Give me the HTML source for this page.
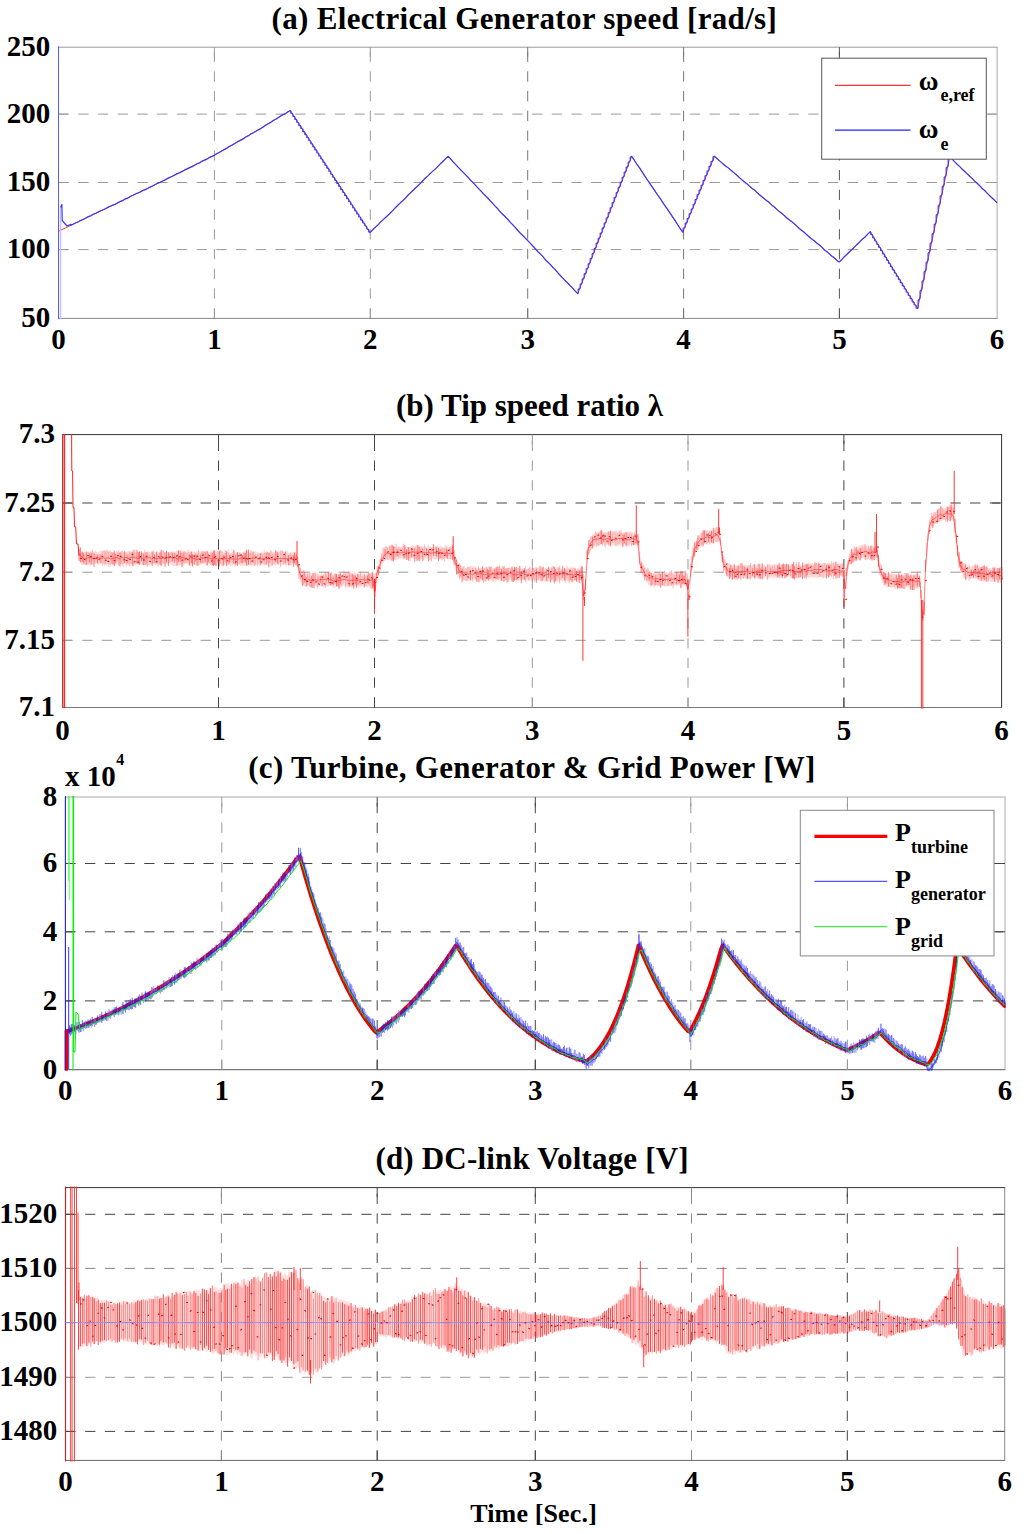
<!DOCTYPE html>
<html><head><meta charset="utf-8"><title>plot</title><style>
html,body{margin:0;padding:0;background:#fff;width:1024px;height:1534px;overflow:hidden}
svg{display:block}
text{font-family:"Liberation Serif",serif;font-weight:bold;fill:#000;stroke:none}
</style></head><body>
<svg width="1024" height="1534" viewBox="0 0 1024 1534">
<rect width="1024" height="1534" fill="#fff"/>
<g fill="none" stroke-width="1">
<path d="M214.4 318.4 V47.2" stroke="#9a9a9a" stroke-dasharray="10.3 9.43"/>
<path d="M370.3 318.4 V47.2" stroke="#9a9a9a" stroke-dasharray="10.3 9.43"/>
<path d="M527.7 318.4 V47.2" stroke="#777" stroke-dasharray="10.3 9.43"/>
<path d="M683.6 318.4 V47.2" stroke="#777" stroke-dasharray="10.3 9.43"/>
<path d="M839.4 318.4 V47.2" stroke="#555" stroke-dasharray="10.3 9.43"/>
<path d="M58.5 114.1 H997.1" stroke="#9a9a9a" stroke-dasharray="10.3 9.43"/>
<path d="M58.5 182.5 H997.1" stroke="#9a9a9a" stroke-dasharray="10.3 9.43"/>
<path d="M58.5 249.6 H997.1" stroke="#9a9a9a" stroke-dasharray="10.3 9.43"/>
<path d="M58 47.2 H997.6" stroke="#999"/>
<path d="M58 318.4 H997.6" stroke="#888"/>
<path d="M58.5 47.2 V318.4" stroke="#999"/>
<path d="M997.1 47.2 V318.4" stroke="#aaa"/>
<path d="M214.4 318.4v-9.5M214.4 47.2v9.5" stroke="#9a9a9a"/>
<path d="M370.3 318.4v-9.5M370.3 47.2v9.5" stroke="#9a9a9a"/>
<path d="M527.7 318.4v-9.5M527.7 47.2v9.5" stroke="#777"/>
<path d="M683.6 318.4v-9.5M683.6 47.2v9.5" stroke="#777"/>
<path d="M839.4 318.4v-9.5M839.4 47.2v9.5" stroke="#555"/>
<path d="M58.5 114.1h9.5M997.1 114.1h-9.5" stroke="#9a9a9a"/>
<path d="M58.5 182.5h9.5M997.1 182.5h-9.5" stroke="#9a9a9a"/>
<path d="M58.5 249.6h9.5M997.1 249.6h-9.5" stroke="#9a9a9a"/>
<svg x="57.5" y="46.2" width="940.6" height="273.2" viewBox="57.5 46.2 940.6 273.2" overflow="hidden">
<path d="M58.5 231.3 160 182.4 214.4 155.2 255.9 131.2 290.4 110.5 370.2 232.4 448 156.3 577.7 293.7 631.7 156.4 682.8 232.2 714.5 156.4 839.1 262 870.3 231.7 917.6 308.5 949.8 157 997.1 202.8" stroke="#ff2020" stroke-width="0.9"/>
<path d="M58.5 46 V319.5" stroke="#5a5aff" stroke-width="1"/>
<path d="M60.5 319.5 V207.5" stroke="#c0c0ff" stroke-width="1.4"/>
<path d="M60.6 207.5 61.9 204.5 62.2 220.5 67 226 71 224.4 71 225.3 73.5 224 75.9 222.7 78.4 221.8 80.9 220.2 83.4 219.3 85.8 218 88.3 216.6 90.8 215.8 93.2 214.2 95.7 213.3 98.2 211.9 100.7 210.7 103.1 209.7 105.6 208.8 108.1 207.1 110.6 206 113 205.1 115.5 204.2 118 202.7 120.4 201.4 122.9 200.6 125.4 198.8 127.9 198.1 130.3 196.5 132.8 195.3 135.3 194 137.8 193 140.2 192.1 142.7 190.5 145.2 189.6 147.6 188.5 150.1 187.1 152.6 186 155.1 184.5 157.5 183.3 160 182.4 162.5 181 164.9 180.1 167.4 178.6 169.9 177.3 172.4 176.3 174.8 174.9 177.3 173.6 179.8 172.7 182.3 171.4 184.7 169.9 187.2 168.9 189.7 167.6 192.1 166.6 194.6 165.3 197.1 163.7 199.6 163 202 161.1 204.5 160.1 207 159.1 209.5 157.4 211.9 156.4 214.4 155.2 216.8 153.5 219.3 152.5 221.7 151.1 224.2 149.6 226.6 148.4 229 146.6 231.5 145.5 233.9 144 236.4 142.6 238.8 141.1 241.3 139.9 243.7 138.6 246.1 136.8 248.6 135.6 251 133.7 253.5 132.8 255.9 131.2 258.4 129.8 260.8 128.6 263.3 127 265.8 125.1 268.2 123.7 270.7 122.4 273.1 120.5 275.6 119.3 278.1 117.7 280.5 116.1 283 114.6 285.5 113.6 287.9 111.7 290.4 110.5 290.8 111 290.8 113.1 292.4 113.5 292.8 114 292.8 116.1 294.4 116.6 294.8 117.1 294.8 119.2 296.4 119.6 296.8 120.1 296.8 122.2 298.4 122.7 298.8 123.1 298.8 125.3 300.4 125.7 300.8 126.2 300.8 128.3 302.4 128.8 302.8 129.2 302.8 131.4 304.4 131.8 304.8 132.3 304.8 134.4 306.4 134.9 306.8 135.3 306.8 137.5 308.4 137.9 308.8 138.4 308.8 140.5 310.3 141 310.8 141.4 310.8 143.6 312.3 144 312.8 144.5 312.8 146.6 314.3 147.1 314.8 147.5 314.8 149.7 316.3 150.1 316.8 150.6 316.8 152.7 318.3 153.2 318.8 153.6 318.8 155.8 320.3 156.2 320.8 156.7 320.8 158.8 322.3 159.3 322.8 159.7 322.8 161.9 324.3 162.3 324.8 162.8 324.8 164.9 326.3 165.4 326.8 165.8 326.8 167.9 328.3 168.4 328.8 168.9 328.8 171 330.3 171.4 330.7 171.9 330.7 174 332.3 174.5 332.7 175 332.7 177.1 334.3 177.5 334.7 178 334.7 180.1 336.3 180.6 336.7 181 336.7 183.2 338.3 183.6 338.7 184.1 338.7 186.2 340.3 186.7 340.7 187.1 340.7 189.3 342.3 189.7 342.7 190.2 342.7 192.3 344.3 192.8 344.7 193.2 344.7 195.4 346.3 195.8 346.7 196.3 346.7 198.4 348.3 198.9 348.7 199.3 348.7 201.5 350.2 201.9 350.7 202.4 350.7 204.5 352.2 205 352.7 205.4 352.7 207.6 354.2 208 354.7 208.5 354.7 210.6 356.2 211.1 356.7 211.5 356.7 213.7 358.2 214.1 358.7 214.6 358.7 216.7 360.2 217.2 360.7 217.6 360.7 219.8 362.2 220.2 362.7 220.7 362.7 222.8 364.2 223.3 364.7 223.7 364.7 225.8 366.2 226.3 366.7 226.8 366.7 228.9 368.2 229.4 368.7 229.8 368.7 231.9 370.2 232.4 372.7 229.8 375.2 227.4 377.7 225.3 380.2 222.3 382.7 220.1 385.3 217.7 387.8 215.5 390.3 213 392.8 210.6 395.3 207.7 397.8 205.3 400.3 202.8 402.8 200.8 405.3 198.4 407.8 195.3 410.4 192.9 412.9 190.5 415.4 188 417.9 185.7 420.4 183.4 422.9 180.7 425.4 178 427.9 175.9 430.4 173.4 432.9 171.1 435.5 168.9 438 166.3 440.5 163.7 443 161.3 445.5 158.9 448 156.3 450.5 158.6 453 161.9 455.5 164.4 458 167.1 460.5 169.7 463 172.1 465.5 174.7 468 177.2 470.4 180.2 472.9 182.4 475.4 185.1 477.9 187.8 480.4 190.4 482.9 193.2 485.4 195.6 487.9 198.2 490.4 201 492.9 203.6 495.4 206.4 497.9 208.8 500.4 212.1 502.9 214.5 505.4 216.8 507.9 219.5 510.4 222.3 512.9 224.9 515.3 227.4 517.8 230.5 520.3 233.3 522.8 235.5 525.3 238.2 527.8 240.6 530.3 243.2 532.8 246 535.3 248.6 537.8 251.7 540.3 253.8 542.8 256.4 545.3 259.7 547.8 262 550.3 264.4 552.8 267.3 555.3 269.6 557.7 272.6 560.2 275.5 562.7 278.1 565.2 280.6 567.7 283 570.2 285.7 572.7 288.2 575.2 291.2 577.7 293.7 578.2 292.9 578.2 289.4 579.7 288.6 580.2 287.9 580.2 284.3 581.7 283.5 582.2 282.8 582.2 279.2 583.7 278.4 584.2 277.7 584.2 274.1 585.7 273.4 586.2 272.6 586.2 269 587.7 268.3 588.2 267.5 588.2 264 589.7 263.2 590.2 262.4 590.2 258.9 591.7 258.1 592.2 257.3 592.2 253.8 593.7 253 594.2 252.3 594.2 248.7 595.7 247.9 596.2 247.2 596.2 243.6 597.7 242.8 598.2 242.1 598.2 238.5 599.7 237.8 600.2 237 600.2 233.4 601.7 232.7 602.2 231.9 602.2 228.4 603.7 227.6 604.2 226.8 604.2 223.3 605.7 222.5 606.2 221.7 606.2 218.2 607.7 217.4 608.2 216.7 608.2 213.1 609.7 212.3 610.2 211.6 610.2 208 611.7 207.3 612.2 206.5 612.2 202.9 613.7 202.2 614.2 201.4 614.2 197.8 615.7 197.1 616.2 196.3 616.2 192.8 617.7 192 618.2 191.2 618.2 187.7 619.7 186.9 620.2 186.1 620.2 182.6 621.7 181.8 622.2 181.1 622.2 177.5 623.7 176.7 624.2 176 624.2 172.4 625.7 171.7 626.2 170.9 626.2 167.3 627.7 166.6 628.2 165.8 628.2 162.2 629.7 161.5 630.2 160.7 630.2 157.2 631.7 156.4 634.3 160.2 636.8 164.2 639.4 167.7 641.9 171.4 644.5 175.6 647 179.5 649.6 183.2 652.1 186.9 654.7 190.7 657.2 194.5 659.8 197.9 662.4 201.9 664.9 205.6 667.5 209.1 670 212.9 672.6 216.9 675.1 220.7 677.7 224.8 680.2 228.7 682.8 232.2 683.2 231.5 683.2 228.2 684.8 227.5 685.2 226.8 685.2 223.4 686.8 222.7 687.2 222 687.2 218.7 688.7 218 689.2 217.3 689.2 214 690.7 213.2 691.2 212.5 691.2 209.2 692.7 208.5 693.2 207.8 693.2 204.5 694.7 203.8 695.1 203.1 695.1 199.7 696.7 199 697.1 198.3 697.1 195 698.6 194.3 699.1 193.6 699.1 190.3 700.6 189.6 701.1 188.9 701.1 185.5 702.6 184.8 703.1 184.1 703.1 180.8 704.6 180.1 705 179.4 705 176.1 706.6 175.3 707 174.6 707 171.3 708.6 170.6 709 169.9 709 166.6 710.5 165.9 711 165.2 711 161.8 712.5 161.1 713 160.4 713 157.1 714.5 156.4 717 158.5 719.5 160.9 722 163.1 724.5 165.2 727 166.9 729.5 168.9 731.9 171 734.4 173.1 736.9 175.2 739.4 177.6 741.9 179.9 744.4 182 746.9 183.8 749.4 186.1 751.9 188.3 754.4 189.9 756.9 192.4 759.4 194.7 761.8 196.7 764.3 198.8 766.8 200.7 769.3 202.6 771.8 205.2 774.3 207 776.8 209.4 779.3 211.6 781.8 213.4 784.3 215.5 786.8 218 789.3 219.9 791.8 221.6 794.2 223.7 796.7 225.9 799.2 228.5 801.7 230.5 804.2 232.2 806.7 234.8 809.2 237 811.7 238.9 814.2 240.8 816.7 243 819.2 244.8 821.7 246.9 824.1 249.7 826.6 251.5 829.1 253.6 831.6 256 834.1 257.7 836.6 260.1 839.1 262 841.7 259.7 844.3 256.7 846.9 254.3 849.5 251.8 852.1 249.2 854.7 246.9 857.3 244.2 859.9 241.7 862.5 239 865.1 237 867.7 234.1 870.3 231.7 870.8 232.2 870.8 234.4 872.3 234.9 872.7 235.4 872.7 237.6 874.2 238.1 874.7 238.6 874.7 240.8 876.2 241.3 876.7 241.8 876.7 244 878.2 244.5 878.6 245 878.6 247.2 880.2 247.7 880.6 248.2 880.6 250.4 882.1 250.9 882.6 251.4 882.6 253.6 884.1 254.1 884.5 254.6 884.5 256.8 886.1 257.3 886.5 257.8 886.5 260 888 260.5 888.5 261 888.5 263.2 890 263.7 890.5 264.2 890.5 266.4 892 266.9 892.4 267.4 892.4 269.6 894 270.1 894.4 270.6 894.4 272.8 895.9 273.3 896.4 273.8 896.4 276 897.9 276.5 898.3 277 898.3 279.2 899.9 279.7 900.3 280.2 900.3 282.4 901.8 282.9 902.3 283.4 902.3 285.6 903.8 286.1 904.3 286.6 904.3 288.8 905.8 289.3 906.2 289.8 906.2 292 907.7 292.5 908.2 293 908.2 295.2 909.7 295.7 910.2 296.2 910.2 298.4 911.7 298.9 912.1 299.4 912.1 301.6 913.7 302.1 914.1 302.6 914.1 304.8 915.6 305.3 916.1 305.8 916.1 308 917.6 308.5 918.1 307.1 918.1 300.5 919.6 299 920.1 297.6 920.1 291 921.6 289.6 922.1 288.1 922.1 281.5 923.6 280.1 924.1 278.7 924.1 272 925.6 270.6 926.1 269.2 926.1 262.6 927.7 261.2 928.1 259.7 928.1 253.1 929.7 251.7 930.1 250.3 930.1 243.6 931.7 242.2 932.1 240.8 932.1 234.2 933.7 232.8 934.2 231.3 934.2 224.7 935.7 223.3 936.2 221.9 936.2 215.2 937.7 213.8 938.2 212.4 938.2 205.8 939.7 204.3 940.2 202.9 940.2 196.3 941.8 194.9 942.2 193.5 942.2 186.8 943.8 185.4 944.2 184 944.2 177.4 945.8 175.9 946.2 174.5 946.2 167.9 947.8 166.5 948.2 165 948.2 158.4 949.8 157 952.3 159.4 954.8 161.9 957.3 164.5 959.8 166.6 962.2 169.3 964.7 171.5 967.2 173.9 969.7 176.3 972.2 178.4 974.7 181.1 977.2 183.3 979.7 185.6 982.2 188.5 984.7 190.5 987.1 193.1 989.6 195.7 992.1 198 994.6 200.3 997.1 202.8" stroke="#3838ff" stroke-width="1.2" stroke-linejoin="round"/>
</svg>
<text x="50.2" y="55.8" font-size="29" text-anchor="end">250</text>
<text x="50.2" y="122.7" font-size="29" text-anchor="end">200</text>
<text x="50.2" y="191.1" font-size="29" text-anchor="end">150</text>
<text x="50.2" y="258.2" font-size="29" text-anchor="end">100</text>
<text x="50.2" y="327" font-size="29" text-anchor="end">50</text>
<text x="58.5" y="348.7" font-size="29" text-anchor="middle">0</text>
<text x="214.4" y="348.7" font-size="29" text-anchor="middle">1</text>
<text x="370.3" y="348.7" font-size="29" text-anchor="middle">2</text>
<text x="527.7" y="348.7" font-size="29" text-anchor="middle">3</text>
<text x="683.6" y="348.7" font-size="29" text-anchor="middle">4</text>
<text x="839.4" y="348.7" font-size="29" text-anchor="middle">5</text>
<text x="997.1" y="348.7" font-size="29" text-anchor="middle">6</text>
<text x="271.6" y="28.6" font-size="31" textLength="505.2" lengthAdjust="spacing">(a) Electrical Generator speed [rad/s]</text>
<rect x="821.7" y="58.2" width="164.6" height="101" fill="#fff" stroke="#555"/>
<path d="M835 85.3 H910.5" stroke="#ff3030" stroke-width="1.3"/>
<path d="M835 130.1 H910.5" stroke="#2020ff" stroke-width="1.3"/>
<text x="918.8" y="89.6" font-size="27">ω</text>
<text x="940.4" y="100.8" font-size="18">e,ref</text>
<text x="918.8" y="138.2" font-size="27">ω</text>
<text x="940.4" y="150.3" font-size="18">e</text>
<path d="M218.5 707.5 V434.6" stroke="#444" stroke-dasharray="10.3 9.43"/>
<path d="M374.5 707.5 V434.6" stroke="#444" stroke-dasharray="10.3 9.43"/>
<path d="M532.3 707.5 V434.6" stroke="#999" stroke-dasharray="10.3 9.43"/>
<path d="M688 707.5 V434.6" stroke="#999" stroke-dasharray="10.3 9.43"/>
<path d="M843.9 707.5 V434.6" stroke="#444" stroke-dasharray="10.3 9.43"/>
<path d="M62.5 503 H1001.6" stroke="#444" stroke-dasharray="10.3 9.43"/>
<path d="M62.5 572.2 H1001.6" stroke="#999" stroke-dasharray="10.3 9.43"/>
<path d="M62.5 640.3 H1001.6" stroke="#999" stroke-dasharray="10.3 9.43"/>
<path d="M62 434.6 H1002.1" stroke="#333"/>
<path d="M62 707.5 H1002.1" stroke="#777"/>
<path d="M62.5 434.6 V707.5" stroke="#666"/>
<path d="M1001.6 434.6 V707.5" stroke="#333"/>
<path d="M218.5 707.5v-9.5M218.5 434.6v9.5" stroke="#444"/>
<path d="M374.5 707.5v-9.5M374.5 434.6v9.5" stroke="#444"/>
<path d="M532.3 707.5v-9.5M532.3 434.6v9.5" stroke="#999"/>
<path d="M688 707.5v-9.5M688 434.6v9.5" stroke="#999"/>
<path d="M843.9 707.5v-9.5M843.9 434.6v9.5" stroke="#444"/>
<path d="M62.5 503h9.5M1001.6 503h-9.5" stroke="#444"/>
<path d="M62.5 572.2h9.5M1001.6 572.2h-9.5" stroke="#999"/>
<path d="M62.5 640.3h9.5M1001.6 640.3h-9.5" stroke="#999"/>
<svg x="61.5" y="433.6" width="941.1" height="274.9" viewBox="61.5 433.6 941.1 274.9" overflow="hidden">
<path d="M63 434 V708 M64.6 434 V708" stroke="#ff2020" stroke-width="1.1"/>
<path d="M71.6 434 71.8 471 72.6 471 73 507.6 74 507.6 74.5 526.7 75.7 526.7 76.5 544 78 544 79 556" stroke="#ff2020" stroke-width="1"/>
<path d="M79 547.4 80.9 551.3 82.2 552.2 83.8 551.3 85.9 551.7 87.6 551.5 89.1 551.4 91.2 550.9 93.4 552.2 95.5 550.5 96.6 551.7 97.9 552.8 99.9 550.4 101.7 551.1 103.8 550.1 105.9 551.9 108.1 550.6 109.6 551.5 110.9 552.1 111.9 551.4 112.9 552.1 114.5 552.9 116.5 550.2 117.8 553 119.1 552.7 121.2 550.6 122.4 550.3 124.2 552.8 126.1 551.8 128.2 551.2 129.3 550.5 131.3 551.8 133 550.3 134.1 551.5 135.3 552.6 136.5 552.2 138.4 552.3 139.6 552.1 140.9 553.1 142.6 552.6 144.7 552.8 146.2 551.7 147.7 551.6 149.9 552.1 151.7 551.3 153.1 553 154.2 550.9 155.4 552.9 157.5 551.2 158.8 552.3 160 551.8 162.1 550.3 163.4 550.3 164.8 553.2 166.4 551.7 168 553.2 169.1 552 170.1 552.3 171.8 551.6 173.6 551.1 175.1 552.2 176.3 551 177.3 550.7 179.1 551 180.2 551.7 182.3 550.8 184 550.6 185.8 552.6 186.9 552.2 188.9 551.6 190.7 551.2 191.7 550.9 193.3 551.7 194.4 551.1 195.5 552.5 196.7 551 198.3 552.1 200.1 551 201.9 553 203.2 551.1 204.9 553.2 206.2 551.3 208 552.4 209.6 551.9 211.7 552.7 213.8 553.3 215.8 550.4 217.1 552.7 218.3 551.6 220 550.5 222 551.8 223.8 552.6 225.4 553.3 227 552 228.1 552.3 230.1 553.3 232.2 553 234 550.6 235.5 552.2 237.2 552.3 238.5 553.2 240.5 552.5 241.8 552.6 243 552.3 245.1 550.9 247.2 550.6 249 553.2 250.6 551.1 251.9 553.2 253.1 552 254.4 551.2 255.7 551.4 257.4 552.2 258.6 552.8 260.2 552.8 262.4 552.1 263.6 553.2 264.7 552.7 266.4 550.8 267.9 552.2 269.4 552.4 270.7 550.5 272.3 551.6 273.6 552.6 275.1 552.1 277.1 550.8 278.1 551.3 279.7 551.7 281.1 550.7 283.2 550.6 284.3 553 286.1 550.7 287.9 551.2 289.6 553.4 290.8 550.7 292.2 553.1 294 551.4 295.1 551.9 296.5 552.9 297.5 556.3 299.7 566.4 301.3 570.8 303.4 571.6 304.4 572.7 305.9 574.2 308 574.3 309.4 573.7 310.7 572.6 312.3 574.4 313.7 572.5 314.9 572.7 317.1 573.5 318.3 573.7 320.5 574.6 321.7 572.1 322.8 574.8 324.9 572.3 327.1 572.2 328.3 572.2 329.3 573 330.8 574 331.8 574.2 333.9 574.6 335.2 573.9 337.2 573.7 338.7 573.9 340 573.9 341 573.8 342.9 574.9 344 572.2 345.9 572.3 347.2 572.1 348.5 572.9 349.9 575 352 573.1 353 574.3 355.1 572.1 356.4 573.7 358.6 574.5 360.4 572.5 362.2 574 363.6 572.7 364.8 572.7 365.9 574.9 367.3 572.1 369.5 574.2 370.6 573.5 372.2 574.3 373.9 573 375.9 572.9 377.9 566.2 379.4 560 380.7 556.9 382.7 550.3 384.2 547.1 385.5 546.4 387.7 547.9 389.7 545.1 390.7 546.6 391.9 544.6 394 546.4 395.6 546.8 397.7 547.2 399.5 546.9 400.6 547 402.4 545.6 403.4 546.6 404.6 546.7 406.5 546 407.7 546.5 409.4 547.4 411.3 546.4 412.6 544.8 414.3 546.6 416.4 544.7 417.6 545.5 418.6 545 420.6 546.5 422.1 547.3 423.8 545.8 424.9 545.9 426.5 547.4 428.1 545 429.7 545.4 431 547.4 433.1 546.4 435.2 546.7 437 545.4 438.9 547.2 440.9 545.4 442.2 546.7 443.7 547.6 445.5 545.2 447.2 545.7 449.2 547.6 450.9 546.1 452.4 546.2 454.2 550.4 455.2 554.5 456.5 558.7 458 563.5 459.2 565.7 460.3 565.6 461.3 565.8 463.2 566.7 464.3 567.5 466.4 568.6 468.6 566.8 469.8 566.1 472 566.3 473.9 566.3 475.3 566.8 477.4 568.2 478.6 567.6 479.8 568.3 481.2 569 482.4 566.3 484.5 568.6 485.6 567.5 487.1 566.5 488.8 566.5 491 567.2 492.9 568.3 494.6 568.1 496.1 568.6 497.2 566.7 499 566.2 500.8 568.2 501.8 568.7 503.3 567.6 504.5 568.5 505.5 569.2 506.6 568.1 508.3 567.4 510.1 567.8 512.2 568.5 513.3 567.3 515.3 568 516.3 567.3 517.7 567.3 519.8 567 521.9 569.1 523.4 568.5 525.3 569.2 527.4 568.8 529.2 567.8 531.2 568.8 532.5 569.1 534.5 567.2 536.5 567.1 538.4 568 539.5 568.6 540.9 567.1 542.9 567.2 544.6 568 546.2 568.6 548.4 568.7 549.4 568.6 551.3 566.5 552.7 566.7 553.9 566.7 555.8 567.4 557.3 566.9 559.4 568.1 561 568.5 562.8 569.2 564 569.3 566.1 568.4 567.1 569.3 568.9 567.4 570 567.7 571.9 567 573 566.9 575.2 569.1 576.3 569.4 578.3 567.6 580 568.6 581.1 567.2 582.5 569.2 583.8 589.4 585.3 581.1 586.9 548.1 587.9 543.9 589.8 538.3 591.5 536 592.6 533.5 593.6 534.8 595.8 534.3 597.4 531.6 599 532.7 600.3 530.7 601.5 531.4 602.7 531.6 604.6 531.5 606.4 532.6 607.8 531 609.9 533.6 611.2 531 612.7 531.1 614.2 532.2 616.1 531.9 617.5 533.4 619.3 531.7 620.8 531.6 622 532.6 623.3 533.4 625.1 531.5 626.3 533.3 627.9 533.6 629.2 531.2 630.3 531.3 631.7 531.3 633.6 532.9 635.4 534 636.8 534.7 638.8 536.5 640.6 558.1 642.3 562.3 644.4 565.9 646.3 569 648.1 569.2 650 570.9 651.7 572.2 653.5 573.3 655.4 571.5 656.7 572.5 658.5 572.6 660.6 573.3 662.5 572.8 664.7 573.9 665.9 571.7 667.5 573.8 669.2 572 670.9 571.7 672.4 571.4 674.3 573.2 675.4 571.4 676.5 573.6 677.5 573.2 679.3 573.5 680.6 572.3 682.2 574 683.7 574 685.6 572.3 687.2 573.1 689.3 588.6 691.3 556.9 692.7 550.3 694.7 543.4 696 540.2 697.5 537.8 699.4 535 700.7 533.3 702.5 532 704.6 530.6 706.6 529.8 707.8 529.7 708.8 531.9 710.6 530.7 711.8 530.4 713.2 530.2 715.1 529.5 716.9 527 718.9 527.3 720.2 532.3 722.1 549.2 723.7 558.3 724.9 560 726.4 563.6 728 563.8 729.1 563.3 730.7 564.5 732.2 565.7 733.3 565.1 734.3 565.1 736.4 565.9 738 565.4 739.1 564.7 740.5 564.3 742 565.2 743.3 565.5 745 564.3 747 565.5 748.3 565.2 750.1 564.3 751.5 565.8 753.2 564.3 755.1 563.9 756.1 565.7 757.4 563.8 759.2 564.1 760.9 564.6 762.7 564.7 764 564.4 765.9 566.1 766.9 564 768.7 565.2 770.7 564.6 772 565 773.6 564.3 774.6 564.5 775.8 563.8 777.9 564.8 779.3 564.4 781.5 564.7 782.6 564.2 783.8 566 785.6 565.7 786.7 563.4 787.8 563.8 789.6 565.4 791.6 563.8 793.4 565.6 795.3 564.5 796.6 562.9 797.6 565.8 799.6 565.5 801.5 565.3 803.1 565.5 804.7 564.4 805.9 563.3 807.7 563.8 809.2 563.3 811.1 563.9 812.2 562.6 814.2 564.5 816.3 563 817.7 564.2 819.2 563.4 821.2 563 822.2 564.6 823.9 562.9 825 562.8 827 563.6 829 562.8 831.1 564.2 832.8 562.8 834.7 562.4 836.4 563.1 837.7 564.3 839.6 563.7 841.6 562.7 843.3 562.3 844.9 591.9 846.2 565.8 848 557.9 849.5 552.8 850.5 550 851.7 549.6 852.8 548.8 854.5 549.7 856.7 546.1 858.3 547.2 859.8 545 861.8 544.7 862.9 546.9 864 547.2 866 545.7 868.1 546.9 869.6 547 870.9 545.8 873 545.7 874.6 547.5 876.8 544.7 878.1 553.1 880.2 562.6 882.1 568 884.3 572.7 886.2 572.2 887.6 573.6 888.7 574.6 889.8 574.4 891.1 575.7 892.1 574.2 893.2 573.8 895.3 574.4 896.5 575.6 898.6 574.3 900.1 575.8 901.7 574.9 903 576.5 904.6 576.2 905.9 575.3 907.3 574 908.5 575 910.6 576.1 911.6 573.7 912.9 574.9 914.2 575.7 916.4 573.2 917.5 575.3 918.6 573.9 920.7 576 922.1 611.2 924.1 602.2 925.7 554.9 927.4 538 929.3 519.2 930.4 518.5 932 514.3 933.7 511.8 935.4 512.3 937.3 510.5 938.3 508.6 940.4 507.4 941.4 507.1 943.4 508.7 945.4 508.1 946.9 507.2 948.5 507.4 949.6 506.4 951.7 507.2 953.1 506.5 955.2 518.9 956.8 536.4 957.8 545.3 959 554.9 961 561.6 962.9 564.2 964.6 563.9 966.4 566.2 968.3 567.1 969.9 566.4 971 566.8 972.7 565.6 974.4 566 976.4 565.6 977.9 566 979.4 565.7 980.8 567.9 982.3 565.8 984.4 566.4 985.5 567.4 987.6 568.3 989.4 568.1 990.4 567.9 991.5 568.9 993.4 566.6 995.4 566.9 996.4 567.7 998.2 568.9 1000.3 568 1002 568.6 1002 582.8 1000.3 580.6 998.2 581.3 996.4 580.4 995.4 582.2 993.4 581.3 991.5 582.2 990.4 580.8 989.4 580.8 987.6 580.3 985.5 581.8 984.4 581.4 982.3 581.2 980.8 579.7 979.4 580.9 977.9 580.1 976.4 579.6 974.4 578.8 972.7 578.6 971 578.5 969.9 578.8 968.3 577.6 966.4 579.1 964.6 577.2 962.9 574.8 961 572 959 565.9 957.8 558.9 956.8 549.6 955.2 533.3 953.1 519 951.7 520.3 949.6 521 948.5 520.2 946.9 519 945.4 519.7 943.4 520 941.4 521.2 940.4 521.4 938.3 522 937.3 523.9 935.4 523.1 933.7 526.4 932 525.7 930.4 530.6 929.3 531.9 927.4 549 925.7 568.3 924.1 614.3 922.1 621.7 920.7 588.4 918.6 587 917.5 588.8 916.4 588.9 914.2 587.3 912.9 587.2 911.6 588.4 910.6 589.3 908.5 587.4 907.3 587.5 905.9 587 904.6 589.2 903 588.8 901.7 587.2 900.1 589.3 898.6 588.7 896.5 587.2 895.3 589.7 893.2 587.3 892.1 586.9 891.1 588.2 889.8 586.4 888.7 586.4 887.6 587.6 886.2 587.1 884.3 583.3 882.1 582.1 880.2 575.3 878.1 566.9 876.8 555.5 874.6 560.8 873 558.9 870.9 559.4 869.6 560.2 868.1 558.9 866 560 864 559 862.9 558 861.8 558.3 859.8 560.1 858.3 560.3 856.7 560.1 854.5 559.9 852.8 561.6 851.7 563.8 850.5 564.1 849.5 564.8 848 570.7 846.2 576.9 844.9 605.1 843.3 577.7 841.6 575.7 839.6 575.3 837.7 577.4 836.4 576.5 834.7 575.9 832.8 575.8 831.1 575.5 829 577.3 827 576.1 825 577.8 823.9 578 822.2 576.6 821.2 576.2 819.2 577.2 817.7 578.1 816.3 577.3 814.2 577.3 812.2 577.7 811.1 576.5 809.2 578.5 807.7 576.9 805.9 576.8 804.7 577.7 803.1 576.8 801.5 578.3 799.6 576.7 797.6 577.8 796.6 578 795.3 578.7 793.4 577.8 791.6 578.5 789.6 576.1 787.8 576.7 786.7 576.4 785.6 578.9 783.8 576.1 782.6 576.7 781.5 577.3 779.3 579 777.9 576.2 775.8 577.9 774.6 576.4 773.6 579.1 772 577.2 770.7 577.1 768.7 578.8 766.9 579.1 765.9 576.9 764 577.8 762.7 578.5 760.9 578.4 759.2 579.2 757.4 578.4 756.1 576.6 755.1 578.2 753.2 576.7 751.5 578.4 750.1 577.7 748.3 579.6 747 578.2 745 577.6 743.3 578.1 742 579.1 740.5 577.9 739.1 578.7 738 579.6 736.4 579.9 734.3 579 733.3 578.9 732.2 579.9 730.7 579 729.1 577.2 728 578 726.4 575.6 724.9 571.7 723.7 569.8 722.1 563.2 720.2 546 718.9 542.1 716.9 541.4 715.1 542.6 713.2 543.3 711.8 543.4 710.6 541.7 708.8 544.8 707.8 544.1 706.6 544.9 704.6 543.3 702.5 545.1 700.7 546 699.4 546.6 697.5 548.3 696 552.1 694.7 557 692.7 562.3 691.3 570.8 689.3 601.5 687.2 585.5 685.6 586.6 683.7 585.1 682.2 587 680.6 587.4 679.3 585.3 677.5 585.7 676.5 585.6 675.4 585.4 674.3 586.6 672.4 584.9 670.9 585.8 669.2 585.7 667.5 585.8 665.9 586.9 664.7 585.6 662.5 585.4 660.6 585.8 658.5 585.8 656.7 585.1 655.4 585.6 653.5 584.9 651.7 584.5 650 585.5 648.1 584.2 646.3 580.9 644.4 578.9 642.3 575.7 640.6 570 638.8 550.1 636.8 546 635.4 544.9 633.6 544.8 631.7 546.6 630.3 544.5 629.2 546.3 627.9 545.1 626.3 545.1 625.1 544.5 623.3 544.9 622 546.6 620.8 545.7 619.3 544.4 617.5 546.4 616.1 544.9 614.2 546.1 612.7 544.5 611.2 545.3 609.9 544.3 607.8 543.9 606.4 544.8 604.6 546 602.7 543.8 601.5 545 600.3 544.4 599 546.2 597.4 544.6 595.8 545.8 593.6 547.7 592.6 546.5 591.5 549.3 589.8 551.4 587.9 556.5 586.9 562.6 585.3 594.9 583.8 602.4 582.5 580.5 581.1 580.1 580 579.8 578.3 582 576.3 582 575.2 580.1 573 582.2 571.9 582.1 570 580.5 568.9 581.7 567.1 581.5 566.1 579.9 564 579.7 562.8 582.1 561 580 559.4 581.6 557.3 581.5 555.8 582.3 553.9 581.3 552.7 580.4 551.3 581.6 549.4 580.1 548.4 582 546.2 581.3 544.6 581.7 542.9 580.1 540.9 581.4 539.5 579.4 538.4 580 536.5 580.7 534.5 579.3 532.5 582 531.2 580.2 529.2 581.2 527.4 579.9 525.3 580.9 523.4 579.4 521.9 580.8 519.8 580 517.7 580.6 516.3 580.9 515.3 580 513.3 581.8 512.2 579.7 510.1 579.6 508.3 579.8 506.6 579.9 505.5 580.2 504.5 581.1 503.3 581.9 501.8 581 500.8 579.2 499 580.9 497.2 579.9 496.1 581.4 494.6 581.4 492.9 582.1 491 580.3 488.8 579.4 487.1 580.8 485.6 581 484.5 581.4 482.4 581.1 481.2 579.6 479.8 580.6 478.6 581.8 477.4 581.5 475.3 579.5 473.9 579.2 472 579.5 469.8 580.5 468.6 581.5 466.4 581.6 464.3 580.1 463.2 580.5 461.3 578 460.3 578.5 459.2 577.4 458 575.5 456.5 573.3 455.2 567.9 454.2 563.1 452.4 559.3 450.9 558.9 449.2 559.8 447.2 558.1 445.5 558.1 443.7 558.7 442.2 559.5 440.9 558.5 438.9 559.1 437 558.4 435.2 560.6 433.1 558 431 560.7 429.7 560.7 428.1 558.1 426.5 558.6 424.9 558.9 423.8 560.5 422.1 557.8 420.6 560.4 418.6 559 417.6 558.3 416.4 558.8 414.3 558.9 412.6 558.6 411.3 558.5 409.4 558.1 407.7 559.3 406.5 557.8 404.6 558.2 403.4 559.6 402.4 558.2 400.6 558.3 399.5 558.7 397.7 559.3 395.6 559.9 394 560.1 391.9 559.3 390.7 557.9 389.7 560.3 387.7 559.6 385.5 560.8 384.2 561.6 382.7 563 380.7 568.1 379.4 572.8 377.9 578.8 375.9 585.3 373.9 587.2 372.2 586.3 370.6 587.1 369.5 585.3 367.3 587.7 365.9 586.7 364.8 585.7 363.6 585.2 362.2 586 360.4 587.3 358.6 587.4 356.4 586.5 355.1 586.2 353 586.4 352 587.8 349.9 587.3 348.5 585.9 347.2 586.9 345.9 586 344 585.8 342.9 585.1 341 587.4 340 587.7 338.7 587.8 337.2 585.1 335.2 587.5 333.9 587.9 331.8 586.1 330.8 585.5 329.3 586.1 328.3 587.2 327.1 586 324.9 587.2 322.8 586.2 321.7 585.4 320.5 586.2 318.3 587 317.1 585.6 314.9 585.9 313.7 585.7 312.3 587.9 310.7 587.2 309.4 587 308 585.1 305.9 587 304.4 586.2 303.4 584.6 301.3 582.2 299.7 581 297.5 568.6 296.5 565.4 295.1 565.2 294 563.8 292.2 564.2 290.8 565.4 289.6 565.8 287.9 564.9 286.1 565.6 284.3 565 283.2 564.2 281.1 565.9 279.7 563.5 278.1 566.1 277.1 563.5 275.1 566.3 273.6 564.2 272.3 566 270.7 563.8 269.4 563.6 267.9 565 266.4 565.7 264.7 564.2 263.6 564.4 262.4 563.8 260.2 566.1 258.6 566.1 257.4 563.9 255.7 564.3 254.4 566.3 253.1 564.4 251.9 566.2 250.6 565.3 249 565.6 247.2 565 245.1 565.3 243 566.2 241.8 564.9 240.5 566.2 238.5 563.7 237.2 564.6 235.5 566.4 234 564.2 232.2 566.1 230.1 565.6 228.1 564.3 227 564.2 225.4 563.3 223.8 566 222 566 220 563.7 218.3 563.7 217.1 566.2 215.8 564.7 213.8 564.7 211.7 566.2 209.6 563.7 208 564.8 206.2 565.4 204.9 563.5 203.2 564.2 201.9 563.7 200.1 565.1 198.3 564.7 196.7 566.2 195.5 565.5 194.4 564 193.3 565.2 191.7 565.5 190.7 564.7 188.9 565.1 186.9 563.6 185.8 563.3 184 565.3 182.3 565.7 180.2 564.7 179.1 565.7 177.3 565.9 176.3 565.1 175.1 566.2 173.6 565.9 171.8 565.5 170.1 563.9 169.1 563.3 168 564 166.4 563.8 164.8 564.3 163.4 564.1 162.1 564.8 160 564 158.8 564.6 157.5 564 155.4 565.7 154.2 563.9 153.1 563.6 151.7 564.4 149.9 565.7 147.7 565.2 146.2 565.7 144.7 565.6 142.6 564.6 140.9 565.3 139.6 563.2 138.4 564.6 136.5 564 135.3 563.3 134.1 563.8 133 563.9 131.3 564.1 129.3 563.3 128.2 565.5 126.1 563.3 124.2 563.3 122.4 564.8 121.2 563.9 119.1 564.4 117.8 565.4 116.5 563.4 114.5 566 112.9 564.9 111.9 564.4 110.9 565.2 109.6 564.1 108.1 563.5 105.9 564.5 103.8 563.7 101.7 563.5 99.9 563.5 97.9 565 96.6 563.3 95.5 563.4 93.4 564.7 91.2 565.7 89.1 564.5 87.6 565.1 85.9 564.8 83.8 565.3 82.2 565.3 80.9 563.3 79 560.7 Z" fill="#ff0000" fill-opacity="0.15" stroke="none"/>
<path d="M84.7 554.5V564.3M88.1 552.2V564.3M92.6 549.9V562.5M95.9 554.1V561.4M99.2 554.4V562.4M102.6 551.4V566.1M104.2 550.6V565.5M105.7 550.3V565.3M107 549.8V561.1M108.6 552.1V566.8M110.1 550.4V566.3M111.5 552.4V563.8M117.4 551.6V561.6M118.8 550V566.1M121.2 551.7V564.1M123 551.9V567.1M126.2 553V566.8M129.4 551.7V566.4M130.9 552.5V564.9M133.7 549.2V566.1M134.9 549.8V565.3M144.7 550.1V564.7M147.7 552V567.1M149.1 554.4V562.1M150.3 554.6V562.2M153.3 550.5V563.1M158 554.8V566.5M163.1 550.3V563M169.6 553.1V562.3M171 551.8V561.9M175.6 553.8V561.4M185.2 551V562.8M186.8 553V562.7M188.1 550V562M198.5 549.8V565.9M203.8 551.1V562.8M209.7 555.1V563.2M211 550.3V564.7M217.8 550.8V561.8M220.4 549.6V563.9M222.2 550.9V566.3M225.2 549.8V562.1M228 549.5V565.2M230.6 553.5V562.2M232.3 553.9V562.8M239.2 551.8V564.1M250 552.8V562.5M251.1 549.9V565.3M254.3 555.2V566M255.6 554.3V565.2M257.6 554.4V566.1M259.3 553.5V562.5M262.6 554V561.7M264.2 550.5V565.7M267.6 551.9V561.9M269.9 552.8V562.6M271 550.4V566.6M272.5 553.7V565.4M274 553.4V564.1M278.5 553.5V564.2M280.4 550.3V567.3M282.1 550.6V561.8M283.7 553.7V564.9M287.2 555.3V562.6M290.3 553V564.7M291.8 554.8V562.6M298.9 565.5V579.3M300.6 567.7V578.9M303.6 570V585.2M307.6 572.8V585.6M309.3 571.8V586.4M314.4 572.6V588.7M315.5 573.4V583.6M317.4 576.3V588.6M318.7 575.8V585.7M323.9 574.7V583.9M325.4 572.9V587.8M326.6 574.9V583.9M331.5 571.9V585.4M341.8 575.4V586.4M343.8 571V583.2M345.6 571.8V587.6M347.2 574.8V584.7M350.9 572.6V586.1M359 575.2V584.9M360.6 571.4V585M362.3 576.5V584.1M366.1 576.6V585.9M370.1 573.4V588.2M371.4 572.6V588.8M373.8 575.9V586.2M377.2 566V578.3M380.3 558.9V569.9M381.6 553.5V562.4M383.2 547.4V559.7M386.2 546V557.2M387.7 547V559.7M389.4 546.1V557.7M390.7 545.2V560.1M394.6 546.7V559.5M396 543.6V556.9M398.7 546.2V556.7M400.1 548.7V556.6M402.1 548.6V555.8M403.4 543.7V558.6M410 547.2V561.2M413.2 548.3V556.9M416.5 548.8V560.9M420.9 546.2V558.5M424.6 544.6V556.9M430.3 549.2V556.8M431.5 547.8V561.3M435.2 545.7V556.1M441.8 549V560.3M443 547.8V558.9M444.4 548.6V561.7M448.9 547.8V556M450.6 546.7V559.3M455.4 556.9V566.3M459.4 563.2V579M460.5 565V577.1M463.9 565.9V580.1M465.9 569.6V580.8M467.3 566.7V579.4M469 567V579M472.5 568.2V581.4M474 569.7V577.9M475.6 567.9V580.2M478.6 566.1V582.4M479.7 568.8V582.1M483.5 568.7V583.1M485 568.2V581.9M486.3 567V579.3M491.3 566.1V577.7M493.2 569.9V579.7M499.5 565.6V578.3M502.4 566.6V579.4M505.6 568.4V580M508.6 568.1V582.1M510.4 568.8V577.4M517.9 568.7V580.7M522.7 569.4V578.8M525.6 566.1V582.1M527 570.1V577.6M528.4 568.5V580.2M529.8 566.5V578.5M531.4 571V579.2M534.7 569.6V581.6M538.2 571V579.9M539.4 566.1V577.8M540.6 565.8V580.7M543.5 566.3V578.2M544.8 570.7V577.9M551.7 567.9V579.3M552.9 565.9V579.3M556.9 570.8V580.2M558.4 567.3V578.1M559.6 565.9V583.4M561.1 569.7V579.5M565.8 569.8V582.8M567.1 565.9V577.6M569.1 569.4V583.1M573.1 568.1V578M578.1 569.4V579.7M590.9 536.3V550M593.9 537V545.5M595.3 531.1V542.9M596.6 532.6V546.9M597.8 534.5V545.5M598.9 532V545.9M600.3 530.6V544.3M602.6 534.1V546M605.1 533.6V547.5M607 532.8V544.6M612.3 533.7V542.7M614 531.3V542.6M615.9 530.4V546.3M617.8 532.4V544.5M619.6 530.7V543.7M621.1 530.3V542.7M627.9 531.4V546.2M629.8 533.7V542.7M631.6 534.2V545.8M634.7 531.4V544.8M639.4 551.4V564.2M643 565.7V574.4M644.5 568V580.6M646.4 570V581.3M647.9 567.8V580.8M652.5 575V584.9M654.1 573.4V587.2M657.8 573.6V585.7M659.2 572.7V585.9M664.4 570.7V586.4M665.5 574.1V582.9M667.4 575.2V585.6M668.6 573.8V586.6M669.9 571.6V583.9M671.4 570.4V586.1M673.1 574V588.1M674.8 574.7V583.3M678.2 571.2V583.5M687.2 574.1V587.8M689 591.3V600.1M690.5 563.5V576.9M691.8 555.9V569.6M693.2 547.9V559.2M699.7 536.7V545.3M701.7 532.5V546.5M706.5 531.4V543.7M709.8 530.6V544.7M715 527.5V541M716.9 526.9V542.3M718.8 530.8V541.8M720.5 536.8V544.9M723.5 556.3V572.2M724.9 559.3V570M727.7 566.9V575.9M737.2 565.1V579.3M740.6 562.9V579.7M743.2 566.1V578.9M746 567.6V579.2M748.9 565.3V578.9M750.6 563V580.2M755.7 567.6V578.4M764 567.7V575.1M767.5 564.1V580M769 563.9V576.6M772.5 566V574.3M774.3 565.5V574.5M775.8 567.8V576.2M790.5 566.6V576.3M796.4 562.3V577.7M797.7 566.9V573.9M804.4 564.4V578.6M808.3 563.2V573.8M810.2 564.8V574.3M811.5 565V574.2M813.1 565.4V574.1M816.3 562.9V574.4M819.5 563.3V577M821 565V577.1M822.9 563V578.1M824.8 563V573.5M831.4 561.3V577.1M833.2 562.2V579.1M837.7 562.5V578.4M840.9 564.8V576.3M842.2 563.8V576.9M844.1 582.9V596.9M848 560.9V568.6M850 554.6V564.3M854.4 546V561.7M858.5 549.3V558.9M861.4 547.8V558.1M862.9 545.1V556M864.3 544.3V555.5M865.6 544V560M866.9 548.9V556.1M868.2 545.2V558.7M869.4 548.4V555.9M875.8 547.3V557M879.7 563.7V574.2M881.3 564.8V576.4M889.9 573.4V587.2M891.8 573.1V585M893.4 577.2V585.7M894.7 578.4V586.5M904.8 572.9V589.1M916 574.5V585.5M926.8 542.6V555.3M928 532.6V541M929.5 520.4V534.1M931.4 512.7V526.1M934 514V523.5M935.8 512.1V523.8M939 508.7V522.1M942.8 508.1V518.7M944.1 509.9V519.6M945.8 510.7V521.5M948.9 506.6V520.9M953.6 508.3V521.1M964 562.8V578.4M967.5 567.1V576.4M969.1 564.5V580.9M970.4 569.9V579.2M985.5 566.8V579.3M988.5 570V581.4M990.3 569.8V577.8M991.9 570.5V578.5M996.3 570.3V579.3M1000.7 567.2V582.8" stroke="#ff8a8a" stroke-width="0.6"/>
<path d="M79 549.2V560.9M80.6 547.4V562.3M82.2 551.8V561.9M83.4 553.2V563.4M86.3 551.6V564.9M89.6 553.2V562.5M91.2 552.7V564.5M94.1 553.3V567M97.4 554.7V563.4M100.9 554.1V563.1M112.9 552.7V564.4M114.3 550.4V566.2M115.8 554V562.9M120 552.5V566.6M124.6 551V563.4M127.8 554.5V563.4M132.3 551.9V566M136.9 549.8V563.7M138.3 552.1V564.2M139.5 551.4V564.8M141.5 551.3V561.4M143.3 553.3V565.3M146 552.2V564.5M152.2 551.5V566M154.7 554.2V562.8M156.6 551.7V563.3M160 552.5V564.9M161.2 549.6V566.3M165 552.2V566.9M166.5 550.9V562.5M168.4 552.3V566M172.4 552.8V561.6M174.3 553.1V562.7M177 554.3V565.5M178.4 550.2V562M180.2 550.4V562.2M182 553V567M183.9 552.2V562.6M189.7 553.6V565.9M191.4 551.8V563.1M192.5 554.2V566.4M194.2 554.6V564.6M195.8 553.5V561.7M197.1 554.5V565.6M200.4 554.5V562.9M202.1 551.3V563.4M205.2 551.5V562.4M207.2 550.9V565.6M208.3 554.3V562.5M212.3 552.7V565.4M213.4 550.3V566M214.6 550.2V565M215.9 554.6V566.1M219.3 550.8V566.3M223.7 555V565.5M226.4 551.1V566.2M229.3 555V563.5M233.8 549.7V563.5M235.7 554.5V564.7M237.5 552.1V565.9M241.1 554.7V563.1M242.3 555V563.1M244.1 552.7V562.1M245.6 553.2V562.4M246.7 549.4V565.9M248.5 549.5V564.8M253 551.5V562.9M260.7 553.2V564.7M266.2 552.5V564.4M268.8 552.8V567.3M275.8 550V562.4M277.3 552.1V563.5M285.3 551.6V563.3M288.7 555V565.4M293.4 554.8V566.7M294.5 552.3V563M296.1 554.1V564.9M297.7 556.8V566.8M302.4 574.6V586.2M304.8 571.8V582.8M306.3 576.9V586.6M311.2 576V587.5M313 572.9V588M320.3 576.3V583.1M322.1 575.9V586.3M328.4 572.2V583.2M330.3 572.9V585.4M333.2 576.5V585M335.1 573.5V583.3M336.5 574.2V586.5M337.9 577V586.5M339 574.2V588.9M340.3 573V584.6M349.1 571.4V587.1M352.3 573.7V585.4M353.7 575.1V588.9M355.2 575.5V584.4M356.4 577V588.2M357.9 573.6V584.8M364.3 574.9V587.6M367.5 575.5V583.1M368.8 572.8V584.3M372.6 572.1V588.3M375.5 578.3V591.2M378.6 566.4V575.3M385 549V557.6M392.1 544.9V561.4M393.5 546.4V561.2M397.2 549.4V556.4M404.8 544.8V558.4M406.7 549V560M408.4 547.2V560.8M411.7 548.3V557.2M414.8 547.9V561.7M417.8 545.2V560.7M419.2 546.8V561.1M422.8 548.5V561.1M426.6 548V555.9M428.6 549.7V561.3M433.4 544V556M436.5 547.3V556.5M438.5 548V561.2M440.1 549.1V558.5M446.2 548.3V557M447.3 549.7V559M452.6 544.8V560.3M454 550.4V564.8M456.5 559.4V574.6M458.2 564.1V573.8M462.1 568.4V582.2M470.6 569.7V580.7M476.9 570V582M480.9 570.2V578.6M482.4 566.3V580.2M487.6 568.9V579.1M488.7 569.9V580.5M490 566.8V578.8M494.8 568.9V577.4M496.2 566.9V578.9M497.9 566.3V579.3M501.3 568.9V581.2M504 565.8V581.7M507.1 568.3V582.5M512 566.6V581.8M513.3 570.7V582.1M514.5 566.7V580.6M516.2 567V580.1M519.8 566V578.1M521.3 571.2V583.2M524.3 568.2V579.8M532.9 567.9V579.2M536.3 568.6V582.9M542.2 567.3V581.4M546.7 568.9V581.3M548.6 567.2V578.3M550.4 571.1V582.4M554.2 566.6V583.3M555.3 569.1V581.2M562.7 565.8V578M564.6 567.8V580.7M570.2 569.4V580.1M572 570.4V582.2M575 567.9V580.2M576.5 570.9V581.4M579.4 570.5V583.1M581.2 566.3V580.4M582.4 566.2V578.2M584 590.5V600M585.6 579.2V590.4M587.1 550.5V558.5M588.9 540.1V554.5M592.6 536.6V548.5M601.4 529.9V544M603.8 533.5V542.4M608.9 531.2V545.5M610.5 530.7V546.5M622.9 534.5V547M624.2 533.3V543.5M626.1 532V546.3M633.5 536.2V545.2M636.2 534.4V543.7M638 533.9V545.3M641.2 562.3V573.2M649.2 571.6V580.8M651.1 572.8V586.4M655.8 575.2V585.4M660.7 573.7V587.7M662.6 571.8V585.3M676.7 571.7V584.5M679.5 574.6V582.8M680.9 570.8V588.3M682.3 571V583.8M683.8 576V584.2M685.2 570.9V584.3M694.3 542.3V556.6M696.3 541.1V550.2M697.9 535.3V549.9M703.1 530.1V546.2M704.6 530.3V543.3M708.4 533.2V542.1M711.5 530.7V542.6M713.3 527.8V543.6M722.3 553.5V562.4M726.3 565.8V575.6M729.5 567.8V579M730.8 564.7V576.6M732.4 567.7V579.8M734.3 564.1V578.2M736.1 568.8V578M738.7 565.8V578.4M742 562.9V575.2M744.7 566.7V575.9M747.5 567.5V578.9M752.4 568.3V575.9M754.3 564.3V578.4M757.1 568.3V575.6M759 563.7V577.2M760.2 567.6V579.2M762.2 563V579.2M765.6 567.1V575.9M770.8 567.5V574.4M777.7 565.3V578M779.1 562.7V576.5M780.7 567.4V575.3M782.3 564.3V578.3M783.5 563.7V574.4M784.9 564V578.3M786.6 563.9V576.9M788.5 564.4V574.4M792.4 564.1V578.4M793.6 562V578.7M794.7 566.4V579.5M798.9 562V578.1M800.8 566.8V576.8M802.6 562.4V579.2M806.1 564.1V578.5M807.2 564.4V575.4M814.9 562.4V574.1M818.3 562.8V573.5M826.6 564.7V578.6M828.6 564.6V577.5M829.9 565.2V575.2M834.6 565.7V575.6M835.9 561.8V578.7M839.3 566.4V578M846.1 568.1V575.9M851.7 548.9V563.9M853 552.3V562.6M856.1 547.4V561.1M857.2 550V556.5M860.2 548.1V560.4M870.9 545.6V558.9M872 549.5V560.7M874 547.7V560.2M877 545.6V557.8M878.5 554.7V566.7M883.1 572V579.6M884.3 572.2V585.2M885.5 573.5V583.5M887 576.5V583.6M888.6 571.9V586.9M896.2 574.6V585.4M897.6 577.7V588.9M898.8 572.9V587.7M899.9 574.9V587.9M901.4 574.3V588M903 575.1V588.6M906.2 573.1V585.7M907.9 573.1V585M909 575.8V585.3M910.8 574.9V590M912.5 578.2V590M914 575.2V590M917.3 572.1V586.9M919.3 576.1V586.5M921 589.9V598.3M922.8 611.1V620.7M924.3 601.8V615.4M925.6 559.4V571.9M932.8 516.2V528M937.7 509.5V522.5M940.9 506.1V519M947.4 506.8V521.7M950.2 504.7V521.2M951.7 504.5V517.5M955 518.4V533M956.3 534.1V543M957.6 545.2V556.2M959.2 552.3V567.4M960.9 560.9V570.6M962 561.3V572.4M965.7 563.9V579.9M971.7 569.7V576.1M973.5 570.2V577.6M975.2 564.4V576.4M977.1 564.6V577.3M978.7 568.6V579M980 570.3V577.1M981.2 566.9V580.9M983 566.4V578.8M984.3 565.3V580.2M986.8 566.2V581.8M993.1 567.6V578.8M994.6 568.3V581.8M998 568V583.1M999.4 567.8V579.3M1002.7 567.2V579.8" stroke="#ff2a2a" stroke-width="0.6"/>
<path d="M79 553.1 81.4 556.4 83 558 84.7 558.9 87.5 557.9 89.3 557.3 91.6 558.1 93.6 558.5 95.9 558.6 97.6 557.2 99.7 558 101.5 558.4 103.4 557.7 105.6 558.5 108.2 557.8 110.4 558.9 113.3 558.3 115 558 117.4 557.6 119 559 121.9 557.4 124.1 558.3 126 557.2 128.6 558.7 130.8 557.3 132.9 557.3 135.8 557.2 137.8 558.7 139.5 557.3 141.1 557.5 143.4 558.8 145.1 557.5 147.8 558 149.8 557.4 151.6 559.1 153.3 557.7 155.9 559 158.8 558.1 161.7 558.4 163.6 558.1 166.2 558.7 167.9 557.6 170.8 557.4 173.6 557.9 175.4 557.7 177.6 559.2 179.4 558.9 181.3 557.6 184 557.9 185.7 558.1 188.5 559 190.8 557.3 193.5 558.5 196.3 559.2 198.3 559 201.1 557.8 203.1 558 205.1 558 206.8 557.7 209.7 558.1 212.1 559.1 214.7 557.8 217.6 558.9 220.6 558.8 223.2 559 225.1 558.6 227.2 559 228.9 558.4 230.9 559 232.9 559 235.7 559.1 237.4 559.2 240 558.7 242.5 557.5 245.3 558.5 247.5 558.1 250.2 559 253 557.8 255 557.9 256.6 558.1 258.2 559 260 557.6 261.6 558.9 263.4 558.3 265.5 559 268.4 558.1 270.9 559.2 273.1 559.2 275.7 558.1 278.5 558.6 280.2 558.6 282.9 558.5 285.1 558.3 288 558.8 289.8 558.2 291.8 559.4 294.4 557.7 297.2 560.1 299.6 573.1 302.2 578 303.8 579 306.6 580.6 308.6 579.4 311.2 580.6 313 580.8 316 579.9 318.1 580.4 321 579.4 322.9 579.7 325.5 579.4 327.9 580 330.4 579.3 333.3 581 335.6 580.6 337.4 580.8 339.7 580.5 342.5 579.7 345.4 579.4 347 580 349.8 580.8 352.7 580 355.6 580.1 357.4 580.3 360.1 579.8 362.5 579.5 364.4 579.8 366.7 579.9 368.3 579 370.3 580.4 372.9 579.5 374.8 596.8 376.6 573.9 379.4 566.4 381.8 559.1 384.4 555.2 387 552.9 389.8 553.4 391.3 553.4 393.5 551.7 395.1 553.1 397.6 551.8 399.8 552.9 402.8 552.3 405.5 552.1 407.3 552 409.4 552.9 411.3 552 413.1 551.9 414.9 552.3 417.2 552.1 419.4 552.6 422.4 552.7 425.3 552.7 427.1 553 428.8 552.1 430.4 553.2 433.4 552.7 435.4 552.7 437.4 553.3 439.5 552.2 442.3 553.1 443.8 553.6 446.4 552.7 448.9 553.8 451 552.8 452.9 553.1 455.4 562.8 458.3 568.9 460.4 572.7 463.1 574.2 465.6 573.7 468.5 574.1 470.6 573.4 472.3 574.8 475 573.1 477 574 479.2 573.8 482 573.8 484.3 574.9 486.8 574.1 488.8 573.9 491.2 574.7 493.1 573.9 495.2 573.9 498.1 574.2 500 573.8 502.7 573.5 505.2 573.2 507 573.3 509.7 573.5 511.6 573.3 513.5 574.7 516.1 575 519 574.3 521.9 573.4 524.7 574.1 526.5 574.8 529.3 574 531 575 533.6 574.5 536.6 573.4 538.1 573.6 539.7 574.7 542.1 573.6 543.9 573.7 546.3 574.7 549.2 574.1 552.2 574.2 554.3 573.9 556.1 575.3 559.1 574.8 560.9 573.8 562.6 574.1 565.2 573.5 567.5 574.8 569.1 574.3 571.8 574.6 573.9 575.2 576.3 574.1 578.4 575.4 581.2 575.3 583.6 596.1 585.3 586.5 587.9 549.5 590.6 543.5 592.8 539.9 595.5 539.2 598 539 600.6 538.3 603.6 539.5 606.5 538.9 608.4 538.4 610.3 539.5 613 539.4 615.8 539.8 618.3 538.5 620.9 538.5 623.3 538.3 626.1 539.1 628 540 629.7 540 632.3 538.5 634.9 539.4 637.8 540.6 639.9 563.9 641.6 567.5 643.2 569.7 644.9 573.8 647.1 576.4 648.9 578 651.4 577.7 653.7 579.1 655.5 579 657.4 578.5 660.3 579.7 663.3 578.8 665.6 579.7 668.3 579 671.1 579 674 579.3 675.7 579.9 677.4 579.8 679 580.5 681.3 580.1 683 579.9 685 579.2 687.8 589.4 690 579.5 692.8 557.4 694.3 550.2 696.5 545.6 699.1 540.9 702 538.6 703.7 539.1 705.4 537.3 707.6 536.9 709.4 537.6 711.6 536.7 713.5 536.3 715.3 535.7 717.7 535 720.4 541.1 722.7 561.3 724.8 565.6 727.7 570.9 730.2 571.8 732.1 571.9 734.8 572.9 737.7 571.2 740.2 572 742.3 571.2 744 571.7 746.3 571.3 748.3 571.8 751 571.8 752.7 572.4 754.8 572.5 757.7 570.8 760.1 572.4 762.2 571.6 764.2 570.5 766 570.6 767.9 571.6 770.2 572.2 772.8 571 775.7 571.5 778 571.9 780.5 570.9 782.9 570.7 785.9 570.5 788.8 570.1 790.3 571.1 792.2 570.9 793.8 571.6 796.3 571.2 799.2 571.8 801.7 571.2 803.2 569.8 805.4 571.6 807.4 570.8 808.9 570.5 811.7 570.7 814.5 569.5 816.3 569.8 819 569.6 821.9 569.9 824.7 570.4 826.7 571.2 828.8 570.7 830.4 570.9 833.4 569.4 836 569.7 837.7 569.8 840.2 571 843.2 571 845.7 588.7 847.4 566.8 849.7 558.7 852.6 555.2 854.3 554.2 856 554.2 858.7 552.2 861 552.8 863.3 552.2 865.6 551.2 867.2 551.9 869.1 552.8 870.9 553.1 872.8 551.9 875 552.8 877 550.6 878.8 566 881.6 573.8 883.9 578.2 886.3 579.4 887.9 579.6 889.9 580 892.3 581.3 894.3 581.9 897.2 581.4 898.9 581.5 900.9 582.6 903.5 581.5 905.2 580.7 906.9 582.2 909.4 580.8 911.8 580.5 914.1 580.9 915.7 581.7 918.3 581.1 920.1 581.4 922.2 616.7 923.9 610.8 925.4 570.8 927.5 541.9 929.1 527.2 932.1 519.6 934 519.1 935.8 517.4 938.3 515.9 940.1 514.1 942.4 515.6 945.3 513.4 947.5 513.8 949.3 513.9 951.6 513.8 953.5 516.8 956.2 537.1 957.9 554.3 959.6 563.5 962.2 568.8 965.1 570 967.7 572.6 969.4 572.4 971 573.2 973.5 572.9 976.1 573.1 978.6 573.1 981.6 573.6 983.1 573 985.7 574.7 988.2 573.4 991 574.7 992.6 574.1 995.2 573.5 996.7 574.3 999.5 575.8 1001.5 575.7" stroke="#ff2020" stroke-width="0.55"/>
<path d="M80 558.3l1.8 0.1M83.9 559.2l1.8 0.7M87.1 555.6l1.8 0M90 556.7l1.8 -0.2M93.1 558.7l1.8 -0.4M95.6 558.1l1.8 0M98.4 559.4l1.8 -0.5M101.5 556.3l1.8 0.4M104.9 560.3l1.8 0M107.4 561.5l1.8 0M110.2 556.4l1.8 -0.2M113.6 560.6l1.8 0M117 555.8l1.8 -0.1M119.8 556.5l1.8 -0.2M123.3 560l1.8 -0.5M125.7 560.4l1.8 0.2M129.1 559.2l1.8 0.3M131.6 554.6l1.8 -0.2M133.7 561.8l1.8 0M137 561.9l1.8 0.5M139.5 556.8l1.8 -0.6M143.1 560l1.8 0M145.8 556.3l1.8 0M149.3 561.3l1.8 0.6M153 557.7l1.8 -0.1M155.6 562l1.8 -0.5M157.9 556.4l1.8 0.7M161.6 556.8l1.8 0.6M165.4 557.6l1.8 -0.5M169 557.2l1.8 -0.6M172.8 557.7l1.8 -0.2M176 556.3l1.8 -0.8M178.7 557.3l1.8 -0.8M181.5 560.3l1.8 -0.3M184.8 559.2l1.8 -0.5M186.9 559.6l1.8 0.2M189.5 555.9l1.8 0.6M193.3 556.1l1.8 0.1M196.4 556.8l1.8 -0.7M199.1 559.4l1.8 0.2M202.1 555.3l1.8 -0.5M204.7 557.6l1.8 -0.2M208.5 555.2l1.8 0.8M211 561.2l1.8 -0.4M214.2 557.3l1.8 -0.7M217.8 560.8l1.8 -0.4M221.3 558.2l1.8 0.8M223.5 557.4l1.8 -0.4M226.7 560.6l1.8 0.5M229.8 557.4l1.8 0.5M232 556.4l1.8 0.4M234.9 562.3l1.8 -0.7M237.8 556.1l1.8 -0.8M240 555.1l1.8 -0.2M242.9 558.4l1.8 -0.3M246.3 558.5l1.8 0.8M248.6 558.5l1.8 0M251.3 561.3l1.8 -0.5M255.1 557.3l1.8 -0.3M258.3 558.9l1.8 -0.3M260.5 562.1l1.8 -0.2M262.7 559.7l1.8 0.1M265.4 557.1l1.8 0.6M268.1 557.8l1.8 0.7M270.8 557.7l1.8 -0.5M274.1 559.8l1.8 -0.1M276.9 556.3l1.8 0.5M279.8 561.1l1.8 -0.2M283.3 554.7l1.8 -0.4M287.2 559.9l1.8 0.3M290.2 558.3l1.8 -0.5M292.6 559.7l1.8 0.3M295.1 559.7l1.8 -0.6M298.3 564.8l1.8 0M300.9 576.3l1.8 -0.6M303.9 579.9l1.8 -0.6M306.5 581.4l1.8 0.1M309.8 582.2l1.8 0.1M312.2 579.5l1.8 0.5M315.3 582l1.8 -0.2M318.2 583.8l1.8 0.5M321.5 576.9l1.8 0.2M323.6 583.5l1.8 0.8M327.1 578.1l1.8 0.6M329.4 582.6l1.8 0M331.4 583.1l1.8 -0.1M335.1 581.5l1.8 0.1M338.8 577.6l1.8 0.6M341.5 576.2l1.8 -0.3M343.6 576.6l1.8 0.2M345.9 577.3l1.8 -0.3M348.4 583.4l1.8 0.6M352.2 583.9l1.8 -0.1M355.8 578.2l1.8 0.7M359.4 581.9l1.8 -0.4M361.6 583.4l1.8 0.1M364.8 582.9l1.8 -0.6M368.2 579.7l1.8 0.5M371.1 577.6l1.8 0.7M373.7 582l1.8 0.5M376.2 577.6l1.8 -0.2M378.6 567.6l1.8 0.7M381.4 560.3l1.8 0M383.4 558.2l1.8 0.4M387.2 552.2l1.8 -0.5M389.9 554.4l1.8 0.3M392.7 552.7l1.8 -0.6M396.5 552.3l1.8 0M400.1 550.2l1.8 0.4M402.8 555.1l1.8 -0.6M405.3 553.7l1.8 0M408.1 553.3l1.8 -0.5M411 548.7l1.8 0.5M413.5 555.3l1.8 0.1M416.7 553.7l1.8 -0.6M420.2 551.1l1.8 0.6M423.8 554.2l1.8 0.5M426.7 554.2l1.8 0.7M429.1 549.6l1.8 -0.1M432.1 550l1.8 -0.4M435.8 552l1.8 -0.6M438.2 553.5l1.8 -0.5M441.1 553.2l1.8 -0.1M444.1 555.6l1.8 -0.8M448 550.6l1.8 -0.7M451.5 553.5l1.8 0.1M454 558.1l1.8 -0.3M457.4 565.6l1.8 0.1M460.7 571.3l1.8 0M462.8 575l1.8 0.3M465.1 574.4l1.8 0.4M467.3 576.7l1.8 0.6M469.4 572l1.8 -0.7M472 570.7l1.8 0M474.5 572.4l1.8 -0.1M477.2 576.4l1.8 0.4M479.4 571.9l1.8 -0.8M482.1 570.9l1.8 0.3M485.6 578.1l1.8 -0.5M487.7 576.2l1.8 -0.1M491.6 573.3l1.8 -0.3M493.7 577.7l1.8 0M496.6 573.6l1.8 0.4M500.3 574l1.8 -0.5M503.1 577.3l1.8 -0.1M506.4 574.7l1.8 -0.1M509.6 572.2l1.8 0.1M513.3 570.8l1.8 -0.2M517 578.1l1.8 -0.8M520.3 575.3l1.8 0.5M523.2 571.3l1.8 -0.3M526.7 576.1l1.8 -0.5M529.9 575.5l1.8 0.3M532 573.8l1.8 -0.3M535.2 573l1.8 -0.6M538.5 572.6l1.8 0.5M541.1 574.7l1.8 0.5M543.4 576.2l1.8 -0.7M547.2 570.6l1.8 0.4M550 571.8l1.8 -0.2M553 573.7l1.8 -0.6M556 572.8l1.8 0.7M558.8 573.9l1.8 -0.4M562.7 573l1.8 0.2M566.4 573.6l1.8 0.4M569 571.3l1.8 -0.7M571.9 577.4l1.8 -0.5M574.7 576.6l1.8 -0.4M577 574.6l1.8 -0.1M580.9 577.7l1.8 -0.4M584 593.4l1.8 -0.7M586.9 558.8l1.8 -0.3M590.1 545.5l1.8 -0.7M593.9 537l1.8 -0.3M597.4 535.2l1.8 -0.2M599.6 538.4l1.8 -0.8M601.9 536.3l1.8 -0.7M604.1 536.1l1.8 0M606.4 541.2l1.8 -0.1M608.9 536.6l1.8 0.5M611 540.7l1.8 -0.6M614.9 538.1l1.8 0.2M618.6 535.7l1.8 -0.7M622 539.7l1.8 0.4M624.5 539l1.8 -0.5M627.4 537.4l1.8 0.1M630 537.4l1.8 0.2M632.2 541.6l1.8 0M634.6 536.2l1.8 0M637.7 542.1l1.8 -0.2M640.5 567.5l1.8 -0.4M644.4 575.4l1.8 0.8M648.3 575.1l1.8 0.5M651.5 576.2l1.8 0.8M654.8 581.1l1.8 0.1M657 581.6l1.8 -0.5M659.5 579.8l1.8 -0.5M662.4 580.6l1.8 -0.6M665.8 575.9l1.8 0M669.1 580.7l1.8 -0.7M671.5 582.9l1.8 -0.2M674.3 578.3l1.8 0.3M677.8 580.7l1.8 -0.2M680.9 579.7l1.8 -0.5M684.8 583.4l1.8 0.4M688.8 596.5l1.8 0.5M691.3 566.6l1.8 0.3M695.2 551l1.8 0.6M697.7 545.4l1.8 0M700.3 538.8l1.8 0.5M704 541.2l1.8 0.3M706.3 534.9l1.8 0.1M708.8 535.6l1.8 -0.6M711.1 538l1.8 -0.4M714.8 533.7l1.8 0.6M717.4 532.3l1.8 -0.2M719.4 534.4l1.8 -0.2M721.4 552.2l1.8 -0.2M723.4 566.8l1.8 -0.4M725.9 564.4l1.8 -0.6M729.4 571.6l1.8 0M731.9 570.2l1.8 0.8M734.6 575.9l1.8 0.6M736.8 574.7l1.8 -0.8M740.3 574.3l1.8 0.3M743.4 574.3l1.8 -0.6M746.4 569.9l1.8 -0.2M748.8 573.4l1.8 0.1M752.4 572.7l1.8 0.2M756.2 574.1l1.8 0.1M758.9 574.9l1.8 -0.2M761.1 570.1l1.8 0.3M765 572.6l1.8 0.3M768.8 573.6l1.8 -0.1M771.7 573.4l1.8 -0.3M774 572.2l1.8 0.5M776.5 572.7l1.8 0.6M778.7 568.2l1.8 0M781.4 574.7l1.8 0.8M784.3 573.4l1.8 0.2M786.6 574.8l1.8 -0.5M788.8 570.6l1.8 -0.8M791.7 570.2l1.8 0.7M794.6 573.7l1.8 0.4M797.7 568.7l1.8 -0.3M800.7 569.9l1.8 0.2M803.7 569.3l1.8 0.2M807.7 568.3l1.8 -0.3M809.8 567.4l1.8 -0.7M812.6 573.2l1.8 0.3M816.5 573.2l1.8 0.1M819.7 566.5l1.8 -0.2M822.2 571.3l1.8 -0.7M825.3 569.3l1.8 0M828.1 567.1l1.8 0.4M831.7 571l1.8 -0.6M834.9 573.1l1.8 0.8M838.4 566.5l1.8 0.6M841.8 568.2l1.8 0.7M845.4 599.5l1.8 -0.4M848.6 560.8l1.8 -0.3M852.1 556.9l1.8 -0.3M855.2 557.8l1.8 0.1M859 553.4l1.8 0.8M861.1 552.3l1.8 0.1M864.5 556l1.8 0.2M867.5 553.1l1.8 0.1M870.9 556.1l1.8 -0.8M873.5 555.8l1.8 -0.7M877.1 547l1.8 0.2M880.7 569.4l1.8 -0.2M883.1 578.1l1.8 0M886.4 578.7l1.8 0.1M890.3 583.2l1.8 0.7M892.8 581.6l1.8 -0.2M895.5 584.4l1.8 -0.5M898.6 584.1l1.8 0.7M900.6 579.9l1.8 0M904.5 578.9l1.8 0.5M907.3 581.9l1.8 0.7M909.4 580.1l1.8 -0.6M911.7 579.8l1.8 0.3M914.8 578.2l1.8 0.5M917.8 578.3l1.8 0.5M921.5 617l1.8 0.7M925.1 580.9l1.8 -0.8M928.8 531.2l1.8 -0.6M932.4 522l1.8 0.2M936 521.4l1.8 -0.3M939.7 518.5l1.8 -0.3M943.1 516l1.8 0.6M946.2 512.2l1.8 -0.4M949.3 510.7l1.8 0.6M953.1 511.4l1.8 0.3M956.4 536.2l1.8 0.4M960 563.2l1.8 -0.6M962.5 571.4l1.8 -0.1M966.1 568.6l1.8 -0.6M968.8 575.5l1.8 -0.5M971 575.1l1.8 -0.7M974.3 569.9l1.8 -0.4M977.7 576.5l1.8 -0.1M980.6 569.9l1.8 -0.3M983 576.1l1.8 0.3M986.6 574.3l1.8 0.3M988.9 573.2l1.8 -0.3M991.4 576.2l1.8 -0.5M994.1 572.7l1.8 0.6M997.4 574.5l1.8 -0.2M1001.2 578.4l1.8 -0.1" stroke="#e00000" stroke-width="1"/>
<path d="M297 558.5V541M374.5 580V613.9M453.2 553V536.2M582.9 574.5V660.8M584.5 597.1V606M636.3 539.3V505.3M687.9 579.8V636.7M689 600V594.5M718.7 534.1V508.8M719.5 534.3V527.5M844.1 570V606.9M876.5 552.2V514M875 552.9V532M954.2 514.2V470.8" stroke="#ff2020" stroke-width="0.9"/>
<path d="M921.4 600 V709 M922.8 600 V709" stroke="#ff2020" stroke-width="0.9"/>
</svg>
<text x="55" y="443.4" font-size="29" text-anchor="end">7.3</text>
<text x="55" y="511.8" font-size="29" text-anchor="end">7.25</text>
<text x="55" y="581" font-size="29" text-anchor="end">7.2</text>
<text x="55" y="649.1" font-size="29" text-anchor="end">7.15</text>
<text x="55" y="716.3" font-size="29" text-anchor="end">7.1</text>
<text x="62.5" y="739.7" font-size="29" text-anchor="middle">0</text>
<text x="218.5" y="739.7" font-size="29" text-anchor="middle">1</text>
<text x="374.5" y="739.7" font-size="29" text-anchor="middle">2</text>
<text x="532.3" y="739.7" font-size="29" text-anchor="middle">3</text>
<text x="688" y="739.7" font-size="29" text-anchor="middle">4</text>
<text x="843.9" y="739.7" font-size="29" text-anchor="middle">5</text>
<text x="1001.6" y="739.7" font-size="29" text-anchor="middle">6</text>
<text x="396" y="415.8" font-size="31" textLength="267" lengthAdjust="spacing">(b) Tip speed ratio λ</text>
<path d="M221.8 1069.7 V797" stroke="#999" stroke-dasharray="10.3 9.43"/>
<path d="M377.2 1069.7 V797" stroke="#444" stroke-dasharray="10.3 9.43"/>
<path d="M535.3 1069.7 V797" stroke="#444" stroke-dasharray="10.3 9.43"/>
<path d="M690.8 1069.7 V797" stroke="#999" stroke-dasharray="10.3 9.43"/>
<path d="M847.4 1069.7 V797" stroke="#999" stroke-dasharray="10.3 9.43"/>
<path d="M65.3 863.5 H1005" stroke="#444" stroke-dasharray="10.3 9.43"/>
<path d="M65.3 931.8 H1005" stroke="#444" stroke-dasharray="10.3 9.43"/>
<path d="M65.3 1000.9 H1005" stroke="#444" stroke-dasharray="10.3 9.43"/>
<path d="M64.8 797 H1005.5" stroke="#aaa"/>
<path d="M64.8 1069.7 H1005.5" stroke="#555"/>
<path d="M65.3 797 V1069.7" stroke="#555"/>
<path d="M1005 797 V1069.7" stroke="#aaa"/>
<path d="M221.8 1069.7v-9.5M221.8 797v9.5" stroke="#999"/>
<path d="M377.2 1069.7v-9.5M377.2 797v9.5" stroke="#444"/>
<path d="M535.3 1069.7v-9.5M535.3 797v9.5" stroke="#444"/>
<path d="M690.8 1069.7v-9.5M690.8 797v9.5" stroke="#999"/>
<path d="M847.4 1069.7v-9.5M847.4 797v9.5" stroke="#999"/>
<path d="M65.3 863.5h9.5M1005 863.5h-9.5" stroke="#444"/>
<path d="M65.3 931.8h9.5M1005 931.8h-9.5" stroke="#444"/>
<path d="M65.3 1000.9h9.5M1005 1000.9h-9.5" stroke="#444"/>
<svg x="64.3" y="796" width="941.7" height="274.7" viewBox="64.3 796 941.7 274.7" overflow="hidden">
<path d="M66.3 1070.7 66.3 1031 67 1031.3 68.5 1030.7 70 1030.2 71.5 1029.6 73 1029.1 74.5 1028.5 76 1027.9 77.5 1027.4 79 1026.8 80.5 1026.2 82 1025.6 83.5 1025 85 1024.4 86.5 1023.8 88 1023.2 89.5 1022.6 91 1022 92.5 1021.4 94 1020.7 95.5 1020.1 97 1019.5 98.5 1018.8 100 1018.2 101.5 1017.5 103 1016.8 104.5 1016.2 106 1015.5 107.5 1014.8 109 1014.1 110.5 1013.5 112 1012.8 113.5 1012.1 115 1011.3 116.5 1010.6 118 1009.9 119.5 1009.2 121 1008.5 122.5 1007.7 124 1007 125.5 1006.2 127 1005.5 128.5 1004.7 130 1004 131.5 1003.2 133 1002.4 134.5 1001.6 136 1000.8 137.5 1000 139 999.2 140.5 998.4 142 997.6 143.5 996.8 145 995.9 146.5 995.1 148 994.3 149.5 993.4 151 992.6 152.5 991.7 154 990.8 155.5 989.9 157 989.1 158.5 988.2 160 987.3 161.5 986.4 163 985.5 164.5 984.6 166 983.6 167.5 982.7 169 981.8 170.5 980.8 172 979.8 173.5 978.9 175 977.9 176.5 976.9 178 975.9 179.5 974.9 181 973.9 182.5 972.9 184 971.9 185.5 970.9 187 969.8 188.5 968.8 190 967.7 191.5 966.7 193 965.6 194.5 964.5 196 963.5 197.5 962.4 199 961.3 200.5 960.2 202 959.1 203.5 958 205 956.8 206.5 955.7 208 954.6 209.5 953.4 211 952.3 212.5 951.1 214 949.9 215.5 948.8 217 947.6 218.5 946.4 220 945.2 221.5 944 223 942.8 224.5 941.3 226 939.9 227.5 938.5 229 937 230.5 935.5 232 934.1 233.5 932.6 235 931.1 236.5 929.6 238 928.1 239.5 926.6 241 925 242.5 923.5 244 922 245.5 920.4 247 918.8 248.5 917.3 250 915.7 251.5 914.1 253 912.5 254.5 910.8 256 909.2 257.5 907.6 259 905.9 260.5 904.2 262 902.5 263.5 900.9 265 899.1 266.5 897.3 268 895.5 269.5 893.7 271 891.9 272.5 890.1 274 888.2 275.5 886.4 277 884.5 278.5 882.6 280 880.7 281.5 878.8 283 876.9 284.5 874.9 286 873 287.5 871 289 869 290.5 867 292 865 293.5 863 295 861 296.5 859 298 857 299.5 856.6 301 861.9 302.5 867.2 304 872.5 305.5 877.7 307 882.8 308.5 887.8 310 892.7 311.5 897.6 313 902.3 314.5 907 316 911.5 317.5 916 319 920.4 320.5 924.7 322 928.9 323.5 933.1 325 937.2 326.5 941.2 328 945.1 329.5 949 331 952.8 332.5 956.5 334 960.1 335.5 963.6 337 967.1 338.5 970.5 340 973.8 341.5 977 343 980.2 344.5 983.3 346 986.3 347.5 989.3 349 992.1 350.5 994.9 352 997.7 353.5 1000.4 355 1003 356.5 1005.5 358 1008 359.5 1010.4 361 1012.7 362.5 1015 364 1017.2 365.5 1019.3 367 1021.4 368.5 1023.5 370 1025.4 371.5 1027.4 373 1029.2 374.5 1031 376 1032.6 377.5 1031.5 379 1030.5 380.5 1029.4 382 1028.3 383.5 1027.1 385 1026 386.5 1024.8 388 1023.6 389.5 1022.4 391 1021.2 392.5 1019.9 394 1018.7 395.5 1017.4 397 1016.1 398.5 1014.7 400 1013.4 401.5 1012 403 1010.6 404.5 1009.1 406 1007.7 407.5 1006.2 409 1004.7 410.5 1003.2 412 1001.7 413.5 1000.1 415 998.5 416.5 996.9 418 995.2 419.5 993.5 421 991.8 422.5 990.1 424 988.4 425.5 986.6 427 984.8 428.5 983 430 981.1 431.5 979.3 433 977.4 434.5 975.4 436 973.5 437.5 971.5 439 969.5 440.5 967.5 442 965.4 443.5 963.3 445 961.2 446.5 959 448 956.9 449.5 954.7 451 952.4 452.5 950.2 454 947.9 455.5 945.6 457 946.2 458.5 948.8 460 951.3 461.5 953.8 463 956.2 464.5 958.6 466 961 467.5 963.3 469 965.6 470.5 967.9 472 970.2 473.5 972.4 475 974.5 476.5 976.7 478 978.8 479.5 980.9 481 982.9 482.5 984.9 484 986.9 485.5 988.9 487 990.8 488.5 992.7 490 994.5 491.5 996.4 493 998.2 494.5 999.9 496 1001.7 497.5 1003.4 499 1005.1 500.5 1006.7 502 1008.3 503.5 1009.9 505 1011.5 506.5 1013 508 1014.5 509.5 1016 511 1017.5 512.5 1018.9 514 1020.3 515.5 1021.7 517 1023 518.5 1024.4 520 1025.7 521.5 1026.9 523 1028.2 524.5 1029.4 526 1030.6 527.5 1031.8 529 1032.9 530.5 1034.1 532 1035.2 533.5 1036.3 535 1037.3 536.5 1038.4 538 1039.4 539.5 1040.4 541 1041.4 542.5 1042.4 544 1043.3 545.5 1044.2 547 1045.1 548.5 1046 550 1046.8 551.5 1047.7 553 1048.5 554.5 1049.3 556 1050.1 557.5 1050.8 559 1051.6 560.5 1052.3 562 1053 563.5 1053.6 565 1054.3 566.5 1054.9 568 1055.6 569.5 1056.2 571 1056.8 572.5 1057.3 574 1057.9 575.5 1058.4 577 1058.9 578.5 1059.4 580 1059.9 581.5 1060.4 583 1060.9 584.5 1061.3 586 1061.3 587.5 1060.2 589 1059.1 590.5 1057.8 592 1056.4 593.5 1055 595 1053.4 596.5 1051.7 598 1049.9 599.5 1048 601 1045.9 602.5 1043.8 604 1041.5 605.5 1039.1 607 1036.5 608.5 1033.8 610 1031 611.5 1028 613 1024.9 614.5 1021.6 616 1018.2 617.5 1014.6 619 1010.9 620.5 1007 622 1002.9 623.5 998.6 625 994.1 626.5 989.5 628 984.7 629.5 979.6 631 974.4 632.5 969 634 963.4 635.5 957.6 637 951.6 638.5 945.4 640 948.2 641.5 951.8 643 955.3 644.5 958.8 646 962.2 647.5 965.5 649 968.7 650.5 971.9 652 975 653.5 978.1 655 981.1 656.5 984 658 986.8 659.5 989.6 661 992.3 662.5 995 664 997.6 665.5 1000.1 667 1002.6 668.5 1005 670 1007.4 671.5 1009.7 673 1011.9 674.5 1014.1 676 1016.2 677.5 1018.3 679 1020.3 680.5 1022.3 682 1024.2 683.5 1026 685 1027.9 686.5 1029.6 688 1031.3 689.5 1031.8 691 1029.2 692.5 1026.5 694 1023.6 695.5 1020.7 697 1017.6 698.5 1014.4 700 1011 701.5 1007.5 703 1003.9 704.5 1000.2 706 996.3 707.5 992.2 709 988 710.5 983.7 712 979.2 713.5 974.5 715 969.7 716.5 964.8 718 959.6 719.5 954.3 721 948.9 722.5 945.4 724 947.5 725.5 949.5 727 951.5 728.5 953.5 730 955.5 731.5 957.4 733 959.4 734.5 961.3 736 963.2 737.5 965 739 966.9 740.5 968.7 742 970.5 743.5 972.3 745 974 746.5 975.8 748 977.5 749.5 979.2 751 980.8 752.5 982.5 754 984.1 755.5 985.7 757 987.3 758.5 988.9 760 990.5 761.5 992 763 993.5 764.5 995 766 996.5 767.5 997.9 769 999.3 770.5 1000.8 772 1002.1 773.5 1003.5 775 1004.9 776.5 1006.2 778 1007.5 779.5 1008.8 781 1010.1 782.5 1011.4 784 1012.6 785.5 1013.8 787 1015 788.5 1016.2 790 1017.4 791.5 1018.5 793 1019.7 794.5 1020.8 796 1021.9 797.5 1023 799 1024.1 800.5 1025.1 802 1026.2 803.5 1027.2 805 1028.2 806.5 1029.2 808 1030.1 809.5 1031.1 811 1032 812.5 1033 814 1033.9 815.5 1034.8 817 1035.7 818.5 1036.5 820 1037.4 821.5 1038.2 823 1039 824.5 1039.8 826 1040.6 827.5 1041.4 829 1042.2 830.5 1042.9 832 1043.7 833.5 1044.4 835 1045.1 836.5 1045.8 838 1046.5 839.5 1047.2 841 1047.8 842.5 1048.5 844 1049.1 845.5 1049.7 847 1050.2 848.5 1049.6 850 1048.9 851.5 1048.2 853 1047.5 854.5 1046.8 856 1046 857.5 1045.3 859 1044.5 860.5 1043.7 862 1042.9 863.5 1042.1 865 1041.2 866.5 1040.4 868 1039.5 869.5 1038.6 871 1037.7 872.5 1036.8 874 1035.8 875.5 1034.9 877 1033.9 878.5 1032.9 880 1032.6 881.5 1034.4 883 1036 884.5 1037.6 886 1039.2 887.5 1040.7 889 1042.2 890.5 1043.6 892 1044.9 893.5 1046.3 895 1047.5 896.5 1048.7 898 1049.9 899.5 1051 901 1052.1 902.5 1053.2 904 1054.2 905.5 1055.1 907 1056.1 908.5 1056.9 910 1057.8 911.5 1058.6 913 1059.3 914.5 1060.1 916 1060.8 917.5 1061.4 919 1062.1 920.5 1062.7 922 1063.2 923.5 1063.7 925 1064.2 926.5 1064.7 928 1063.9 929.5 1062.1 931 1060 932.5 1057.6 934 1054.7 935.5 1051.5 937 1047.9 938.5 1043.7 940 1039.1 941.5 1034 943 1028.3 944.5 1022.1 946 1015.2 947.5 1007.8 949 999.6 950.5 990.8 952 981.2 953.5 970.9 955 959.9 956.5 948 958 947.7 959.5 950 961 952.2 962.5 954.4 964 956.6 965.5 958.8 967 960.9 968.5 963.1 970 965.1 971.5 967.2 973 969.2 974.5 971.2 976 973.2 977.5 975.2 979 977.1 980.5 979 982 980.9 983.5 982.7 985 984.5 986.5 986.3 988 988.1 989.5 989.9 991 991.6 992.5 993.3 994 994.9 995.5 996.6 997 998.2 998.5 999.8 1000 1001.4 1001.5 1002.9 1003 1004.4 1004.5 1005.9 1006 1006.4" stroke="#ee0000" stroke-width="3.7" stroke-linejoin="round"/>
<path d="M65.5 1070.7 V796 M68.7 1069 V947" stroke="#2020ff" stroke-width="0.9"/>
<path d="M73.9 1024.2V1035.1M76 1022.6V1034.3M77.1 1022V1030.8M78.2 1022V1031.5M81.4 1024.1V1031.8M83.3 1021.5V1031.4M85.6 1020.5V1028.8M91.2 1019.5V1027.8M93.3 1020.1V1024.1M94.5 1017.9V1027M95.5 1019.1V1025.1M98.6 1017.2V1022.3M99.7 1014.1V1022.5M100.8 1013.9V1022.2M104.2 1015.6V1020.9M108 1011.1V1020.7M109 1008.6V1017M109.8 1010.4V1018.2M110.8 1011.6V1019.3M112.1 1009.6V1015.7M117.6 1009V1014.4M121.1 1006.5V1014.8M122.1 1003.6V1013.6M131.5 1002V1009.7M133.6 1000.4V1007.2M137.9 996.7V1003.5M139.6 994.5V1003.7M143.4 995.7V1003.2M144.6 992.6V999.5M150.5 992V999.3M151.5 986.9V999.1M152.4 987.8V997.7M153.2 986.2V996.1M154.5 988.7V993.7M155.4 989.3V993.6M156.7 987.8V992.9M160.6 985.9V993.8M163 984.3V990.6M164.8 981.7V990.1M166.1 980.6V988.7M167.9 980V985.7M169 977V987.7M172.4 975.1V985.9M173.3 977.6V982.6M175.7 972.5V983.2M176.8 973.9V982.9M181.1 971.5V978.8M182.1 971.6V976.4M186.3 968.8V976.7M187.6 968.5V975M190.1 967V974.1M191.2 962.2V973.8M197 957.7V967.2M197.9 959.8V967.8M198.9 960.9V965.1M199.8 958.9V966.4M204.5 955.3V962.1M205.5 953.8V961.3M213.1 949.4V957.2M215.1 944.9V955.5M217.3 945.9V952.8M218.5 944.1V950.7M219.7 943.5V948.9M220.7 940.2V948.4M222.6 938.9V950.3M228.9 934.7V942.7M233.9 928.9V936.3M235.1 929.1V935.2M237 927.3V934.9M239.4 922.5V934M242.5 921V927.6M248.2 913.3V922.7M249.3 912.3V923.2M250.3 914.2V922.6M251.3 914.1V918.8M252.1 909.6V919.3M254.6 910.5V915M255.8 905.7V916M256.6 908.7V913.3M259.7 904V912.7M262.2 900.8V909.7M264.6 899.9V907.1M267 893.1V902.2M270.1 888.9V900.3M272.6 885.6V896.8M274.5 883.2V894.9M276.2 883.3V890.6M277.4 881.5V889.2M279.6 881.5V887.1M280.5 876.3V887.6M286.3 872.2V880.4M287.6 871.1V877.1M291.2 861.9V871.2M292.2 862.4V872.5M295.8 859.4V866.9M296.6 854.8V863.2M297.6 857.3V861.9M298.9 854.1V863M301.6 851.9V861.7M304 863.7V869.5M309.7 881.1V887.7M311.1 886.7V891.6M311.9 889.5V895.8M314 893.5V901.8M316.2 903.5V910.5M317.3 906.5V913.1M318.4 908V916.6M322.9 918.4V928.5M326 928.3V938.1M328.3 938V943.7M329.2 936.2V945.7M334 948.5V956.4M336.4 953.7V965.5M337.7 960.4V964.8M341.2 968.8V976.5M343.7 970.5V981.2M344.6 976.3V980.2M345.9 976.4V983.5M346.8 979.2V984.3M347.8 979V989.6M349.2 981.7V992.8M352 985.8V996.2M357.6 1000.5V1007.1M358.8 1001.7V1009.1M360.9 1005.4V1013.1M364.5 1008.7V1017.6M365.8 1011.6V1016.9M375.6 1025.8V1031.2M377.6 1031.8V1038.7M379.9 1029.2V1037.2M392.6 1016.3V1027.9M393.7 1015.9V1025.6M395.1 1014.6V1022.7M397.4 1013.9V1021.6M398.7 1010.3V1022.8M399.6 1011.1V1019.9M407.9 1004.7V1011.7M408.9 1002.8V1013M414.1 998.6V1005M415 998.1V1004.9M416.9 993.5V1003.8M417.8 992V1001.4M423.5 986.4V995.6M429.4 978.3V990.2M435 971.2V979.6M435.8 971.2V980.2M437.6 972.3V977.7M441.6 967V971.9M444.3 959.8V969M448.7 956.7V964M449.8 952.6V959.2M454.3 946.1V953.5M455.6 945.2V952.2M457 937.1V944.5M459.1 942.3V949.7M461.3 944.8V951.9M462.4 947.6V953.8M464.9 953.3V960.4M466.9 952.7V962.9M468.9 957V967M474.3 964.4V973.8M475.4 969.3V974.8M476.6 971V975.2M477.7 972V979.1M482.5 974.7V985.5M484.3 979.5V985.5M487.6 982.7V990.4M494.3 992.1V1001.5M496.4 994.3V1001.1M497.2 996.4V1004.8M502.2 1002V1010.2M503.4 1001V1009.3M505.5 1005.2V1010.8M506.7 1005.8V1013.9M508.7 1008.9V1014.6M509.7 1006.5V1018.3M511.5 1010.5V1020.3M513.8 1011V1019M515 1014.4V1021.6M516.9 1014.2V1024.2M518.9 1015V1024.2M521 1016.9V1028.5M522.3 1019.3V1028.6M524.6 1023.2V1031.7M527.6 1023V1032.9M536.7 1031.3V1038.9M537.5 1031.2V1039.6M539.5 1032.6V1041.1M540.4 1034.3V1042.3M542.5 1037.1V1042.2M544.4 1038.5V1045.5M547.6 1036.4V1046.2M550.3 1039.4V1048.3M551.7 1039.2V1050.9M552.5 1043.4V1051.5M561.4 1048.5V1052.5M562.5 1048.6V1054.6M565.3 1049.6V1057.7M567.2 1047.6V1055.5M568 1051.6V1055.8M570 1047.7V1057.9M573.1 1052.9V1060M574.3 1049.4V1058.9M575.3 1050.1V1061.4M576.5 1053.7V1062.1M577.9 1053.8V1062.3M580.4 1053.1V1062M585.7 1061V1068.5M586.6 1059.4V1070.1M590.1 1056.4V1065.9M591 1058.1V1065.3M593.1 1056.8V1063.4M595.5 1054.2V1061.4M598.9 1051.2V1056.8M602 1044.3V1054M603.2 1045.5V1050.7M605.6 1038.6V1048.7M609.2 1036.1V1041.6M612 1030.7V1035.4M615.1 1022.8V1032.6M616 1018.6V1030.3M618.1 1015.5V1023.3M619.2 1011.6V1019.6M620.3 1009.8V1017.5M622.3 1003.9V1011.3M626.4 991.4V1000.9M630.1 980.7V988.7M631.3 979.7V986.9M632.3 973.1V983.6M633.1 969.4V978.1M634.3 966.8V976.3M635.7 959.1V969.7M637.9 954.1V962.3M639.1 935V944M640.3 941.3V946.7M642.5 946.6V953.4M644.9 947.6V958M647.1 956V964.6M648.8 957V967.8M653.2 966.1V974.6M654.5 971.6V978.8M659.7 979.5V988.6M660.5 981.7V991.4M664.9 992.1V999.5M665.8 992.3V1001.2M671.5 999V1007M672.8 1002.1V1010.1M676.2 1009.6V1016.5M677.2 1009.3V1016M679.7 1011.3V1020.7M685.6 1018.3V1028.2M687.8 1022.9V1030M689 1024.9V1033M693.8 1023.7V1035.4M696.9 1020.2V1026.7M697.9 1020.1V1027.1M699.2 1015.9V1022M700.9 1012.2V1018.8M701.8 1008.7V1015.4M704.9 1003.3V1011.4M706.9 995.1V1003M708.9 990.2V999.3M709.8 989.8V995.6M712.1 983.3V991.1M713.3 979.9V984.6M714.5 977.1V984M715.5 971.3V980M718.6 962.7V968.6M721.9 947.1V957.9M724.3 939.4V949.2M725.5 943.8V951.9M726.7 945.1V949.9M731.3 950V958.3M734.4 955V961.3M742 962.8V972.9M742.9 963.9V971.5M749.6 973.6V979.4M750.5 971V979.3M751.8 973.9V983.8M752.9 973.9V981.8M756.3 977V986.4M759.7 980.9V990.4M760.8 982.1V993.7M764.3 987.4V997.5M767.7 988.8V999.4M775.1 998.8V1007.3M776.4 999.2V1007.1M784.8 1004.5V1016.3M787.6 1010.8V1018.3M789.6 1011.8V1018.8M792.8 1011.5V1020.5M794 1011.4V1022M796.8 1017.9V1025.4M798 1014.3V1025M799.1 1018.8V1023.7M801.1 1017V1027.3M804.7 1022.7V1027.3M805.9 1023V1032.1M813.8 1029.5V1037.1M816 1027.8V1038.3M818.7 1028.7V1040M822 1030.8V1039.5M828.2 1037.4V1045.3M831.6 1036.2V1045.2M834.1 1036.1V1045.7M835 1038V1044.8M839.1 1041.3V1050.5M842.8 1043V1051.3M846.3 1041.8V1052.6M847.1 1046.9V1053.6M848.4 1047.9V1053M853.7 1042.2V1052.5M854.8 1044.5V1053.3M856 1042.5V1052.8M858.5 1043V1048.3M868.6 1034.7V1043.1M869.7 1033.7V1045M871 1035.8V1041.9M874.8 1032.4V1043M875.7 1031.1V1040M876.8 1030.6V1039M877.9 1029.7V1039.1M879.3 1031.3V1036.2M880.4 1023.9V1033.9M881.4 1023.4V1033.4M885.1 1028.5V1038.2M887.2 1033.6V1039.2M890.3 1036.2V1042.4M892.1 1035.4V1045.3M894.7 1038.8V1047.1M896.1 1040.1V1046.6M899.3 1044.4V1051.3M900.2 1045V1051.4M903.5 1048.5V1056.1M905.5 1045.8V1057.3M906.6 1048V1056.5M914.1 1053.8V1060.1M920.7 1055.5V1062.1M926.8 1058.5V1067.6M930.2 1062.6V1072.6M938.9 1051.5V1058M940 1044.5V1053M943.3 1037.4V1042.5M944.3 1032.9V1042.1M947.5 1016.1V1024.4M950.1 1004.7V1014.8M951.1 998.2V1008M954.1 980.5V990.1M955.1 974.2V980.3M957.6 938.2V947.7M963.9 947.5V956.8M966.2 951.1V958.3M967.2 953.9V962.6M968.4 955.4V963.2M969.8 956.5V963.3M971.9 959V966.5M973.3 961V971.7M974.3 961.6V973M977 965.6V973.6M984.3 978.2V985.4M986.4 977.3V986.6M989.8 980.2V990.3M994.4 985.5V994M996.7 991.3V999.4M997.7 993.3V1000.6M1000.1 992.5V1001.1M1001.1 992.8V1003.4M1003.5 996.1V1005.3M1005.5 1001.4V1007.4" stroke="#7070ff" stroke-width="0.7"/>
<path d="M69.5 1025.2V1034.1M70.4 1026.7V1035.8M71.4 1023.9V1034.3M72.7 1023.9V1033.4M74.9 1025V1032.2M79.1 1021.8V1032.8M80.4 1024.4V1032M82.3 1019.9V1029.2M84.5 1022.1V1027.8M86.6 1021.3V1028.2M88 1019.5V1028.2M89 1020.5V1027.6M90.3 1018.7V1025.9M92.2 1016.9V1026.1M96.4 1018.8V1024.5M97.7 1015.4V1023.1M101.8 1011.9V1022.9M102.9 1015.7V1021M105.5 1011.5V1019.8M106.7 1013V1020.9M113 1009.3V1015.2M114.2 1007.3V1017.1M115.5 1007.2V1014.8M116.6 1006.3V1014.3M118.8 1008.1V1015.4M120 1007.6V1012.2M123 1002.1V1014.2M124 1004.8V1010.7M125.4 1005.6V1012.6M126.2 1000.8V1009.9M127.1 1003V1008.9M128 1001.5V1009.7M129.1 1000V1010.2M130.5 999.2V1008.9M132.3 997.6V1009.2M134.6 998.5V1007.2M135.7 998.3V1007.9M137 999.6V1004.4M138.7 995.7V1005.8M140.6 995.8V1005.1M142 992.6V1001.4M145.5 991.2V1001.6M146.7 992.4V1001M148.1 991.8V1000.4M149.4 991.5V998.7M157.9 985.2V992.1M159.2 987.3V992.5M161.9 985.5V992M163.8 980.2V989.7M167 982.5V987.4M170.3 979.1V987M171.4 976.9V986.5M174.5 974.6V984.5M177.7 973.6V981M178.8 973.2V980.1M179.9 969.5V978.2M183.5 970.5V977.3M184.3 966.9V978.2M185.3 967.2V977.4M188.8 965.9V972.3M192 963.1V971.2M193.4 961.4V969M194.4 961.5V969.1M195.7 962.5V969.8M200.9 958.3V965.5M202.2 957.9V963.2M203.5 956.9V962M206.8 953.1V962.4M208.2 951.5V960.4M209.2 952.8V960.5M210.4 950.2V958.1M211.3 950.1V958M212.1 947.6V956.4M214.1 948.4V954.3M216.4 944.6V951.8M221.7 939.2V948.4M223.8 940.7V946.7M225.2 940.6V946.7M226.1 937.7V947.1M227 935.9V945.2M227.9 933.8V942.1M230.1 931.6V941.4M231.4 934.7V939.6M232.6 929.8V937.7M236.1 929.4V934.3M238.1 924.2V932M240.5 921.8V931.5M241.5 924.2V931.7M243.8 918.4V929.4M244.7 917.6V927.7M245.7 919.6V927.2M247 917.4V923.8M253.2 910.4V918.2M257.5 905.2V914.4M258.6 902.1V913.1M260.9 902.5V910.5M263.3 898.6V908.1M265.7 894.4V902.8M268.1 895.6V899.8M269.3 892.8V899M271.2 890.6V898M273.4 888.8V894.3M275.4 885.8V890.5M278.6 879.4V888.3M281.8 876.5V883.1M283 872.4V881.3M284 874.3V881.9M285.3 872.7V881.5M289 864.9V873.5M290.4 865V875M293.6 862.2V870.3M294.6 857.4V866.6M300.3 847.9V855.2M302.7 856.4V866.1M304.9 862.3V872.2M305.9 867.6V875.8M306.8 869.9V877.5M308.1 873.6V884.9M308.9 876.8V886.5M312.9 892.2V899.2M314.9 899.4V905.9M319.4 912.5V918.8M320.7 912.4V923.1M321.7 916.8V926.4M324 923.1V933.3M325 924.2V932.9M327.2 935.3V939.1M330.2 940V948.8M331.5 946.3V950.8M332.8 947.1V953.3M335 952.4V960.2M338.9 960.7V968.6M340.2 964.2V970.5M342.5 971.9V977.1M350.1 983.5V991.6M351.1 984.2V992.9M353.1 988.9V997.6M354.3 991.5V1002.1M355.6 993.6V1003.1M356.8 998.9V1003.2M360 1003.5V1010.3M362.3 1007.4V1012.8M363.1 1008V1015.2M367 1014.6V1019.2M368.2 1016.3V1020.5M369 1016.7V1023M369.8 1017.8V1023.6M370.9 1018.7V1025.3M372.2 1018.5V1027.7M373.1 1018.9V1028.7M374.4 1020.5V1029M376.8 1029.3V1038.4M378.9 1030.5V1037.5M381.2 1027.4V1036.5M382.4 1025.1V1032.9M383.3 1023.8V1032M384.2 1023.9V1033.1M385.5 1022.3V1030.4M386.4 1024.2V1029.5M387.4 1020.2V1030.7M388.4 1020.9V1029.5M389.2 1020.4V1029.1M390.5 1021V1028.1M391.5 1016.7V1026.5M396.2 1016.3V1024.1M400.7 1011.7V1017.1M401.8 1010.9V1016.4M402.6 1010.8V1016.9M403.7 1008V1015.7M404.6 1007.1V1017.3M405.6 1007.3V1015.4M406.8 1007.7V1011.7M410.1 1000.4V1009.3M411.5 1000.4V1008.9M412.7 1000V1007.9M415.9 997.5V1005.2M418.9 990.8V1000.7M419.8 991.8V998M421.1 989.9V999.8M422.2 989.2V995.5M424.8 983.7V994.4M426.2 986.1V991.4M427.3 982.7V991M428.1 981V990.2M430.3 980V987.3M431.5 975.9V984.5M432.9 974.2V984M434 974.7V984M436.7 969.4V978.2M438.6 967.7V975M439.7 969.3V975.6M440.7 964.3V974.7M443 960.6V972.4M445.4 961.4V966.4M446.6 957.2V967.3M447.4 954.3V963.7M451 950.1V959.5M451.9 949.3V956.3M452.9 947.1V956.8M458 939.6V948.3M460.2 942.5V950.3M463.7 946.8V956M465.9 952.8V961.3M467.8 956.9V962.5M470.3 959.6V967.5M471.4 958.9V969M472.4 964.1V971.1M473.5 962.1V973.2M479 971.4V981.4M480.1 972.1V981M481.4 974.4V981.5M483.4 977.8V984.9M485.5 978.9V990M486.8 982.4V992.4M488.8 983.1V993.1M490 985.6V994.5M491 986.9V994.9M492.1 988.5V995.6M493.5 992.2V1000.1M495.2 992V1001.5M498.4 995.6V1004.6M499.5 1000.3V1005.4M500.9 997.5V1008.1M504.5 1002.1V1012.8M507.6 1007.3V1015.4M510.7 1009.6V1016.1M512.5 1012.6V1021.2M516.1 1013.1V1024.5M517.8 1018.5V1026M519.7 1017.8V1027.1M523.6 1020.8V1030.1M525.6 1020.6V1029.3M526.6 1026V1033.7M528.7 1025.8V1035.4M529.8 1026.5V1033M530.9 1025.8V1035M532.3 1030.1V1037.8M533.4 1031V1036.2M534.7 1030.4V1037.8M535.8 1032V1040.7M538.5 1033.1V1040.1M541.6 1035.3V1041.3M543.5 1034.1V1043.1M545.4 1035.8V1046M546.5 1037.3V1045.8M548.4 1037.8V1048.6M549.4 1039.7V1046.8M553.7 1041.6V1049.9M554.6 1042.4V1049.8M555.9 1043V1052.9M557 1045.1V1053.3M558.2 1044.3V1051.9M559.3 1045V1054.4M560.2 1046.6V1054.8M563.5 1046.9V1054.9M564.4 1045.6V1055.9M566.4 1047.9V1056.7M569.2 1047.2V1058.3M570.8 1048.7V1058.2M571.8 1052.9V1059.1M579.2 1051.9V1061.3M581.3 1056.6V1062M582.6 1056.6V1064.1M583.4 1053.6V1063.6M584.6 1055V1065M587.7 1060.4V1066M588.8 1057V1068.3M592.1 1057.3V1065.8M594.1 1053.7V1062.5M596.4 1054.4V1059M597.8 1050.7V1057M599.9 1049.6V1056.6M601 1046.1V1053.2M604.5 1044.3V1049.7M606.8 1039.5V1046.9M607.9 1036.5V1045.3M610.6 1032.5V1041.7M612.9 1026.2V1033.5M613.9 1027.4V1033.2M617.1 1019.8V1025.5M621.3 1006.7V1016.1M623.5 1001V1009.4M624.5 997.8V1005.3M625.5 995.8V1003.3M627.7 990.7V997.8M629 984.6V991.7M636.9 957.2V964.7M641.2 941.3V947.4M643.8 948.6V957.1M645.8 954.3V958.9M648 955.7V964.1M650 962.1V967.8M651.3 963.6V970.5M652.4 968.6V972.4M655.7 973.5V982.9M657.1 976.6V983.4M658.3 976.1V986.7M661.7 986.6V992.3M662.9 987V994.3M664 986.6V995.7M667.2 991.5V1001.2M668.2 995.5V1001.6M669.2 996.4V1003.9M670.2 1000.9V1005.4M673.7 1006.4V1014M675 1004.9V1012.3M678.3 1009.9V1019.3M680.8 1012.8V1022.2M681.9 1017V1021.6M683.2 1016.2V1024.1M684.3 1018.3V1026.5M686.8 1023.5V1028.7M689.9 1031.7V1042.2M691.2 1028.6V1037.4M692.5 1028.3V1035.3M694.7 1024.7V1030M695.7 1023.7V1030M700.1 1010.7V1021.6M703 1004.7V1015.2M704 1006.3V1012.2M705.9 996.9V1005.9M708 992.1V1001M711 986.9V994.1M716.7 967.5V976.6M717.6 964.6V972.5M719.9 956.9V966.1M721 951.5V961.8M722.9 940.3V946.6M727.9 944.3V952.2M729.2 946.1V956.5M730.4 951V957M732.1 950.7V959.9M733.5 950.3V959.8M735.7 955V965.1M736.9 959.3V964.5M737.8 956.4V964.4M738.9 959.2V965.4M740.1 961.3V967.2M741.1 959.5V968.2M744.1 965V972.6M745.2 967.5V975.1M746.2 965.7V975.7M747.5 968V978.5M748.7 972.5V979.4M754.1 975.6V983.5M755.2 977.6V986.9M757.7 980V988.6M758.8 983.9V988.3M761.9 986.5V993.5M763.2 988.8V995.1M765.3 986.3V998.4M766.4 991.2V998.9M768.8 993.9V999.9M769.7 990.5V1000.4M770.8 996.1V1002.4M771.7 994.1V1004.5M772.9 995.5V1003.9M773.7 997.4V1004.8M777.3 1001.3V1005.9M778.3 998.6V1010.6M779.4 1003.8V1010.8M780.3 1000.7V1008.7M781.4 1001V1010.1M782.7 1005.4V1014.3M783.6 1006.3V1014.8M785.7 1007.2V1013.9M786.6 1006.7V1016.1M788.7 1007.2V1019.4M790.7 1009.8V1019.2M791.9 1009.8V1018.3M795.4 1013.2V1022M800.2 1020.1V1026.4M802.4 1020.1V1027.6M803.5 1019.1V1030M806.9 1021.5V1032.2M808.3 1024V1030.8M809.4 1024.3V1031.6M810.6 1024.1V1034M811.9 1028.4V1032.5M813 1026.6V1033.6M814.7 1026.9V1035.8M817.3 1031.2V1038.6M819.7 1030.6V1039.8M820.8 1031V1040.2M823.3 1033.4V1040.9M824.6 1034.6V1040.6M825.8 1035.9V1044M827.1 1035.2V1040.9M829.3 1038.3V1042.9M830.5 1038.2V1044.5M832.8 1039.8V1046.3M836.1 1039.5V1047.3M837 1038.8V1048.2M838 1038V1047.3M840 1042.5V1047.8M841 1040.7V1051.1M841.8 1043.8V1049.1M844.2 1043.4V1051.5M845.4 1041.5V1053M849.8 1045.8V1053.8M851.1 1043.5V1053.3M852.5 1045.5V1052.9M857.4 1042.7V1050.4M859.5 1039.6V1047.8M860.8 1040.2V1049.8M861.6 1039V1049.7M862.7 1038.5V1048M863.8 1038.3V1048.4M865.1 1039.4V1047.5M866.4 1035.8V1047.1M867.5 1037.8V1045.9M872.3 1033.5V1041.5M873.4 1034.6V1041.9M882.7 1028V1035M883.7 1028.9V1037.9M886.1 1029.7V1040.6M888.4 1033.7V1042M889.2 1034.9V1042.5M891.3 1035.1V1045.3M893.3 1038V1047.8M897.1 1041.1V1050.8M898.4 1043.5V1049.5M901.2 1043.8V1051.3M902.3 1044.4V1052.1M904.4 1047.5V1053.2M907.7 1049.7V1058.5M908.8 1048.9V1059.7M909.8 1050.9V1057.3M911.1 1052.7V1059.1M912.3 1050.5V1058.3M913.2 1051.6V1061M915.4 1052V1061.1M916.4 1054.2V1063.8M917.4 1056V1063.8M918.5 1057.2V1063.7M919.8 1054.4V1064.5M921.9 1056.5V1063.9M923.1 1055.6V1063.4M924.3 1057.5V1066.5M925.7 1056V1065.2M928.1 1066.4V1073.2M929.3 1067.6V1074.4M931.4 1062.5V1072.8M932.4 1063.6V1070.4M933.2 1062.6V1067.4M934.3 1059.2V1065.1M935.3 1059.5V1063.6M936.3 1057.1V1063.3M937.5 1050.8V1060M941.3 1040.4V1051.8M942.5 1037V1046.3M945.3 1029.9V1035.4M946.7 1022.4V1031.9M948.7 1013.5V1021.7M951.9 993.3V1003.3M952.8 991V997M956.4 960.8V970.1M958.9 940.5V950.4M960.3 942.3V949.6M961.5 945.9V954.7M962.6 946.6V956.4M965.2 949.3V958.7M970.6 960.1V966.8M975.2 965V973.2M976.1 965.8V972.2M977.8 967.2V976.4M979 969.1V977.8M980.1 969.1V979.2M981.1 970.2V978.3M982.2 973.8V979.5M983.5 975.3V982.2M985.2 978.1V983.5M987.8 979.9V986.4M989 983.5V991.3M991 985.9V991.3M992.2 984V994.2M993.3 984.6V993.3M995.5 989V998.5M998.9 991.5V1002.6M1002.4 995.1V1004M1004.5 998.5V1005.2" stroke="#1e1eff" stroke-width="0.65"/>
<path d="M69.5 1032.3 71 1031.1 72.5 1030.9 74 1028.9 75.5 1028.9 77 1027.6 78.5 1027.4 80 1028.5 81.5 1026.2 83 1026.7 84.5 1025.6 86 1025.7 87.5 1025.6 89 1024.9 90.5 1024.6 92 1024 93.5 1022 95 1022.8 96.5 1021.6 98 1019.8 99.5 1019.3 101 1019.1 102.5 1019.2 104 1016.8 105.5 1018 107 1016.8 108.5 1016 110 1014.8 111.5 1014.1 113 1013.4 114.5 1013.5 116 1012.1 117.5 1012.1 119 1011.7 120.5 1009.1 122 1008.2 123.5 1009.7 125 1007.2 126.5 1007.9 128 1006.2 129.5 1005 131 1003.7 132.5 1003.9 134 1003.6 135.5 1001.5 137 1000.6 138.5 1000.5 140 1001.1 141.5 1000 143 998 144.5 997.5 146 996.7 147.5 996.6 149 994.7 150.5 994 152 993.5 153.5 992 155 991.6 156.5 991.5 158 990 159.5 988.1 161 987.9 162.5 987.5 164 985.8 165.5 985.3 167 984.8 168.5 983.4 170 982 171.5 982.7 173 979.8 174.5 980.8 176 977.9 177.5 978 179 977 180.5 975.7 182 975.2 183.5 974.8 185 972.4 186.5 970.8 188 970.1 189.5 970.7 191 969 192.5 968.3 194 966.3 195.5 965.1 197 964.9 198.5 963.5 200 963.3 201.5 960.4 203 959.7 204.5 959.4 206 958.8 207.5 956.6 209 956.3 210.5 953.5 212 953.6 213.5 951.7 215 951.4 216.5 949.3 218 947.9 219.5 946.9 221 946.8 222.5 945.5 224 944.9 225.5 942.3 227 940 228.5 940.4 230 937.6 231.5 937.2 233 935.2 234.5 933.6 236 931.1 237.5 930.1 239 929.8 240.5 927.6 242 927.1 243.5 925.4 245 923.2 246.5 922.7 248 918.8 249.5 918.2 251 916.9 252.5 914.2 254 914.5 255.5 911.2 257 910.6 258.5 908.2 260 906.8 261.5 905.3 263 903.2 264.5 901.2 266 900.7 267.5 898.9 269 895.8 270.5 896.1 272 892.2 273.5 890.6 275 888.9 276.5 887.3 278 885.7 279.5 884.8 281 881 282.5 880.2 284 878.4 285.5 875.6 287 873.8 288.5 872.1 290 871.2 291.5 868.9 293 866.2 294.5 863.2 296 861.9 297.5 861 299 858.1 300.5 853.2 302 859.1 303.5 862.9 305 869.7 306.5 874.9 308 878.7 309.5 884.4 311 890.4 312.5 893.8 314 899.2 315.5 903.4 317 908.4 318.5 912.5 320 916.8 321.5 922.5 323 926.2 324.5 931.1 326 933.5 327.5 937.9 329 941.6 330.5 946.7 332 949.2 333.5 953.7 335 956.1 336.5 960.5 338 963.4 339.5 968.3 341 970.3 342.5 975 344 977.2 345.5 979.8 347 983.3 348.5 987.2 350 989.5 351.5 992.7 353 994.8 354.5 997.6 356 999.1 357.5 1003.3 359 1005.3 360.5 1007.8 362 1009.3 363.5 1012.7 365 1014.4 366.5 1016 368 1019.8 369.5 1021.3 371 1023.1 372.5 1025.4 374 1027 375.5 1028 377 1035.4 378.5 1034.2 380 1032.6 381.5 1030.9 383 1030 384.5 1027.8 386 1028.7 387.5 1027.4 389 1025.6 390.5 1024.1 392 1023.7 393.5 1020.6 395 1020.2 396.5 1018.6 398 1018.1 399.5 1016.2 401 1015.4 402.5 1014.8 404 1012.2 405.5 1010.1 407 1008.4 408.5 1008.9 410 1006.5 411.5 1004.9 413 1002.4 414.5 1001 416 999.2 417.5 999.7 419 996 420.5 995 422 993.7 423.5 992.2 425 989.6 426.5 988.9 428 987.1 429.5 986.1 431 982.1 432.5 980.7 434 978.4 435.5 976.9 437 974.8 438.5 972.3 440 972.2 441.5 968.9 443 968 444.5 966 446 963.9 447.5 959.9 449 959.1 450.5 957.5 452 954.8 453.5 952.4 455 949.7 456.5 942.2 458 944.1 459.5 946.2 461 949.1 462.5 951.5 464 953.3 465.5 956.8 467 959.6 468.5 961.5 470 962.3 471.5 965.5 473 968.6 474.5 969.3 476 972.4 477.5 975 479 976.7 480.5 978.3 482 979.6 483.5 983.3 485 984 486.5 987 488 988.7 489.5 991.1 491 991.5 492.5 995.4 494 996.7 495.5 998.8 497 998.9 498.5 1001.9 500 1002.7 501.5 1005.2 503 1006.8 504.5 1007.7 506 1010.6 507.5 1010.9 509 1012.5 510.5 1014.6 512 1014.7 513.5 1017.9 515 1018 516.5 1020.7 518 1020.3 519.5 1021.5 521 1024 522.5 1024.4 524 1026.2 525.5 1026.8 527 1029.3 528.5 1030.5 530 1031.5 531.5 1031.4 533 1032.3 534.5 1034.6 536 1034.5 537.5 1037.1 539 1037.8 540.5 1039.7 542 1040.4 543.5 1041 545 1042.4 546.5 1042.5 548 1042.9 549.5 1043.3 551 1045.7 552.5 1046.4 554 1047.2 555.5 1047.7 557 1048.4 558.5 1050.2 560 1049.7 561.5 1049.8 563 1052.5 564.5 1052.7 566 1053.7 567.5 1054.6 569 1053.9 570.5 1053.9 572 1055.3 573.5 1055.9 575 1056.2 576.5 1057.7 578 1057 579.5 1059.2 581 1057.9 582.5 1058.5 584 1060.3 585.5 1059.4 587 1065.1 588.5 1063.1 590 1062.3 591.5 1061.3 593 1059.4 594.5 1059.5 596 1058.2 597.5 1056.6 599 1053.1 600.5 1050.9 602 1049.9 603.5 1048.6 605 1045.9 606.5 1044.5 608 1042.1 609.5 1038.8 611 1035 612.5 1032.4 614 1028.6 615.5 1026.1 617 1023.6 618.5 1019 620 1015 621.5 1012 623 1008.8 624.5 1004 626 998.3 627.5 994.5 629 989.2 630.5 985.6 632 979.5 633.5 974.2 635 969.6 636.5 962.4 638 956.8 639.5 942.6 641 944.6 642.5 948.8 644 952.6 645.5 955.3 647 959.4 648.5 962.3 650 966.5 651.5 969 653 972.6 654.5 975.3 656 978.6 657.5 980.7 659 983 660.5 986.4 662 989 663.5 990.9 665 995.4 666.5 997.3 668 999.7 669.5 1002.7 671 1003.5 672.5 1006 674 1009.7 675.5 1010.2 677 1014.4 678.5 1015.6 680 1018.7 681.5 1020.4 683 1021.3 684.5 1023 686 1025.1 687.5 1027.6 689 1028.6 690.5 1036.4 692 1034.5 693.5 1031.3 695 1027.9 696.5 1025.5 698 1021.9 699.5 1018.9 701 1015.2 702.5 1013 704 1009.6 705.5 1004.9 707 1001 708.5 995.9 710 992.8 711.5 989.4 713 983.2 714.5 979.9 716 973.9 717.5 970 719 963.9 720.5 959.4 722 954.4 723.5 942.5 725 946.5 726.5 947.8 728 949.2 729.5 951.3 731 953.9 732.5 956.3 734 956.9 735.5 958.5 737 960.8 738.5 963.6 740 964.9 741.5 967.6 743 969.3 744.5 970.2 746 972.5 747.5 973.2 749 976 750.5 977.8 752 978.5 753.5 981.2 755 981.6 756.5 985.2 758 985.8 759.5 988.2 761 989.2 762.5 989.6 764 992.4 765.5 993.6 767 994.5 768.5 996.7 770 998.3 771.5 999.6 773 999.8 774.5 1003 776 1004.2 777.5 1004.4 779 1006.9 780.5 1008.4 782 1008.1 783.5 1009 785 1010.4 786.5 1012.2 788 1012.6 789.5 1014 791 1016.4 792.5 1015.8 794 1018.4 795.5 1019 797 1020.9 798.5 1020.9 800 1022.5 801.5 1022.9 803 1023.5 804.5 1026.5 806 1026.4 807.5 1027.2 809 1029.7 810.5 1029.3 812 1030.7 813.5 1030.6 815 1032.2 816.5 1034.2 818 1035 819.5 1035.9 821 1036.9 822.5 1036.2 824 1036.6 825.5 1037.6 827 1039.6 828.5 1040.1 830 1040.5 831.5 1042.1 833 1041.6 834.5 1043.3 836 1043.6 837.5 1043.6 839 1045.8 840.5 1045.1 842 1047.2 843.5 1047.8 845 1047.6 846.5 1048.3 848 1050.9 849.5 1050.1 851 1050.8 852.5 1049.3 854 1049.1 855.5 1047.9 857 1046.9 858.5 1045.9 860 1046.6 861.5 1045.1 863 1043.6 864.5 1044.5 866 1041.9 867.5 1041.3 869 1040.2 870.5 1040.3 872 1040 873.5 1037.2 875 1038.5 876.5 1037 878 1036.3 879.5 1034.3 881 1029.7 882.5 1030.6 884 1032.7 885.5 1035.8 887 1036 888.5 1039 890 1040.4 891.5 1042 893 1041.5 894.5 1043.5 896 1045.8 897.5 1045.8 899 1046.9 900.5 1047.5 902 1049.8 903.5 1051 905 1051.2 906.5 1052.3 908 1054.1 909.5 1054 911 1056.3 912.5 1057.4 914 1057.1 915.5 1057.2 917 1058.9 918.5 1059 920 1059.2 921.5 1061.3 923 1061.5 924.5 1061.4 926 1061.9 927.5 1070.2 929 1070.7 930.5 1068.2 932 1067.1 933.5 1064.2 935 1062.3 936.5 1059.7 938 1055.7 939.5 1052.6 941 1048.1 942.5 1042 944 1036.8 945.5 1031.5 947 1024.2 948.5 1017.9 950 1010.1 951.5 1001.5 953 992.7 954.5 981.9 956 971.3 957.5 942.5 959 946.6 960.5 949 962 950.5 963.5 953.3 965 954.8 966.5 956.7 968 958.2 969.5 961.1 971 963.7 972.5 966 974 968.2 975.5 969.3 977 972.4 978.5 972.9 980 974 981.5 976.9 983 979.1 984.5 981.5 986 982 987.5 983.3 989 986.7 990.5 987.2 992 990.5 993.5 991.5 995 992.2 996.5 994.8 998 997 999.5 997.3 1001 1000.6 1002.5 1000 1004 1001.8 1005.5 1003.8" stroke="#2020ee" stroke-width="0.7"/>
<path d="M298.5 859.7V847.7M455.7 948.9V937.9M638.9 949.8V933.8M721.6 952.5V938.5M878.3 1035.7V1027.7M958.7 949.2V935.2" stroke="#3030ff" stroke-width="0.8"/>
<path d="M73 1070.7 73 796 73.6 796 73.6 1052 75 1052 76 1012 78 1014 80 1030 80 1028.7 81.6 1027.9 83.2 1027.9 84.8 1025.9 86.4 1025 88 1025.3 89.6 1024.3 91.2 1023.8 92.8 1023.1 94.4 1023.5 96 1021.6 97.6 1021.8 99.2 1020.9 100.8 1019.6 102.4 1020.2 104 1018.2 105.6 1017.6 107.2 1016.7 108.8 1017 110.4 1016.3 112 1014.9 113.6 1013.7 115.2 1013.9 116.8 1012.7 118.4 1012.3 120 1011.8 121.6 1009.8 123.2 1009.1 124.8 1009.9 126.4 1009.2 128 1006.8 129.6 1006.3 131.2 1005.9 132.8 1006 134.4 1004.1 136 1004.6 137.6 1002 139.2 1002.8 140.8 1000.3 142.4 1000.6 144 1000.5 145.6 999.1 147.2 998.6 148.8 996.6 150.4 996.9 152 996 153.6 993.8 155.2 993.9 156.8 993.3 158.4 991 160 990.4 161.6 990.2 163.2 988.9 164.8 988.7 166.4 986.7 168 985.8 169.6 984.3 171.2 983.5 172.8 983.7 174.4 981.5 176 981.8 177.6 980.5 179.2 979.1 180.8 977.5 182.4 975.8 184 975 185.6 975.4 187.2 974.6 188.8 973.5 190.4 971.1 192 971.3 193.6 969.2 195.2 967.9 196.8 967.9 198.4 966.6 200 965.2 201.6 963.3 203.2 961.8 204.8 960.8 206.4 959.8 208 958.5 209.6 958 211.2 956.3 212.8 954.9 214.4 955.1 216 952.8 217.6 950.9 219.2 949.7 220.8 949.5 222.4 947.2 224 947 225.6 944.6 227.2 944 228.8 942.8 230.4 941.1 232 939 233.6 938.7 235.2 937.4 236.8 935.5 238.4 934.2 240 932.7 241.6 929.9 243.2 928.7 244.8 926.8 246.4 926 248 923.1 249.6 921.6 251.2 920.4 252.8 918.9 254.4 918.2 256 915.2 257.6 912.8 259.2 911.9 260.8 911.1 262.4 907.8 264 906.9 265.6 905.3 267.2 904 268.8 901.1 270.4 899.8 272 898.6 273.6 896.8 275.2 894 276.8 891.6 278.4 890.3 280 888.5 281.6 886.5 283.2 884.5 284.8 881.9 286.4 880.5 288 877.8 289.6 875.5 291.2 873.2 292.8 872 294.4 869.2 296 867.3 297.6 865.2 299.2 863.2 300.8 861.2 302.4 865.2 304 870 305.6 875.5 307.2 880.7 308.8 886.3 310.4 892.1 312 896.6 313.6 901.6 315.2 906.2 316.8 910.7 318.4 915.5 320 919.9 321.6 924.9 323.2 928.8 324.8 934 326.4 938.6 328 941.9 329.6 947.3 331.2 950.7 332.8 955 334.4 958.5 336 963 337.6 966.5 339.2 969 340.8 973.3 342.4 976.2 344 980.5 345.6 983 347.2 985.9 348.8 988.7 350.4 993.6 352 994.8 353.6 998 355.2 1002.1 356.8 1003.1 358.4 1006.5 360 1009.1 361.6 1012.1 363.2 1014.7 364.8 1017.5 366.4 1018.5 368 1020.2 369.6 1022.6 371.2 1024.3 372.8 1026.9 374.4 1029.6 376 1032 377.6 1032.3 379.2 1032.4 380.8 1032.5 382.4 1030.8 384 1029.3 385.6 1027.4 387.2 1026.2 388.8 1025.3 390.4 1024.9 392 1022.5 393.6 1022.1 395.2 1021.4 396.8 1018.5 398.4 1017.7 400 1016.5 401.6 1015.5 403.2 1014.4 404.8 1012.8 406.4 1010.8 408 1009.1 409.6 1008.2 411.2 1006.3 412.8 1005.6 414.4 1003.2 416 1001.7 417.6 1000.2 419.2 998.1 420.8 996.4 422.4 995 424 993.1 425.6 992.1 427.2 988.9 428.8 987.4 430.4 986.5 432 984.2 433.6 981.8 435.2 979.3 436.8 977 438.4 975.5 440 973.4 441.6 971.4 443.2 968.9 444.8 967.2 446.4 965.2 448 962 449.6 960.9 451.2 958.7 452.8 955.4 454.4 953.1 456 950.3 457.6 948.8 459.2 949.6 460.8 951.8 462.4 954.7 464 957.3 465.6 958.7 467.2 961.3 468.8 964.6 470.4 967.9 472 969.8 473.6 971.6 475.2 973.6 476.8 975.6 478.4 978.9 480 981.3 481.6 982.7 483.2 984.2 484.8 986.7 486.4 989.6 488 991.8 489.6 993 491.2 996 492.8 996.9 494.4 998.1 496 1000.3 497.6 1003.5 499.2 1004.9 500.8 1005.4 502.4 1007.5 504 1009.4 505.6 1011.3 507.2 1012 508.8 1015.4 510.4 1016.2 512 1017.2 513.6 1018.2 515.2 1020.8 516.8 1022.9 518.4 1023.9 520 1025.6 521.6 1027 523.2 1027.9 524.8 1028 526.4 1029.8 528 1031.6 529.6 1032.5 531.2 1033.3 532.8 1034.2 534.4 1036.9 536 1037.6 537.6 1038 539.2 1039.4 540.8 1041.3 542.4 1040.9 544 1042.9 545.6 1043.1 547.2 1045.4 548.8 1046.1 550.4 1047.3 552 1047.1 553.6 1048.2 555.2 1048.7 556.8 1049.6 558.4 1051.6 560 1052.4 561.6 1053.2 563.2 1053.8 564.8 1053.6 566.4 1054.7 568 1055.8 569.6 1055.5 571.2 1057.2 572.8 1057.5 574.4 1057.1 576 1057.8 577.6 1059 579.2 1058.5 580.8 1059.2 582.4 1059.6 584 1059.9 585.6 1062 587.2 1062.6 588.8 1061.8 590.4 1059.9 592 1059.2 593.6 1057.7 595.2 1055.7 596.8 1054.2 598.4 1051.7 600 1050.1 601.6 1048.3 603.2 1046.2 604.8 1044.6 606.4 1041.3 608 1038.8 609.6 1037.4 611.2 1034.4 612.8 1031.7 614.4 1028.2 616 1023.7 617.6 1020.8 619.2 1017.8 620.8 1013.9 622.4 1008.7 624 1005 625.6 1000.8 627.2 995 628.8 990.6 630.4 986.6 632 981.2 633.6 975.2 635.2 969.8 636.8 963.8 638.4 957.3 640 950.4 641.6 950.3 643.2 954.2 644.8 957.2 646.4 961.5 648 965.1 649.6 968.3 651.2 971.9 652.8 975.5 654.4 976.9 656 981.9 657.6 984 659.2 987.7 660.8 990.5 662.4 992.1 664 995.9 665.6 997.6 667.2 1001.6 668.8 1003.4 670.4 1006 672 1008.2 673.6 1011.7 675.2 1013.7 676.8 1015.3 678.4 1018.3 680 1019.4 681.6 1022.7 683.2 1024.3 684.8 1026.6 686.4 1028.2 688 1030.8 689.6 1032 691.2 1033.3 692.8 1031.1 694.4 1028.2 696 1024.7 697.6 1021.7 699.2 1019.5 700.8 1016.2 702.4 1013 704 1008.8 705.6 1004.6 707.2 1000.4 708.8 996.9 710.4 992.5 712 988.7 713.6 983.7 715.2 978.2 716.8 973 718.4 967.4 720 963.6 721.6 957.4 723.2 951.7 724.8 947.8 726.4 950.8 728 953.7 729.6 954.6 731.2 957.6 732.8 959.6 734.4 961.5 736 963.3 737.6 964.6 739.2 967.4 740.8 969.2 742.4 971.8 744 972.8 745.6 974.3 747.2 977.3 748.8 978.5 750.4 979.7 752 982.1 753.6 982.8 755.2 984.6 756.8 987.7 758.4 988.5 760 990.8 761.6 991.3 763.2 993.4 764.8 994.5 766.4 997.2 768 998.3 769.6 999.4 771.2 1000.9 772.8 1002 774.4 1003.4 776 1005.8 777.6 1006.5 779.2 1007.4 780.8 1009.4 782.4 1010.8 784 1013.2 785.6 1013.3 787.2 1014.6 788.8 1017 790.4 1017.8 792 1018.5 793.6 1019.6 795.2 1020.4 796.8 1021.4 798.4 1023.2 800 1024.7 801.6 1024.7 803.2 1026.5 804.8 1027 806.4 1028.9 808 1029.4 809.6 1031.1 811.2 1032.3 812.8 1032.6 814.4 1033.5 816 1033.8 817.6 1035 819.2 1036.8 820.8 1038 822.4 1037.6 824 1040.1 825.6 1040.8 827.2 1040.6 828.8 1041.8 830.4 1042.8 832 1042.9 833.6 1043.8 835.2 1045.2 836.8 1045.5 838.4 1046.1 840 1047.1 841.6 1046.9 843.2 1048.3 844.8 1048.6 846.4 1049 848 1050.4 849.6 1051 851.2 1049.9 852.8 1049.1 854.4 1048.7 856 1047.5 857.6 1047.9 859.2 1045.5 860.8 1044.3 862.4 1044.6 864 1044.1 865.6 1042.6 867.2 1041.7 868.8 1040.7 870.4 1039.6 872 1039.8 873.6 1039 875.2 1036.9 876.8 1036.4 878.4 1035.2 880 1033.5 881.6 1033.7 883.2 1034.7 884.8 1037.4 886.4 1038.9 888 1040.6 889.6 1040.9 891.2 1042.1 892.8 1044.9 894.4 1044.9 896 1047.5 897.6 1047.7 899.2 1050.1 900.8 1050 902.4 1051.2 904 1053.9 905.6 1054.2 907.2 1055.1 908.8 1057.1 910.4 1057.6 912 1057.4 913.6 1059.2 915.2 1059.4 916.8 1060.3 918.4 1060.7 920 1061.2 921.6 1062 923.2 1062.6 924.8 1063 926.4 1064.9 928 1064.4 929.6 1064.7 931.2 1063.5 932.8 1061.2 934.4 1057.7 936 1056.4 937.6 1053.1 939.2 1049.1 940.8 1043.8 942.4 1039.9 944 1034.1 945.6 1026.9 947.2 1020.9 948.8 1014.2 950.4 1005.8 952 997.8 953.6 987.9 955.2 977.6 956.8 966.6 958.4 953.2 960 951.2 961.6 951.8 963.2 955.7 964.8 956.6 966.4 959.7 968 961.9 969.6 963.4 971.2 966.7 972.8 969.1 974.4 970.1 976 972.3 977.6 975.4 979.2 977 980.8 978 982.4 980.5 984 983.7 985.6 984.3 987.2 986.2 988.8 988.4 990.4 991.1 992 992.8 993.6 993.7 995.2 996.1 996.8 996.5 998.4 998.3 1000 1000.6 1001.6 1002.7 1003.2 1003.4 1004.8 1004.8" stroke="#00ee00" stroke-width="1"/>
<path d="M68.4 796 V881 M69.3 796 V900" stroke="#44ff44" stroke-width="0.8"/>
</svg>
<text x="57.2" y="805.8" font-size="29" text-anchor="end">8</text>
<text x="57.2" y="872.3" font-size="29" text-anchor="end">6</text>
<text x="57.2" y="940.6" font-size="29" text-anchor="end">4</text>
<text x="57.2" y="1009.7" font-size="29" text-anchor="end">2</text>
<text x="57.2" y="1078.5" font-size="29" text-anchor="end">0</text>
<text x="65.3" y="1099.8" font-size="29" text-anchor="middle">0</text>
<text x="221.8" y="1099.8" font-size="29" text-anchor="middle">1</text>
<text x="377.2" y="1099.8" font-size="29" text-anchor="middle">2</text>
<text x="535.3" y="1099.8" font-size="29" text-anchor="middle">3</text>
<text x="690.8" y="1099.8" font-size="29" text-anchor="middle">4</text>
<text x="847.4" y="1099.8" font-size="29" text-anchor="middle">5</text>
<text x="1005" y="1099.8" font-size="29" text-anchor="middle">6</text>
<text x="248.2" y="777.8" font-size="31" textLength="567.2" lengthAdjust="spacing">(c) Turbine, Generator &amp; Grid Power [W]</text>
<text x="65" y="786.3" font-size="29">x 10</text>
<text x="116.3" y="765" font-size="16">4</text>
<rect x="800.3" y="810.3" width="193.7" height="145.6" fill="#fff" stroke="#888"/>
<path d="M814.4 836.4 H887.3" stroke="#ff0000" stroke-width="3.4"/>
<path d="M814.4 881.4 H887.3" stroke="#5555ff" stroke-width="1.2"/>
<path d="M814.4 926.6 H887.3" stroke="#44ee44" stroke-width="1.2"/>
<text x="895" y="841.1" font-size="26">P</text>
<text x="910.9" y="853.3" font-size="18">turbine</text>
<text x="895" y="888" font-size="26">P</text>
<text x="910.9" y="899.8" font-size="18">generator</text>
<text x="895" y="934.8" font-size="26">P</text>
<text x="910.9" y="946.8" font-size="18">grid</text>
<path d="M221.4 1460.4 V1187.6" stroke="#888" stroke-dasharray="10.3 9.43"/>
<path d="M377.2 1460.4 V1187.6" stroke="#444" stroke-dasharray="10.3 9.43"/>
<path d="M535.3 1460.4 V1187.6" stroke="#444" stroke-dasharray="10.3 9.43"/>
<path d="M691.5 1460.4 V1187.6" stroke="#888" stroke-dasharray="10.3 9.43"/>
<path d="M847.3 1460.4 V1187.6" stroke="#444" stroke-dasharray="10.3 9.43"/>
<path d="M65.4 1214.3 H1004.7" stroke="#444" stroke-dasharray="10.3 9.43"/>
<path d="M65.4 1268.4 H1004.7" stroke="#888" stroke-dasharray="10.3 9.43"/>
<path d="M65.4 1322.6 H1004.7" stroke="#888" stroke-dasharray="10.3 9.43"/>
<path d="M65.4 1377.3 H1004.7" stroke="#999" stroke-dasharray="10.3 9.43"/>
<path d="M65.4 1431.4 H1004.7" stroke="#444" stroke-dasharray="10.3 9.43"/>
<path d="M64.9 1187.6 H1005.2" stroke="#333"/>
<path d="M64.9 1460.4 H1005.2" stroke="#666"/>
<path d="M65.4 1187.6 V1460.4" stroke="#555"/>
<path d="M1004.7 1187.6 V1460.4" stroke="#888"/>
<path d="M221.4 1460.4v-9.5M221.4 1187.6v9.5" stroke="#888"/>
<path d="M377.2 1460.4v-9.5M377.2 1187.6v9.5" stroke="#444"/>
<path d="M535.3 1460.4v-9.5M535.3 1187.6v9.5" stroke="#444"/>
<path d="M691.5 1460.4v-9.5M691.5 1187.6v9.5" stroke="#888"/>
<path d="M847.3 1460.4v-9.5M847.3 1187.6v9.5" stroke="#444"/>
<path d="M65.4 1214.3h9.5M1004.7 1214.3h-9.5" stroke="#444"/>
<path d="M65.4 1268.4h9.5M1004.7 1268.4h-9.5" stroke="#888"/>
<path d="M65.4 1322.6h9.5M1004.7 1322.6h-9.5" stroke="#888"/>
<path d="M65.4 1377.3h9.5M1004.7 1377.3h-9.5" stroke="#999"/>
<path d="M65.4 1431.4h9.5M1004.7 1431.4h-9.5" stroke="#444"/>
<svg x="64.4" y="1186.6" width="941.3" height="274.8" viewBox="64.4 1186.6 941.3 274.8" overflow="hidden">
<path d="M70.6 1186 V1462 M72.1 1186 V1462 M74.5 1186 V1462 M76.5 1186 V1303 M78 1212.5 V1303.6" stroke="#ff3030" stroke-width="0.9"/>
<path d="M65.6 1186 V1462" stroke="#cc2020" stroke-width="1"/>
<path d="M78 1286 79.1 1299.2 80.3 1296.4 81.6 1296.7 83.2 1299 84.2 1294.4 85.8 1298.5 87 1296 88.9 1294.1 90.4 1297.9 91.9 1295 93.7 1298.9 94.9 1297.2 96.3 1299 97.3 1297 98.7 1298.6 100.7 1301.3 102.1 1299.9 103.2 1300.6 105 1300 106.1 1301.7 107.2 1300.3 108.7 1302.8 110.7 1301.6 112.3 1302.1 113.3 1303.1 114.9 1303.3 116.2 1304.1 117.9 1303.7 119.6 1304.9 120.9 1302 122.8 1301.4 123.9 1301 125.2 1301.3 126.5 1301.6 127.6 1300.8 128.9 1302.4 130.2 1303 132.2 1303.4 133.7 1299.3 134.7 1300.6 135.9 1302.8 137.9 1298.7 139.8 1299.7 141.7 1301.4 142.8 1298.3 144.3 1301.4 146.1 1299.4 147.6 1297.5 149.3 1298.7 150.7 1299.1 151.9 1299.4 153.6 1298.5 155.3 1298.5 156.7 1299.7 158.5 1295.1 159.7 1297.7 160.7 1298 161.9 1298.2 162.9 1294.8 164.1 1298.7 165.5 1296.3 166.8 1296 168.3 1293.9 169.4 1294.9 170.6 1298.2 171.8 1296.5 173.7 1296.9 175.5 1294.8 176.8 1292.4 177.9 1292.9 179.4 1295.8 181 1292.3 182.1 1293.8 183.6 1292.5 185.3 1290.3 187 1290.9 188.3 1291.3 190.1 1290.6 191.3 1291.1 192.8 1293.3 194.4 1290.8 195.5 1288.9 197.4 1290.4 199.3 1289.3 200.3 1293.9 202.2 1291.2 203.6 1288 204.8 1292.1 206.5 1291.5 207.9 1291.7 209.1 1286.8 210.5 1290 211.7 1285.6 213.1 1286.2 215 1286.9 216.5 1286.8 218.5 1290.3 220.2 1288.1 221.5 1288.3 223.5 1288.9 225.1 1283.6 226.8 1283.4 228.5 1283.3 230 1287.8 232 1281.7 233.3 1286.7 234.5 1282.4 235.8 1280.5 237.4 1285.6 238.5 1282.1 240.4 1284.4 241.5 1279.3 243.4 1280.4 245.1 1283 247 1280.2 248.1 1280.1 249.3 1284.8 251.1 1282.5 252.4 1277.7 254 1279 255.8 1275.8 257 1282.6 259 1280.1 260.5 1282.2 262.3 1279.4 264.2 1274.5 265.4 1272.9 266.4 1272.3 267.6 1272.8 269.3 1280.2 271.1 1279.9 272.1 1274.4 273.9 1275.2 275.8 1269.8 277.2 1271.2 279.1 1275.4 280.4 1271.7 281.8 1271.6 282.9 1276.9 284.7 1271.9 286.5 1276.2 287.5 1275 288.8 1270.5 290.2 1271.5 291.9 1274.4 293 1271.7 294.7 1269.4 296.4 1271.4 298 1280.1 299.1 1281.9 300.4 1278.8 301.6 1277 302.8 1281.5 303.9 1286.4 304.9 1289.4 306.8 1283.8 307.8 1285.3 309.1 1288.6 310.5 1295 312.2 1288.8 313.4 1292.6 314.9 1293.4 316 1294.5 317.1 1293.9 318.7 1296 320.5 1291.4 322 1296.3 323.6 1296.1 325.5 1298.1 326.7 1299.2 328.6 1297.4 330.1 1298 332 1299.2 333.7 1296.6 335.2 1300 336.6 1301.8 337.9 1301.8 339.3 1299.8 340.4 1299.1 342.1 1300.6 343.6 1299.7 345.2 1301.3 346.2 1300.4 347.5 1303.3 349.2 1301.1 350.5 1304.9 351.8 1306 353.4 1304.3 355.3 1306.2 356.5 1306.4 358 1306.8 359.7 1307.6 361.3 1307.2 362.6 1308.7 364.4 1307.1 366 1308.2 367.9 1308.7 369.2 1309.7 370.6 1308.4 372.2 1311.1 373.5 1311 374.9 1309.7 376.7 1311.8 378.1 1313.1 379.8 1311.9 381.5 1310.3 383.5 1310.9 385.3 1308.5 386.8 1309 388 1309.2 389.3 1307.7 390.7 1308.2 392.2 1307.4 394.1 1304.3 396 1304.2 397.1 1303.5 398.4 1304.7 399.9 1302.8 401.5 1301.8 403.4 1303.2 404.7 1301.3 406.5 1300.6 408 1301.3 409 1299.9 410 1300.7 411.6 1296.2 413.5 1296.8 414.6 1299.1 416.3 1297.8 417.9 1293.9 419.9 1295.2 421.1 1293.9 422.3 1296 423.5 1295.6 424.7 1292.7 426 1293.6 427 1295.1 428.7 1294.9 430.6 1291.1 432 1291.9 433.1 1293.4 434.3 1292 435.9 1292.5 437.6 1290.3 439.4 1290.2 440.4 1288.4 441.7 1292.1 443.6 1289.2 445.4 1290.2 447.3 1289.9 449.3 1288 451.2 1284.8 452.9 1288.9 453.9 1283.7 455.8 1283 457.8 1288.6 459.1 1284.5 460.4 1289.2 462.2 1287.7 463.5 1291.3 465.1 1290.2 466.6 1291.1 468.4 1293.3 470.1 1295.2 471.6 1295.1 473.6 1298.9 475.1 1296.6 476.6 1300.9 478.3 1303.2 479.4 1300.2 480.8 1303.8 482.4 1302.5 483.7 1304.2 485.1 1302.2 486.4 1305.1 488.2 1302.7 489.5 1307.4 490.9 1305 492.5 1308.5 493.6 1308.3 495.1 1309.5 497 1308.2 498.3 1309.8 499.3 1308.3 501 1311.1 502.7 1310.7 504.4 1308.8 506.1 1308.1 507.5 1309.2 509.2 1308.4 511.1 1311.3 512.3 1311.9 514.3 1311.4 516.2 1309.1 517.6 1309.9 518.6 1312.6 519.8 1310 521.7 1311.5 523 1313.1 525 1310.3 526 1312.1 527.2 1313.4 528.3 1311.5 530.3 1313.7 532.1 1313.5 534 1312 535.2 1312.5 536.7 1314 538.2 1313.1 539.2 1313.7 540.7 1314.3 542.7 1313.3 544.3 1314.5 546.3 1314.9 547.6 1314.8 549.5 1315 551 1315.1 552.9 1315.6 554.1 1315.4 556.1 1315 557.8 1314.4 559.1 1315.8 560.7 1314.7 562.5 1316.2 563.6 1315.9 565.3 1315.1 566.9 1316.2 568.1 1316.9 569.9 1316 571.3 1316.8 572.5 1316.2 574 1317 575.2 1317.3 577.1 1317 578.6 1317.9 579.7 1317.8 581.2 1318 582.3 1318.2 583.7 1318.8 585 1318.9 586.2 1318.7 587.2 1318.8 589.1 1318.2 590.8 1318.1 592.5 1317.4 593.6 1316.7 595.1 1316.4 596.6 1316.8 598.6 1316.1 599.7 1314.7 601.6 1314.2 602.8 1312.8 604.4 1311.6 606.3 1311.2 608 1308 609.3 1307.1 610.8 1306.6 612.7 1304.5 614.6 1304.6 615.8 1302.8 617.7 1300.8 619.7 1300.8 621.4 1299.7 622.5 1294.5 624.1 1294.8 626 1292.6 627.3 1293.5 628.3 1292.2 629.7 1287.8 630.9 1287.9 632.3 1288.5 633.6 1286.2 634.9 1285.9 636.1 1287.4 638 1284.8 639.4 1285 641.3 1284.3 643.2 1288.7 644.8 1296.2 646.6 1295.6 647.9 1298.5 649 1296.6 650.6 1298.6 652.1 1297.9 653.3 1298.8 654.7 1301.2 656.2 1302 657.7 1298.5 659.1 1304 660.4 1304 662.1 1303.2 663.7 1305.3 665.2 1303 666.4 1304.7 667.8 1304.3 669.5 1305.1 671.2 1304.1 673.2 1305.3 674.4 1305.7 675.8 1308.8 677.5 1306.5 678.7 1307.5 680.6 1307 681.8 1308.9 683.2 1309 685.1 1309.2 686.6 1309.1 688.3 1311.7 689.9 1312.4 691.1 1310.3 692.3 1312.2 694.3 1311.2 695.6 1311.4 697.1 1309 698.6 1305.6 699.8 1304 701 1305.7 702.6 1300.7 703.7 1299.2 705.4 1298 707.3 1296.6 708.5 1298.5 710.1 1295.6 711.6 1296.7 713.3 1295.1 714.4 1290.3 716.4 1288.6 717.6 1288.9 719.6 1287.3 720.7 1290.1 722.7 1284.3 724.5 1291.1 725.9 1293 727.5 1289.6 729.2 1297 731.1 1294.8 732.5 1296.5 733.7 1298 734.8 1294.7 736.5 1294.8 738.3 1298.2 739.6 1299 740.8 1299.6 742.6 1295.9 743.9 1299.4 745.5 1297.3 747.5 1300.4 748.5 1301.6 749.5 1301.2 750.8 1299 751.9 1300.8 753 1302.6 754.4 1301.4 756 1301.5 757.6 1300.2 759.2 1302.6 760.6 1302 762.2 1302.2 763.8 1304.2 765.5 1304.2 766.8 1305.2 768.7 1305.9 770.2 1304.3 771.6 1307.2 773.2 1304.9 774.8 1305.1 776.6 1307.6 778.1 1306.6 779.6 1304.7 780.7 1306.5 781.9 1305.2 783.2 1307.8 784.5 1308.9 786.2 1308.4 788.2 1306.8 790.1 1308.4 791.5 1309 793.1 1309.9 794.3 1308 796.1 1308.9 797.7 1310.3 798.9 1311.3 800.2 1309.4 801.7 1310.6 803.4 1311.8 804.6 1310.1 805.7 1312.3 806.8 1312 808.2 1312.1 809.3 1313.1 810.6 1313 812.3 1311.4 814.1 1312.9 815.4 1313.4 817.2 1314.3 818.9 1314.7 820.5 1313.5 821.7 1313.1 822.7 1313.3 823.8 1313.9 825.7 1313.5 826.8 1314.3 827.8 1314 829.2 1315.3 830.8 1315.2 832.7 1314.4 834.3 1315.4 835.8 1315.4 837.7 1314.4 839.6 1315.9 840.8 1315.6 842.5 1315 843.8 1316.8 845.1 1315.3 846.7 1315.7 848.2 1315.8 850 1314.6 851.1 1313.6 852.5 1314.1 854.3 1313 856.3 1311.9 857.8 1311.2 859.1 1309.8 861 1310.6 862.1 1310.7 864.1 1311.4 865.1 1309.2 866.8 1309.9 868.3 1310.3 869.7 1311 871.7 1310.1 873.2 1311.3 874.9 1311.7 876 1310.3 877.9 1312.3 879 1311.2 881 1310.7 882.7 1312.5 884.2 1311.5 885.9 1313.1 887.3 1314.3 888.4 1313.4 889.5 1315 890.7 1313.4 892.6 1315.9 894.1 1315.1 895.3 1314.6 897.2 1316.5 898.9 1316.4 900.8 1316.4 902.6 1316.3 903.8 1316.3 904.9 1317.7 906.1 1316.7 907.8 1317.5 909 1317.9 910.2 1317.3 912 1318.1 913.3 1317.9 914.4 1317.7 916.2 1319 918 1318.4 919.9 1319.2 921.4 1319.6 923.2 1319.8 924.7 1320.4 926.6 1320.1 928.3 1319.1 929.7 1318 931 1315.7 932 1314.4 933.2 1312.7 934.5 1311 935.5 1309.2 937.5 1306.1 939 1304.8 941 1300.9 942.2 1300.3 944 1296.6 945.1 1296.2 946.6 1292.8 948.1 1292.1 949.9 1286.8 951.6 1283.6 953 1281.3 954.6 1277.3 956.4 1274.9 957.7 1272.7 959.3 1268.2 961.1 1277.6 962.2 1282.4 964.1 1289.9 965.7 1296.8 967.6 1297.3 969.1 1299.5 970.3 1294.9 971.4 1299.4 972.6 1295.8 974.5 1297 976.2 1297.8 978.2 1301 979.7 1299.8 980.8 1298.4 981.9 1300.7 983.3 1299.8 984.5 1302.4 986.1 1303.4 987.3 1304.2 988.5 1304.1 990.4 1304.9 991.6 1305.2 992.6 1302.1 993.6 1305.2 995 1304.7 996.8 1306.2 998 1303.8 999.2 1302.5 1000.6 1304.4 1002.2 1307.3 1003.8 1305.5 1005.7 1308.3 1005.7 1346.7 1003.8 1346.3 1002.2 1347.9 1000.6 1349.8 999.2 1346.6 998 1346.1 996.8 1348.7 995 1346.9 993.6 1346.4 992.6 1350.9 991.6 1346.5 990.4 1350.5 988.5 1350.5 987.3 1350.6 986.1 1350.5 984.5 1352.8 983.3 1351.8 981.9 1349 980.8 1351 979.7 1351.5 978.2 1351.1 976.2 1349.3 974.5 1350.3 972.6 1353.9 971.4 1356.9 970.3 1356.1 969.1 1352.2 967.6 1355.2 965.7 1354.7 964.1 1357.5 962.2 1353.7 961.1 1346.8 959.3 1343.8 957.7 1328 956.4 1324.1 954.6 1324.4 953 1322.4 951.6 1324.2 949.9 1323.3 948.1 1327.6 946.6 1327 945.1 1325 944 1326.4 942.2 1325.4 941 1325.1 939 1324.9 937.5 1324.9 935.5 1324.7 934.5 1323.6 933.2 1325 932 1325.4 931 1326.3 929.7 1327.2 928.3 1327.3 926.6 1328.5 924.7 1328.5 923.2 1329 921.4 1328.9 919.9 1329 918 1329.7 916.2 1329.5 914.4 1330.6 913.3 1330.4 912 1330.7 910.2 1331.3 909 1331 907.8 1331.9 906.1 1332 904.9 1331.1 903.8 1332.3 902.6 1332.5 900.8 1333.3 898.9 1332.3 897.2 1334.2 895.3 1334.1 894.1 1335.4 892.6 1335.4 890.7 1335 889.5 1337.2 888.4 1336.2 887.3 1338.1 885.9 1338.8 884.2 1336.5 882.7 1336.4 881 1335.7 879 1336.4 877.9 1336.1 876 1332.9 874.9 1333.2 873.2 1333.1 871.7 1331.5 869.7 1331.3 868.3 1330 866.8 1330 865.1 1329.9 864.1 1330.8 862.1 1330.5 861 1330.3 859.1 1330.9 857.8 1329.3 856.3 1330.4 854.3 1331.7 852.5 1331.6 851.1 1331.9 850 1333.1 848.2 1333.6 846.7 1333.4 845.1 1333.9 843.8 1333.1 842.5 1333.8 840.8 1333.9 839.6 1332.6 837.7 1334 835.8 1333.6 834.3 1333.7 832.7 1333.9 830.8 1334.9 829.2 1333.2 827.8 1333.3 826.8 1334.8 825.7 1333.8 823.8 1333.5 822.7 1333.8 821.7 1335.6 820.5 1333.9 818.9 1335.7 817.2 1334.2 815.4 1333.8 814.1 1333.6 812.3 1334.4 810.6 1334.2 809.3 1336.3 808.2 1336.2 806.8 1337.2 805.7 1335.3 804.6 1335.9 803.4 1337.3 801.7 1336 800.2 1335.9 798.9 1337.1 797.7 1337.2 796.1 1339.7 794.3 1338.2 793.1 1340.3 791.5 1337.7 790.1 1341.3 788.2 1338.7 786.2 1339.1 784.5 1342.7 783.2 1340.2 781.9 1341.6 780.7 1340.7 779.6 1340.5 778.1 1343.2 776.6 1344.4 774.8 1342.6 773.2 1345.5 771.6 1343.5 770.2 1345.1 768.7 1345.5 766.8 1345.9 765.5 1345.4 763.8 1345.4 762.2 1346.9 760.6 1346.3 759.2 1348.5 757.6 1349.6 756 1346.5 754.4 1346.2 753 1349 751.9 1349 750.8 1351.6 749.5 1347.6 748.5 1349.9 747.5 1349.9 745.5 1351 743.9 1351.5 742.6 1352.2 740.8 1353 739.6 1352.1 738.3 1354.3 736.5 1350.8 734.8 1356.1 733.7 1350.6 732.5 1350.3 731.1 1354.7 729.2 1354 727.5 1353.6 725.9 1352.2 724.5 1347.1 722.7 1343 720.7 1342.5 719.6 1340.3 717.6 1340 716.4 1344.8 714.4 1340 713.3 1341.3 711.6 1339.7 710.1 1338.7 708.5 1337.7 707.3 1339.3 705.4 1338.3 703.7 1336.5 702.6 1340.6 701 1340.4 699.8 1337 698.6 1339.5 697.1 1339.5 695.6 1339 694.3 1337.9 692.3 1340.9 691.1 1343.5 689.9 1346.1 688.3 1343.3 686.6 1345.5 685.1 1346.1 683.2 1346.3 681.8 1347.3 680.6 1347 678.7 1345.3 677.5 1345.6 675.8 1348 674.4 1347.4 673.2 1347.9 671.2 1350.8 669.5 1346.4 667.8 1347.8 666.4 1350.6 665.2 1350.1 663.7 1347.7 662.1 1351.7 660.4 1350.7 659.1 1351.2 657.7 1351.3 656.2 1350.7 654.7 1351.3 653.3 1352 652.1 1355 650.6 1351.1 649 1355.4 647.9 1353.5 646.6 1355.3 644.8 1357.3 643.2 1350.9 641.3 1348.1 639.4 1347.8 638 1343.1 636.1 1346.1 634.9 1343.6 633.6 1342.9 632.3 1338 630.9 1340.5 629.7 1336.7 628.3 1337.8 627.3 1336.3 626 1337 624.1 1333.6 622.5 1332.6 621.4 1333.4 619.7 1333.5 617.7 1331 615.8 1329.7 614.6 1330.6 612.7 1329.1 610.8 1329.5 609.3 1328.7 608 1329.2 606.3 1327.4 604.4 1327.3 602.8 1327.6 601.6 1326.9 599.7 1326.5 598.6 1326.3 596.6 1325.9 595.1 1326.1 593.6 1326.3 592.5 1326.9 590.8 1326.8 589.1 1326.9 587.2 1326.7 586.2 1326.9 585 1327 583.7 1326.9 582.3 1327.2 581.2 1326.9 579.7 1327.1 578.6 1328.3 577.1 1327.7 575.2 1328.1 574 1328.4 572.5 1328.7 571.3 1328.3 569.9 1329.2 568.1 1328.8 566.9 1329.2 565.3 1329.5 563.6 1329.9 562.5 1329.7 560.7 1330.2 559.1 1332 557.8 1332.4 556.1 1332.1 554.1 1332.7 552.9 1332.7 551 1333.4 549.5 1333.2 547.6 1334.7 546.3 1335.5 544.3 1335.6 542.7 1336.1 540.7 1335.7 539.2 1335.5 538.2 1337.8 536.7 1336.2 535.2 1336.7 534 1336.8 532.1 1337.3 530.3 1339.7 528.3 1340.3 527.2 1339 526 1341.3 525 1342 523 1341 521.7 1341.1 519.8 1341.9 518.6 1341.8 517.6 1341.2 516.2 1344 514.3 1342.9 512.3 1343.6 511.1 1345.2 509.2 1346.2 507.5 1347.1 506.1 1345.9 504.4 1345.6 502.7 1346.6 501 1345.5 499.3 1349.9 498.3 1349.4 497 1349 495.1 1348.1 493.6 1349.9 492.5 1349.2 490.9 1352.3 489.5 1349.1 488.2 1349.2 486.4 1352.4 485.1 1352.1 483.7 1353.9 482.4 1351.3 480.8 1353.5 479.4 1355 478.3 1351.3 476.6 1356 475.1 1352.9 473.6 1356.1 471.6 1358 470.1 1355.5 468.4 1355.3 466.6 1355.4 465.1 1352.2 463.5 1356.6 462.2 1352.1 460.4 1354.6 459.1 1354.8 457.8 1348.9 455.8 1348.6 453.9 1350.4 452.9 1346.7 451.2 1352.5 449.3 1348.6 447.3 1349.3 445.4 1346.5 443.6 1350.1 441.7 1345.4 440.4 1346.3 439.4 1345.1 437.6 1348.1 435.9 1346.3 434.3 1343.4 433.1 1343.4 432 1344.3 430.6 1343.9 428.7 1344.5 427 1341.5 426 1342.2 424.7 1342.4 423.5 1343.1 422.3 1341.3 421.1 1345.3 419.9 1341.2 417.9 1341 416.3 1340.3 414.6 1343 413.5 1340.8 411.6 1341.2 410 1342.5 409 1340.2 408 1338 406.5 1338 404.7 1338.8 403.4 1340.6 401.5 1339.6 399.9 1337 398.4 1339.1 397.1 1339.1 396 1335.8 394.1 1338.8 392.2 1337 390.7 1336.4 389.3 1336.4 388 1335.6 386.8 1338 385.3 1337.6 383.5 1335.7 381.5 1336.8 379.8 1336 378.1 1340.6 376.7 1345.1 374.9 1343.4 373.5 1345.7 372.2 1344.5 370.6 1344.5 369.2 1348.5 367.9 1346.7 366 1346.2 364.4 1348.9 362.6 1346.9 361.3 1348.8 359.7 1347.7 358 1350.4 356.5 1348.7 355.3 1352.3 353.4 1349.2 351.8 1354.7 350.5 1350.8 349.2 1355.8 347.5 1355.3 346.2 1352 345.2 1353.3 343.6 1357.7 342.1 1354.7 340.4 1359.2 339.3 1356.7 337.9 1360.4 336.6 1359.1 335.2 1362.1 333.7 1364 332 1360.7 330.1 1360.3 328.6 1365.1 326.7 1360.8 325.5 1361.6 323.6 1365.4 322 1369.1 320.5 1366 318.7 1372.4 317.1 1372.7 316 1373.6 314.9 1369.7 313.4 1370.8 312.2 1369.6 310.5 1371.5 309.1 1375.2 307.8 1373.2 306.8 1369.8 304.9 1376 303.9 1369.5 302.8 1368.7 301.6 1374.3 300.4 1373.5 299.1 1368.3 298 1366 296.4 1368.7 294.7 1368.4 293 1369.2 291.9 1360.7 290.2 1361.8 288.8 1361 287.5 1364.3 286.5 1362.8 284.7 1364.1 282.9 1358.4 281.8 1363.8 280.4 1357.9 279.1 1360.6 277.2 1356.9 275.8 1355.3 273.9 1360.7 272.1 1354.5 271.1 1355 269.3 1355 267.6 1358.3 266.4 1359.1 265.4 1358.5 264.2 1359.5 262.3 1352.8 260.5 1359.3 259 1354.7 257 1354.4 255.8 1356.6 254 1353.1 252.4 1358 251.1 1360 249.3 1353 248.1 1351.9 247 1354.2 245.1 1352.7 243.4 1351.4 241.5 1355.8 240.4 1355.9 238.5 1352.4 237.4 1356.2 235.8 1351.1 234.5 1351.5 233.3 1356.3 232 1350 230 1353.4 228.5 1354.1 226.8 1355.7 225.1 1351.2 223.5 1354.9 221.5 1352.7 220.2 1354.5 218.5 1354.6 216.5 1352.3 215 1351.9 213.1 1354 211.7 1353.5 210.5 1347.7 209.1 1347.5 207.9 1350 206.5 1353.1 204.8 1348.3 203.6 1351.8 202.2 1348 200.3 1351.1 199.3 1350.5 197.4 1350.3 195.5 1350.5 194.4 1349.8 192.8 1348.2 191.3 1346.2 190.1 1347.5 188.3 1348.8 187 1346 185.3 1350.8 183.6 1349.4 182.1 1350.1 181 1346.5 179.4 1347.2 177.9 1345 176.8 1348.1 175.5 1347.3 173.7 1347.6 171.8 1344.2 170.6 1346.3 169.4 1343.7 168.3 1346.4 166.8 1343.4 165.5 1343.3 164.1 1345.4 162.9 1344.7 161.9 1345.6 160.7 1343 159.7 1347.3 158.5 1345.4 156.7 1346 155.3 1342.7 153.6 1341.4 151.9 1345.4 150.7 1345 149.3 1345.1 147.6 1341.3 146.1 1345.2 144.3 1342.7 142.8 1342.7 141.7 1344.8 139.8 1340.4 137.9 1341.6 135.9 1342 134.7 1340.3 133.7 1344 132.2 1340.6 130.2 1341.6 128.9 1342.2 127.6 1342.2 126.5 1340.8 125.2 1341.4 123.9 1342.3 122.8 1338.8 120.9 1338.9 119.6 1341.5 117.9 1340 116.2 1342.4 114.9 1342.5 113.3 1339.7 112.3 1342.6 110.7 1342.2 108.7 1339.8 107.2 1339.7 106.1 1341.6 105 1342.5 103.2 1343.1 102.1 1342.7 100.7 1344.7 98.7 1340.7 97.3 1341.3 96.3 1341.1 94.9 1343.9 93.7 1344.7 91.9 1342.3 90.4 1343.8 88.9 1345.1 87 1347.4 85.8 1345.9 84.2 1345.1 83.2 1347.6 81.6 1346.5 80.3 1348.7 79.1 1345.7 78 1346.5 Z" fill="#ff0000" fill-opacity="0.13" stroke="none"/>
<path d="M78.5 1290.1V1349.8M80.4 1296.9V1346.2M82.8 1297.8V1343.9M86.8 1295.6V1345.9M88.9 1295.3V1342.7M92.7 1296.9V1341.5M94.3 1298.3V1343.9M98.2 1299.9V1345M100.4 1303.1V1341.9M102.2 1302.8V1340.9M104.5 1302.7V1340M117.6 1303.2V1342.5M119.5 1302.3V1341.8M135.8 1302.1V1342.2M137.6 1300.4V1344.4M139.7 1301.1V1339.1M141.6 1299.8V1339.8M153.2 1299V1345.2M159.4 1298.7V1344.7M161 1297.9V1341.2M163.3 1294.2V1342.5M168.6 1296.5V1347.6M172.1 1293V1343.3M174.3 1294.7V1342.8M176.1 1291.9V1349.1M182.3 1295.1V1348.6M194 1290.9V1346.9M195.8 1292.9V1349M198.1 1295.9V1350.5M202.4 1288.6V1350.5M204.5 1289.4V1347.9M206.6 1290V1345.8M208.6 1293.8V1350M210.4 1287.9V1352.1M214.3 1291.9V1349M220 1293V1354.3M224.1 1284.6V1354.7M225.8 1289.9V1348.5M227.5 1288.7V1347.8M231.4 1284V1352.9M235.8 1283.8V1350.2M237.9 1282.6V1350.1M245.7 1284.9V1352.2M247.8 1286.4V1356.4M249.6 1281.1V1349.7M251.8 1279V1353.6M254 1277V1350.7M260.3 1281.5V1353.2M268.3 1277V1352.7M270.3 1274V1352.7M272.4 1276.6V1361.1M274.3 1271.9V1359.9M276.3 1276.5V1351.3M278.1 1270.7V1354.1M280.2 1272.7V1360.5M282 1280.9V1363.1M283.9 1278.5V1360.3M287.6 1279.7V1366.7M289.5 1277.3V1357.4M291.5 1272.2V1360.8M293.8 1272.8V1364.2M297.9 1278.2V1361.3M307.5 1288.6V1370.7M309.3 1286.4V1374.9M323.6 1300.8V1361M325.8 1302.3V1364.8M331.9 1295.9V1362.4M333.8 1302.4V1359.2M342.5 1302.4V1352.6M344.8 1304.2V1356.2M348.8 1305.8V1352.7M351.1 1303V1351.4M357.7 1308V1348.7M362.2 1307.2V1346.7M366 1309.1V1347.2M367.7 1308.7V1344.7M369.5 1307.6V1347.9M371.5 1310.9V1342.9M373.7 1313.4V1346.8M375.5 1309.6V1342.3M379.9 1313V1334.2M382.2 1311.8V1334.3M394.7 1304.4V1337.4M396.8 1306V1337.1M398.5 1302.9V1337.3M400.9 1303.9V1338.3M406.2 1302.9V1337M408.3 1302.7V1339.5M412.4 1299.3V1342M414.6 1294.9V1339.3M420.4 1294.8V1339.7M422.8 1291.8V1340.5M424.7 1293.5V1343.8M439 1294.1V1349.2M445 1289.1V1345.5M447.1 1291V1351.6M448.9 1286.8V1351.6M451.1 1289.6V1352.9M454.6 1288.2V1348.6M456.3 1286.7V1351.2M458.6 1290.6V1350.4M460.8 1291V1352.3M462.8 1295.3V1356.6M466.6 1298V1354.7M468.3 1292V1358.4M470.6 1296.1V1353.3M474.4 1297.1V1357.6M476.8 1300.7V1349.7M480.4 1302.8V1348.9M482.6 1306.2V1349.9M491.1 1305.9V1348.7M498.1 1307.2V1345M501.8 1311.8V1346.5M503.5 1309.9V1346.6M505.2 1310.1V1345.4M507.4 1312.2V1342.7M509.6 1309.6V1342.8M517.5 1309.4V1344M531 1314.4V1339.3M535.2 1313.3V1336M536.9 1314.8V1337.9M540.4 1314.2V1337.4M542.3 1312.4V1336.7M544.4 1313.3V1334.5M546.3 1313.7V1335.7M548.2 1314.8V1334.2M550.5 1313.5V1332M554.4 1313.9V1331.6M558.5 1315.9V1330.5M564.1 1315.4V1330.3M569.9 1316.5V1329.4M571.7 1316.9V1329.1M574 1317.8V1328M579.9 1318.4V1327.1M582.1 1318V1326.8M593.9 1317.5V1326.8M602.8 1313.1V1327.8M604.6 1311.1V1328.1M606.6 1310.5V1328.5M608.5 1308.2V1328.9M610.6 1308.1V1328.8M612.5 1306.3V1327.9M616.7 1303.6V1328.9M620.9 1300.3V1330.8M623.1 1298.7V1333.8M626.8 1294.6V1333.5M630.3 1286.5V1338.3M633.9 1287.4V1340M639.8 1287V1340.8M642.1 1288.8V1347.3M646.1 1291.5V1354.8M648.4 1295.2V1352.1M650.5 1300.3V1351.8M654.5 1298.9V1352.1M658.3 1303.3V1351.2M660.3 1300.6V1353.3M665.4 1305V1350.4M669.1 1304.3V1349.9M677.1 1310.6V1344.7M680.7 1306.8V1344.9M682.5 1309.4V1345.3M688.6 1311.1V1344.2M690.6 1313.5V1344.4M692.5 1314.8V1340.4M694.8 1313.3V1339.8M699 1305.3V1338.2M701 1305.7V1337M702.8 1303.8V1336.3M706.9 1298.9V1340.7M712.9 1295.3V1339M715.3 1292.7V1340.2M719.5 1286V1344.1M723 1285.5V1344.9M724.9 1289.7V1344.7M728.5 1297.1V1351.4M736 1294.2V1350.7M738.2 1300.5V1350.4M742.7 1298.6V1350M746.8 1299.4V1352.3M753.1 1301.6V1346.5M759.8 1304.5V1349.1M764.1 1303.1V1346.5M766.4 1307.3V1343.3M768.4 1307.3V1343.9M771.9 1307.3V1345.6M781.7 1306.5V1339.4M783.5 1306.1V1342M785.7 1308V1340.9M787.9 1307.9V1341.9M792.1 1310.7V1339.7M795.9 1309.3V1339.2M799.9 1310.8V1337.9M804.1 1312.8V1336.9M805.8 1311.8V1334.5M811 1311.5V1334.2M816.4 1313.7V1334.2M818.2 1313.5V1333.1M827.7 1314V1333.7M830 1315.6V1334.8M832 1315.3V1334.3M834 1316V1333.1M835.8 1316V1333.9M837.6 1314.4V1333.7M841.9 1316.9V1331.9M843.9 1316V1333.7M847.7 1317.3V1332.8M849.5 1315.7V1331.5M859.6 1310V1330.6M862 1312.1V1330.8M864.3 1309.4V1330.9M866.4 1311.6V1330.1M868.3 1311.7V1330.6M876 1309.8V1332.5M878.3 1312.8V1336.3M889 1314.4V1334.6M891.1 1316.2V1335.7M893.3 1316.7V1335M897.5 1315.3V1332.4M899.4 1316.9V1332.7M903.3 1316.7V1332.6M905.3 1317.9V1332.4M911.3 1318.4V1330.2M913 1317.9V1329.6M914.9 1317.6V1330.3M921.4 1318.9V1328.9M927 1320.9V1327.6M936.9 1308.2V1323.4M943 1299.5V1324.6M944.8 1296V1327.6M946.5 1295.9V1325.1M950.6 1286.6V1324.1M952.4 1281.6V1324.4M954.1 1278.4V1321.5M956.5 1273.8V1328.5M958.7 1268.1V1339.5M962.2 1287.1V1345.8M965.7 1295.8V1355.9M974.3 1299.6V1349.3M976.1 1299.3V1348.1M983.3 1303.8V1351.1M989.2 1301.2V1349.5M991.1 1302.9V1346.8M993.5 1305.2V1349M998 1303.1V1344.9M1000 1306.9V1344.7M1001.6 1306.4V1344.5M1003.3 1305.2V1347.2" stroke="#ff1414" stroke-width="0.75"/>
<path d="M84.4 1294.6V1343.4M90.8 1297.2V1346.8M96.3 1301.3V1341.1M106.4 1300.3V1341.2M108.5 1301.5V1340.4M110.5 1304.6V1339.1M112.1 1304.6V1341.2M114.1 1302.4V1339.9M115.7 1304V1342.7M121.7 1304.7V1339.4M123.6 1301.2V1340.3M125.3 1303.7V1338M127.6 1302.9V1340.5M129.5 1303.6V1338.9M131.7 1302.1V1342.3M133.9 1304.2V1342.1M143.7 1299.1V1345M145.4 1300V1342.9M147.5 1300.8V1340.9M149.8 1298.6V1343.7M151.6 1298.9V1345M155.1 1295.7V1343.1M157.2 1296.2V1343.4M165.2 1297.4V1342.3M166.9 1296.5V1343.4M170.4 1299.2V1347.8M177.7 1293.9V1344.2M180 1292.4V1348.7M184.5 1294.3V1350.8M186.4 1292V1348M188 1295.5V1345.7M190.4 1292V1349.8M192.1 1294.7V1348.6M200.5 1293.3V1345M212.5 1285.5V1351.2M216 1291.4V1350.7M218.2 1293V1353.3M221.8 1290.1V1354M229.8 1288.9V1352.4M233.7 1282.8V1348.9M240 1286.1V1352M242 1287.5V1355.8M244.1 1278.7V1353.8M256 1278.3V1352.1M258.1 1276.6V1360.3M262.5 1277.7V1353.4M264.5 1272.9V1357.7M266.4 1272.3V1356M285.7 1279.7V1357.4M296 1270.1V1362.8M299.7 1283.7V1372.6M301.6 1278.4V1367.2M303.3 1279.1V1371M305.6 1286.6V1372M311.1 1292.2V1373.5M313.4 1298.7V1375.1M315.6 1289.8V1368.8M317.7 1292.3V1370.8M319.6 1293.1V1368.2M321.5 1295.5V1369.4M327.5 1300.5V1363M329.9 1301.4V1357.8M336.1 1297.3V1356M338.5 1302.1V1360.6M340.7 1302.8V1357.6M346.9 1304.8V1350.8M353.1 1307.3V1349.6M355.5 1304.9V1348.4M359.9 1308.6V1350.8M364.2 1311V1347.6M377.5 1313.2V1340.7M383.9 1311.2V1335.3M386.1 1311.2V1334.8M388.4 1307.1V1335M390.1 1306.7V1335.3M392.4 1306.4V1337.6M402.6 1299.7V1339.8M404.4 1299.4V1341.1M410.5 1302.1V1341.4M416.4 1297V1340.7M418.5 1293.4V1343.8M427 1293.9V1345.6M429.4 1292.7V1344.7M431.2 1295.8V1346.8M433.4 1289.7V1342.6M435.5 1288.1V1345.8M437.1 1293.8V1346.1M441.4 1292.4V1348.2M443.1 1291.3V1344.9M452.8 1292.2V1349.4M464.6 1290.3V1351.4M472.7 1300.9V1356.4M478.7 1298.1V1353M484.9 1305.7V1347.8M487.1 1307.3V1353.4M489.4 1304V1350.3M493 1310.1V1350.9M494.6 1308.2V1345.9M496.3 1306.5V1347.2M499.9 1308.3V1346.5M511.5 1308.8V1343.6M513.1 1313.1V1342.2M515.1 1309.5V1344.4M519.4 1313.2V1342.2M521.1 1313.6V1341.1M523 1312.1V1341.3M525.2 1312.6V1338.8M526.8 1313.6V1338.5M528.9 1314.2V1339.1M533 1314.4V1339.2M538.8 1315.1V1337.2M552.4 1315.7V1333.5M556.3 1315.3V1331M560.5 1315.2V1331.2M562.1 1316.3V1329.9M566 1315.6V1329.6M567.8 1315.5V1329M576.1 1317.4V1328.5M578.1 1317.7V1327.5M584.5 1318V1326.5M586.1 1318.2V1326.4M587.7 1318.6V1326.9M589.8 1318.7V1326.1M592.1 1318V1326.2M596 1316.7V1326.3M598.2 1315.6V1325.6M600.5 1315.7V1326.1M614.4 1305.2V1329.7M619 1299.4V1332.7M624.9 1294.4V1336M628.4 1294.6V1334.7M632.1 1286.2V1342.9M635.7 1288.2V1338.1M638.1 1280.3V1342.8M644.1 1297V1353M652.4 1295.4V1352.5M656.3 1300.2V1354M662.1 1303.2V1350.5M663.7 1306.1V1349.3M667.1 1307.5V1350.4M671 1303.6V1345.4M673 1306.6V1346M674.8 1308.4V1344.6M678.7 1308.7V1348.2M684.5 1308.3V1346.9M686.8 1311.2V1344.6M697.2 1309.4V1337M704.8 1299.8V1338.3M708.7 1300.3V1341.6M710.6 1293.8V1340.1M717.2 1287.9V1341.1M721.4 1284.5V1345.3M726.6 1292.5V1346M730.6 1294.1V1352.5M732.7 1294V1354.5M734.3 1298.1V1349.2M740.3 1298.7V1352.2M744.5 1297.7V1350.4M749 1298.8V1349.1M750.8 1304V1351.1M755.5 1304.2V1345.4M757.6 1302.6V1344.2M762 1306.3V1344.8M770.3 1306.3V1341.7M774.3 1307.2V1343M776.2 1304V1341.9M778.2 1307.6V1343.6M779.8 1306.7V1342.7M789.9 1307.7V1338.2M794 1310.3V1339.5M798.2 1310.3V1338M801.8 1310.9V1336.5M807.5 1312.2V1334.2M809.3 1312.5V1335.3M812.9 1312.6V1333.8M814.8 1312.3V1335.3M820.1 1312.6V1334M822.3 1313.8V1335.4M824.4 1314.5V1334.9M826 1313.4V1332.7M839.9 1315.2V1333.4M845.5 1317.3V1332.5M851.3 1314.7V1331.7M853.5 1313.7V1329.7M855.3 1312.8V1330.1M857.4 1310.5V1328.6M870.1 1309.4V1329.9M872.4 1310.2V1332.8M874.1 1311.9V1334.3M880.5 1313.3V1336.2M882.6 1311.4V1335.3M884.8 1313.2V1336.8M886.8 1314.6V1337.9M895.7 1316V1333.6M901.7 1316.3V1332.6M907.5 1318V1331.3M909.4 1318.1V1330M917.2 1318.1V1329.3M919.3 1319.1V1329.8M923 1319.5V1328.6M925.4 1320.4V1328M929 1319.1V1327.4M931.2 1315.7V1326.2M933.4 1313.1V1324.7M935.2 1310.7V1322.8M939.2 1305.4V1325.9M941.3 1302.1V1325.5M948.8 1289.5V1325.1M960.5 1277.9V1345.9M963.9 1294.5V1349.7M967.8 1294.2V1352.3M969.9 1297V1352.5M972.1 1298.8V1354.7M977.8 1300.2V1348.5M979.5 1301.8V1352.2M981.4 1298.2V1352.7M985.4 1304V1347.3M987.3 1305.6V1346.7M995.9 1306.3V1344.8M1005.6 1309.4V1345.5" stroke="#ff6a6a" stroke-width="0.7"/>
<path d="M64.4 1322.6 H1005.7" stroke="#8c8cff" stroke-width="0.9"/>
<path d="M640.3 1290 V1261 M643.7 1345 V1367.3 M723.2 1290 V1267.1 M879.7 1312 V1300.5 M957.7 1280 V1246.7 M310.5 1360 V1383.6 M300.3 1290 V1267.8 M294 1290 V1267 M456.7 1290 V1277.4 M79 1300 V1282.5" stroke="#ff2a2a" stroke-width="0.9"/>
<path d="M80 1303.9l1.6 0M82.7 1299.5l1.6 0.8M86.3 1325.8l1.6 -0.2M89.4 1321l1.6 0.2M92 1336.3l1.6 0M94.5 1325.1l1.6 0.7M97.5 1313.2l1.6 0.1M100.9 1307.5l1.6 0.9M103.7 1317.9l1.6 0M107.2 1308.1l1.6 -0.8M110.2 1302.5l1.6 -0.2M112.5 1310l1.6 -0.3M116.2 1326.1l1.6 -0.5M119.5 1322.3l1.6 -1.2M122.4 1329.6l1.6 0.7M126.3 1303l1.6 0M129.1 1319.6l1.6 0.8M132 1323.4l1.6 0.6M135.7 1325l1.6 0.1M137.9 1316.3l1.6 -0.7M141.5 1328.8l1.6 -0.9M144.6 1337.7l1.6 0.8M147.4 1315.3l1.6 0.1M150.2 1342.7l1.6 0.8M154 1344.4l1.6 -0.9M157.9 1314.4l1.6 -0.6M161.1 1316l1.6 -0.7M165 1304.9l1.6 -1M167.8 1337.5l1.6 0.7M170.7 1315.7l1.6 -0.9M174.3 1334.5l1.6 -0.7M177.7 1342.2l1.6 -0.3M180.1 1334.2l1.6 0.3M182.9 1292.6l1.6 -0.4M186.3 1302.5l1.6 0M189.9 1311.5l1.6 -0.9M193.2 1331.4l1.6 0.3M197 1312.5l1.6 0M199.9 1342.1l1.6 -0.4M202.4 1312l1.6 0.8M205.9 1300.4l1.6 0.8M209.9 1309.6l1.6 0.7M213.3 1327.6l1.6 -0.6M215.3 1344.2l1.6 -0.4M218.9 1343.7l1.6 0.9M222.4 1335.2l1.6 0.8M226.3 1348.8l1.6 0.9M228.9 1349.2l1.6 -1M231.3 1345.6l1.6 0.1M235.2 1306.7l1.6 -1M237.5 1347.4l1.6 0.7M240.3 1330.4l1.6 -1.1M244.2 1302l1.6 -0.7M247.2 1316.8l1.6 0M250.6 1293.2l1.6 0.7M253.3 1310l1.6 1M256.7 1336.5l1.6 0.7M259.6 1304.8l1.6 0.1M263.3 1289.7l1.6 0.5M266.2 1355l1.6 0.5M270.1 1309.2l1.6 -0.1M272.6 1290.7l1.6 -0.4M275 1327.5l1.6 0.2M278.5 1339.2l1.6 1.1M281.5 1327.8l1.6 0.1M284.5 1302.8l1.6 -0.5M287.2 1319.2l1.6 -0.1M290.3 1335.4l1.6 1.2M293.4 1368.3l1.6 -0.4M296.6 1329.6l1.6 -0.1M299.6 1298.5l1.6 1.2M301.7 1355.4l1.6 0M304.4 1310.3l1.6 1.1M307.1 1338.1l1.6 -0.2M310.4 1338.5l1.6 0.1M312.6 1292.3l1.6 0.4M314.6 1334.2l1.6 -0.5M318.1 1318.1l1.6 -1.1M320.4 1318.6l1.6 0.3M323.8 1354.8l1.6 1.1M326.9 1298.9l1.6 0.4M329.6 1337.4l1.6 -0.8M332.4 1313.3l1.6 0.4M336.3 1321.4l1.6 0M339.6 1345l1.6 -0.3M342.1 1337.9l1.6 -0.5M345.1 1335.8l1.6 0.1M349.1 1320.4l1.6 -0.7M351.9 1347.8l1.6 0.9M354 1312.2l1.6 -0.6M357.6 1336.6l1.6 -0.8M361.2 1343.6l1.6 0.8M363.8 1341l1.6 -0.6M367.7 1314.1l1.6 -0.3M370.3 1339.6l1.6 0.6M373.4 1329.1l1.6 -0.5M376.6 1313.3l1.6 0.5M380.5 1323.1l1.6 -0.1M383.6 1320.4l1.6 1M386.1 1322.5l1.6 0.5M389.6 1316.5l1.6 -0.9M392.9 1309.6l1.6 0.8M395 1333.3l1.6 0.8M398 1334.2l1.6 0.7M401.3 1311.7l1.6 -1M403.6 1304.9l1.6 0.4M407 1338l1.6 -0.3M409.7 1335l1.6 0.7M413.7 1297.7l1.6 1.1M416.5 1333.2l1.6 -0.7M419.6 1331.3l1.6 0.5M423 1298.1l1.6 1M425.1 1335.3l1.6 0.2M428.3 1303.4l1.6 0.7M431.8 1304.5l1.6 1M434.7 1339l1.6 -0.6M437.4 1301.6l1.6 -1.1M439.7 1297.8l1.6 0M442.7 1294.4l1.6 1M445.9 1319.5l1.6 -0.5M448.8 1344.7l1.6 -0.2M451.8 1346l1.6 -0.2M455.5 1289.4l1.6 0.5M457.7 1303.7l1.6 -1M461.5 1347.2l1.6 0.7M464.5 1298l1.6 0M468.3 1339.4l1.6 -1.2M472.3 1353.4l1.6 0.2M474.3 1339.1l1.6 0.3M476.3 1323.6l1.6 -1.2M478.4 1336.8l1.6 0.6M481.1 1309l1.6 -0.5M483.5 1330.3l1.6 -0.5M487.4 1304.6l1.6 -0.6M490.6 1325.7l1.6 -1M493.4 1318.9l1.6 0.7M495.9 1334.4l1.6 0.4M498.7 1310.6l1.6 0.1M500.9 1318.3l1.6 1M503.3 1345.3l1.6 -0.8M505.3 1310.8l1.6 0.8M509.1 1319.6l1.6 -0.4M511.8 1331.9l1.6 -0.5M514.7 1332.1l1.6 -0.5M517 1331.7l1.6 0.4M519 1324.7l1.6 0.8M522.2 1331.6l1.6 1.1M524.6 1323.3l1.6 -0.8M528.4 1328.2l1.6 0.9M531.7 1321.6l1.6 0.5M534.3 1325.5l1.6 0.3M537.8 1319.4l1.6 0.6M540.9 1327.5l1.6 -1M543.9 1316.4l1.6 0.3M547.5 1322.1l1.6 -0.2M550.8 1325l1.6 1.2M554.5 1326.5l1.6 -0.4M556.6 1326.1l1.6 -0.7M560 1325.2l1.6 0.9M562.1 1322.7l1.6 -0.4M564.8 1319.9l1.6 0.8M567.7 1323.2l1.6 -0.9M570.8 1324l1.6 -0.9M573.5 1320.6l1.6 0.1M575.6 1326.6l1.6 -0.3M579.5 1319.5l1.6 0.6M583.3 1322.4l1.6 -0.3M586.5 1321.8l1.6 -0.6M590.4 1323l1.6 0M593.3 1323.7l1.6 0.6M595.9 1320.2l1.6 -0.2M598 1320.6l1.6 -0.9M601.3 1318.7l1.6 -0.4M603.7 1316.6l1.6 -0.6M607.5 1318.1l1.6 0.1M610.1 1327.3l1.6 0.2M612.5 1321.7l1.6 -1.2M616.5 1323.1l1.6 -0.7M619.3 1329.2l1.6 0.7M622.9 1318.4l1.6 -0.7M626.2 1318.2l1.6 -0.8M628.3 1315.5l1.6 1M631 1321.1l1.6 -0.9M634.7 1336.5l1.6 -0.5M638.2 1329.5l1.6 -0.2M641.9 1289.3l1.6 -0.5M644.2 1344.6l1.6 0.6M646.6 1334.1l1.6 0M649.8 1320l1.6 0.2M652.9 1315.3l1.6 -0.3M655.2 1332.9l1.6 0.8M657.7 1330.8l1.6 -0.3M660 1304.2l1.6 -1.1M663.5 1308.8l1.6 -0.5M666.5 1312.6l1.6 0.2M669.5 1314.5l1.6 0.4M672.8 1346.4l1.6 -0.4M676.3 1332.3l1.6 0.2M678.4 1319.9l1.6 -0.2M680.5 1312.4l1.6 0.8M682.7 1329.9l1.6 -0.6M685.8 1324.1l1.6 -0.6M688.7 1320.5l1.6 1.1M691.6 1316.1l1.6 0.6M693.9 1331.9l1.6 0.7M697.8 1323.8l1.6 0.6M701.3 1332.1l1.6 0.3M705.1 1328.8l1.6 -0.3M707.9 1333l1.6 1M710.6 1337.3l1.6 0.7M714 1309l1.6 -0.5M716.6 1326.4l1.6 -0.1M719 1296.1l1.6 0.7M721.4 1296l1.6 0.1M723.5 1309.8l1.6 -0.7M727.2 1325.7l1.6 0M730.2 1294.7l1.6 0.8M734.1 1295.4l1.6 0.2M737.6 1344.6l1.6 1.1M741.5 1346.1l1.6 -0.8M745.4 1350.7l1.6 0.3M749.2 1313.2l1.6 -0.2M751.4 1323.8l1.6 1.2M754.8 1323.2l1.6 -0.4M757.3 1321.8l1.6 -0.5M760.2 1328.2l1.6 -0.2M763.4 1321.1l1.6 0M766.4 1339.1l1.6 0.9M769.6 1335.1l1.6 -0.5M771.9 1317.3l1.6 -0.9M775.4 1340l1.6 0.3M777.9 1311.1l1.6 0.7M781 1312l1.6 1.2M784.5 1339.5l1.6 1.2M788.1 1337.7l1.6 1.1M790.4 1319.4l1.6 0.1M793.7 1313.9l1.6 -0.5M797.2 1336.7l1.6 -0.1M801.1 1333.5l1.6 1M803.5 1321l1.6 0.4M807.1 1331.3l1.6 -0.9M810.4 1313.5l1.6 -0.5M812.5 1323.8l1.6 -0.9M815.9 1322l1.6 0.7M818.5 1333.5l1.6 -0.9M820.7 1324.2l1.6 0M824.4 1315.5l1.6 -0.8M826.9 1323.1l1.6 0.8M830.2 1319.8l1.6 -0.3M833.7 1325.3l1.6 -0.9M836.4 1316.6l1.6 -0.1M838.9 1321.3l1.6 -0.4M842.6 1318.1l1.6 -1M844.9 1323.5l1.6 -0.2M848.8 1327.4l1.6 -0.6M851 1323.8l1.6 0.8M853.5 1326.3l1.6 -0.3M857.4 1328.3l1.6 -0.8M861 1322.1l1.6 -0.3M864 1327.8l1.6 0M867.2 1320.3l1.6 -1.1M870.7 1312.9l1.6 1M872.7 1322.7l1.6 -0.6M876.1 1325.3l1.6 0.6M879.7 1335.3l1.6 -0.9M882.2 1324.3l1.6 1M885 1318.6l1.6 0.1M887.6 1316.1l1.6 0.7M890.5 1332l1.6 -0.9M893.2 1318.1l1.6 0.8M896.1 1326.4l1.6 -1.1M898.9 1323l1.6 0.5M901.4 1331l1.6 -0.4M904.4 1324l1.6 -0.4M906.6 1318.9l1.6 1M910.5 1325.4l1.6 -0.9M912.9 1322.4l1.6 -1.1M915.6 1322.2l1.6 -0.4M919.3 1324.6l1.6 1.2M921.9 1321.4l1.6 0.6M925.3 1325.9l1.6 -0.3M929 1320.7l1.6 0.5M932.3 1320.3l1.6 0.3M935.3 1316.2l1.6 -0.1M938.5 1321.1l1.6 -0.4M941.6 1310.8l1.6 -0.8M945 1297l1.6 0.9M947.1 1298.6l1.6 0.6M950 1298.1l1.6 0M953.8 1308.2l1.6 -0.3M957.7 1285.7l1.6 -1M961.2 1336.3l1.6 0.7M964 1335.3l1.6 -0.7M966.5 1353.5l1.6 0.8M970.4 1328.7l1.6 0.5M973.2 1319.6l1.6 1M976.6 1349.5l1.6 -0.8M979.5 1347.6l1.6 1M983.1 1345.4l1.6 -0.6M986.5 1306.3l1.6 -0.1M988.6 1322.6l1.6 -0.7M991.4 1334l1.6 0.4M995.1 1345.8l1.6 -0.5M997.8 1322.6l1.6 -0.6M1001.5 1338.8l1.6 0.4" stroke="#e00000" stroke-width="1.1"/>
</svg>
<text x="57.2" y="1223.1" font-size="29" text-anchor="end">1520</text>
<text x="57.2" y="1277.2" font-size="29" text-anchor="end">1510</text>
<text x="57.2" y="1331.4" font-size="29" text-anchor="end">1500</text>
<text x="57.2" y="1386.1" font-size="29" text-anchor="end">1490</text>
<text x="57.2" y="1440.2" font-size="29" text-anchor="end">1480</text>
<text x="65.4" y="1491" font-size="29" text-anchor="middle">0</text>
<text x="221.4" y="1491" font-size="29" text-anchor="middle">1</text>
<text x="377.2" y="1491" font-size="29" text-anchor="middle">2</text>
<text x="535.3" y="1491" font-size="29" text-anchor="middle">3</text>
<text x="691.5" y="1491" font-size="29" text-anchor="middle">4</text>
<text x="847.3" y="1491" font-size="29" text-anchor="middle">5</text>
<text x="1004.7" y="1491" font-size="29" text-anchor="middle">6</text>
<text x="375.4" y="1168.5" font-size="31" textLength="313.2" lengthAdjust="spacing">(d) DC-link Voltage [V]</text>
<text x="470.2" y="1522" font-size="26" textLength="126.6" lengthAdjust="spacing">Time [Sec.]</text>
</g>
</svg>
</body></html>
